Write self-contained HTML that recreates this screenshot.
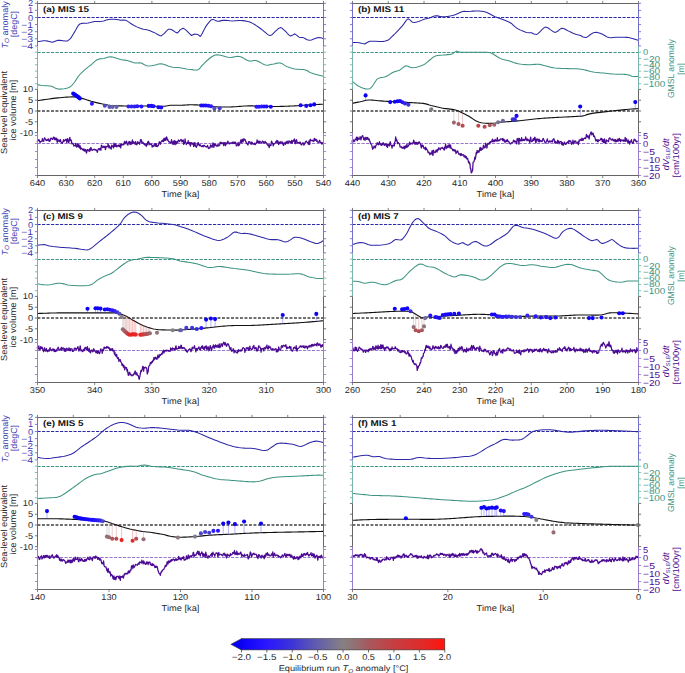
<!DOCTYPE html><html><head><meta charset="utf-8"><style>html,body{margin:0;padding:0;background:#fff;}svg{display:block;}text{font-family:"Liberation Sans",sans-serif;text-rendering:geometricPrecision;}</style></head><body>
<svg width="685" height="673" viewBox="0 0 685 673">
<rect width="685" height="673" fill="#ffffff"/>
<g>
<line x1="37.5" y1="17.5" x2="323.5" y2="17.5" stroke="#2c28a6" stroke-width="1" stroke-dasharray="3.2,1.3"/>
<line x1="37.5" y1="52.5" x2="323.5" y2="52.5" stroke="#3d9382" stroke-width="1" stroke-dasharray="3.2,1.3"/>
<line x1="37.5" y1="111" x2="323.5" y2="111" stroke="#6e6e6e" stroke-width="1.8" stroke-dasharray="2.9,1.6"/>
<line x1="37.5" y1="143.5" x2="323.5" y2="143.5" stroke="#9677cc" stroke-width="1" stroke-dasharray="3.2,1.3"/>
<polyline fill="none" stroke="#2c28a6" stroke-width="1.05" stroke-linejoin="round" points="37,41.8 38.54,41.54 40.74,41.16 43.18,40.82 45.4,40.7 47.99,41.13 50.46,41.86 52.7,42.2 55.17,41.29 57.9,40.3 60.1,40.39 62.73,40.74 65.29,41.07 67.3,41.1 70.4,38.6 71.58,36.89 72.93,34.69 74.32,32.37 75.6,30.3 76.92,27.86 78.13,25.63 79.8,24 81.63,23.39 83.82,23.2 86.07,23.16 88.1,23 90.39,22.48 92.46,21.91 94.4,21.5 97.13,21.44 99.6,21.5 101.7,21.29 103.8,20.9 106.21,20.11 109,19.4 111.39,19.26 114.02,19.28 116.3,19.4 118.53,19.85 120.5,20.3 122.78,19.99 125.7,20.3 127.33,21.13 129.21,22.33 131.21,23.7 133.22,25.02 135.1,26.1 137.37,27.12 139.63,27.97 141.73,28.66 143.5,29.2 145.68,29.59 147.6,29.9 149.5,30.56 151.64,31.43 153.9,32.4 155.75,33.35 157.75,34.46 159.65,35.42 161.2,35.9 164.3,33.4 166.33,31.07 168.5,29.2 170.57,29.32 172.7,30.3 175.09,31.91 177.3,33 178.74,31.72 180,29.9 183.1,28.2 185.13,29.38 187.3,31.3 189.47,33.69 191.5,35.5 194.6,34 197.7,34.4 200.3,36.5 201.26,35.15 202.42,33.04 203.67,30.56 204.93,28.12 206.1,26.1 207.51,24.1 208.93,22.33 210.23,20.86 211.3,19.8 213.4,19.4 215.24,20.39 217.6,21.3 219.44,21.12 221.5,20.62 223.8,20.3 225.75,20.36 227.87,20.56 230.06,20.78 232.2,20.9 234.33,20.84 236.48,20.69 238.57,20.54 240.5,20.5 242.75,20.62 244.77,20.88 246.8,21.3 248.83,21.83 250.85,22.53 253.1,23.6 254.63,24.5 256.27,25.57 257.98,26.75 259.7,27.98 261.4,29.2 263.12,30.58 264.91,32.15 266.67,33.67 268.32,34.88 269.8,35.5 271.77,34.99 273.39,33.36 275,31.7 276.77,30.1 278.54,28.47 280.2,27.6 282.24,28.33 284.4,30.3 285.86,31.72 287.5,33.51 289.14,35.15 290.6,36.1 292.83,35.1 294.8,33.8 296.9,35.33 299,37.2 300.98,37.44 303.2,37.6 305.04,38.53 307.1,39.71 309.4,40.3 311.42,39.92 313.66,39.07 315.87,38.16 317.8,37.6 320.93,37.83 323,38.4"/>
<polyline fill="none" stroke="#3d9382" stroke-width="1.05" stroke-linejoin="round" points="37,84.6 38.56,84.87 40.82,85.26 43.3,85.6 45.28,85.72 47.45,85.78 49.62,85.9 51.6,86.2 53.7,87.16 55.57,88.37 57.9,89.1 59.8,89.14 62.01,88.98 64.32,88.67 66.49,88.23 68.3,87.7 70.38,86.69 71.88,85.36 73.5,83.5 74.67,81.97 75.89,80.14 77.16,78.16 78.46,76.23 79.8,74.5 81.63,72.58 83.58,70.78 85.47,69.17 87.1,67.8 89.27,66.16 91.3,64.7 92.71,63.45 94.27,61.97 95.9,60.55 97.5,59.5 99.56,58.88 101.62,58.73 103.8,58.5 106.08,57.82 108.47,57.07 111.1,56.8 113.38,57.21 115.86,57.98 118.32,58.84 120.5,59.5 122.76,59.9 124.67,60.12 126.8,60.5 128.78,61.08 130.95,61.81 133.12,62.52 135.1,63 137.39,63.08 139.46,62.89 141.4,63 143.94,64.43 146.6,65.8 148.88,65.92 151.39,65.67 153.9,65.3 156.26,64.67 158.61,63.93 161.2,63.7 163.4,64.19 165.77,65.09 168.2,66.06 170.6,66.8 172.97,67.19 175.36,67.4 177.72,67.56 180,67.8 182.15,68.16 184.21,68.57 186.26,68.98 188.4,69.3 190.8,69.6 193.37,69.89 195.78,70.03 197.7,69.9 199.49,68.78 200.9,66.8 202.21,65.42 203.74,63.78 205.4,62.07 207.1,60.5 208.87,59 210.74,57.51 212.62,56.21 214.4,55.3 216.61,54.86 218.72,55 220.7,55.3 223.37,56.01 225.9,56.8 228.3,57.26 231.1,57.4 232.95,57.13 235.04,56.65 237.25,56.29 239.5,56.4 241.35,57.04 243.29,58.08 245.24,59.26 247.14,60.32 248.9,61 251.41,61.02 253.69,60.48 256.2,60.5 258,61.18 259.96,62.23 261.96,63.4 263.88,64.44 265.6,65.1 267.86,65.25 269.77,64.8 271.9,64.3 273.88,63.9 276.05,63.39 278.22,63.01 280.2,63 282.37,63.82 284.33,65.16 286.5,66.4 288.38,67.12 290.39,67.8 292.52,68.4 294.8,68.9 296.83,69.16 299.05,69.3 301.3,69.41 303.44,69.58 305.3,69.9 307.49,70.81 309.2,71.96 311.5,73.1 313.64,73.78 316.27,74.5 318.97,75.19 321.35,75.78 323,76.2"/>
<polyline fill="none" stroke="#111111" stroke-width="1.1" stroke-linejoin="round" points="37,100.7 38.41,100.49 40.41,100.2 42.73,99.86 45.15,99.51 47.4,99.2 49.41,98.92 51.35,98.65 53.33,98.39 55.47,98.14 57.9,97.9 59.92,97.72 62.17,97.51 64.55,97.31 66.98,97.12 69.35,96.98 71.55,96.9 73.5,96.9 76.31,97.11 78.65,97.52 80.77,98.04 82.9,98.6 85.07,99.22 87.17,99.92 89.23,100.64 91.3,101.3 93.33,101.87 95.32,102.4 97.37,102.9 99.6,103.4 101.56,103.81 103.65,104.24 105.8,104.64 107.97,105.01 110.1,105.3 112.02,105.51 113.76,105.66 115.59,105.77 117.75,105.84 120.5,105.9 122.16,105.92 124.01,105.93 126,105.93 128.1,105.92 130.29,105.91 132.54,105.9 134.8,105.89 137.05,105.88 139.26,105.89 141.4,105.9 143.55,105.93 145.78,105.98 148.07,106.03 150.36,106.1 152.64,106.16 154.85,106.22 156.96,106.27 158.93,106.3 160.72,106.31 162.3,106.3 165.24,106.12 167.17,105.83 168.74,105.51 170.6,105.3 172.8,105.24 175.04,105.27 177.41,105.31 180,105.3 181.88,105.23 183.86,105.13 185.93,105.01 188.06,104.9 190.26,104.82 192.5,104.8 194.51,104.83 196.64,104.89 198.83,104.98 201.02,105.09 203.17,105.21 205.21,105.35 207.1,105.5 209.4,105.76 211.4,106.08 213.3,106.41 215.3,106.7 217.6,106.9 219.45,106.98 221.41,107.03 223.46,107.05 225.58,107.04 227.76,107.01 229.97,106.96 232.2,106.9 234.13,106.81 236.03,106.68 237.94,106.53 239.89,106.36 241.93,106.2 244.09,106.06 246.4,105.96 248.9,105.9 250.71,105.9 252.65,105.92 254.69,105.97 256.8,106.03 258.98,106.1 261.19,106.18 263.42,106.25 265.64,106.33 267.83,106.4 269.97,106.45 272.03,106.49 274,106.5 276.28,106.49 278.53,106.46 280.75,106.42 282.93,106.37 285.06,106.31 287.13,106.23 289.15,106.15 291.11,106.07 292.99,105.99 294.8,105.9 297.22,105.76 299.45,105.61 301.54,105.44 303.54,105.26 305.48,105.09 307.42,104.94 309.4,104.8 311.88,104.66 314.51,104.54 317.11,104.43 319.51,104.34 321.53,104.26 323,104.2"/>
<polyline fill="none" stroke="#4a0a92" stroke-width="1.25" stroke-linejoin="round" points="37,140.68 37.45,141.52 37.9,140.78 38.35,140.46 38.8,139.58 39.25,140.23 39.7,142.02 40.15,141.58 40.6,142.21 41.05,141.35 41.5,141.29 41.95,140.99 42.4,138.57 42.85,141.09 43.3,141.25 43.75,141.26 44.2,138.49 44.65,137.71 45.1,138.55 45.55,139.24 46,140.29 46.45,140.04 46.9,140.61 47.35,139.22 47.8,139.98 48.25,140.21 48.7,138.87 49.15,141.43 49.6,140.54 50.05,141.04 50.5,138.82 50.95,138.04 51.4,138.26 51.85,138.54 52.3,139.46 52.75,139.13 53.2,138.1 53.65,137.13 54.1,137.36 54.55,139.52 55,137.81 55.45,139.08 55.9,139.97 56.35,138.13 56.8,139.93 57.25,142.29 57.7,139.07 58.15,140.46 58.6,141.01 59.05,140.25 59.5,141.69 59.95,141.34 60.4,139.49 60.85,141.88 61.3,142.27 61.75,142.7 62.2,143.42 62.65,142.24 63.1,141.63 63.55,139.69 64,141.59 64.45,140.52 64.9,140.44 65.35,139.4 65.8,139.5 66.25,140.06 66.7,142.46 67.15,138.9 67.6,138.72 68.05,140.78 68.5,142.79 68.95,142.2 69.4,138.95 69.85,137.35 70.3,140.53 70.75,140.25 71.2,140.01 71.65,142.85 72.1,144 72.55,143.38 73,143.62 73.45,144.2 73.9,146.07 74.35,145.6 74.8,145.58 75.25,145.75 75.7,143.32 76.15,146.45 76.6,146.99 77.05,146.76 77.5,143.74 77.95,144.83 78.4,147.12 78.85,144.54 79.3,146.1 79.75,148.16 80.2,145.93 80.65,149.2 81.1,148.89 81.55,148.14 82,148.75 82.45,149.51 82.9,149.25 83.35,150.67 83.8,148.96 84.25,149.05 84.7,151.1 85.15,150.54 85.6,149.47 86.05,151.69 86.5,153.1 86.95,151.27 87.4,149.47 87.85,150.32 88.3,150.29 88.75,149.88 89.2,151.69 89.65,148.89 90.1,150.83 90.55,147.94 91,147.6 91.45,149.19 91.9,150.32 92.35,150.32 92.8,149.74 93.25,149.39 93.7,149.37 94.15,149.95 94.6,149.21 95.05,149.65 95.5,150.18 95.95,149.65 96.4,150.53 96.85,150.55 97.3,152.42 97.75,150.67 98.2,149.09 98.65,148.6 99.1,148.76 99.55,149.81 100,148.33 100.45,148.7 100.9,150.44 101.35,145.2 101.8,145.53 102.25,147.15 102.7,147.59 103.15,147.33 103.6,146.26 104.05,147.33 104.5,147.2 104.95,146.19 105.4,149.66 105.85,147.97 106.3,146.44 106.75,146.66 107.2,146.59 107.65,146.8 108.1,143.56 108.55,145.58 109,147.99 109.45,145.9 109.9,146.79 110.35,148.23 110.8,148.36 111.25,149.1 111.7,145.21 112.15,145.83 112.6,145.92 113.05,147.05 113.5,147.84 113.95,143.23 114.4,146.7 114.85,144.31 115.3,146.29 115.75,143.98 116.2,145.4 116.65,146.94 117.1,145.56 117.55,145.55 118,146.22 118.45,145.48 118.9,144.92 119.35,146.72 119.8,146.47 120.25,144.65 120.7,147.91 121.15,143.8 121.6,145.28 122.05,144.11 122.5,144.24 122.95,144.93 123.4,144.43 123.85,144.76 124.3,142.06 124.75,141.34 125.2,143.75 125.65,142.31 126.1,141.81 126.55,141.06 127,144.23 127.45,144.3 127.9,145.16 128.35,142.29 128.8,142.68 129.25,141.29 129.7,143.25 130.15,144.7 130.6,141.9 131.05,144.21 131.5,144.09 131.95,142.6 132.4,139.98 132.85,143.55 133.3,142.57 133.75,141.69 134.2,142.72 134.65,142.99 135.1,144.42 135.55,141.63 136,143.63 136.45,144.57 136.9,144.76 137.35,142.76 137.8,141.56 138.25,143.46 138.7,142.81 139.15,142.66 139.6,144.24 140.05,142.53 140.5,139.56 140.95,141.21 141.4,139.78 141.85,142.88 142.3,143.12 142.75,142.1 143.2,142.68 143.65,143.97 144.1,143.43 144.55,144.94 145,143.67 145.45,144.82 145.9,145.75 146.35,146.22 146.8,143.57 147.25,144.93 147.7,141.91 148.15,142.23 148.6,141.3 149.05,144.94 149.5,143.06 149.95,144.17 150.4,144.26 150.85,144.54 151.3,143.95 151.75,144.88 152.2,147.11 152.65,145.53 153.1,145.78 153.55,146.48 154,145.21 154.45,143.61 154.9,144.13 155.35,146.35 155.8,143.55 156.25,144.2 156.7,146.42 157.15,146.64 157.6,145.45 158.05,145.94 158.5,145.05 158.95,142.94 159.4,141.73 159.85,142.37 160.3,144.27 160.75,142.68 161.2,141.65 161.65,141.35 162.1,140.12 162.55,141.37 163,140.15 163.45,141.56 163.9,138.3 164.35,140.64 164.8,139.8 165.25,137.76 165.7,140.38 166.15,139.57 166.6,136.93 167.05,138.17 167.5,140.08 167.95,139.77 168.4,141.38 168.85,141.89 169.3,142.06 169.75,141.82 170.2,143.17 170.65,142.81 171.1,142.6 171.55,139.52 172,142.62 172.45,144.06 172.9,142.41 173.35,141.64 173.8,144.37 174.25,140.33 174.7,142 175.15,144.77 175.6,141.17 176.05,142.2 176.5,143.86 176.95,141.66 177.4,141.87 177.85,142.25 178.3,139.99 178.75,140.35 179.2,140.82 179.65,141.5 180.1,140.56 180.55,140.28 181,139.29 181.45,139.97 181.9,141.8 182.35,141.38 182.8,140.18 183.25,140 183.7,144.45 184.15,143.75 184.6,143.06 185.05,138.95 185.5,142.04 185.95,142.74 186.4,144.53 186.85,143.51 187.3,142.74 187.75,143.39 188.2,140.57 188.65,143.69 189.1,143.69 189.55,142.51 190,144.85 190.45,146.14 190.9,142.5 191.35,142.57 191.8,143.85 192.25,144.1 192.7,143.5 193.15,142.7 193.6,146.43 194.05,146.07 194.5,143.26 194.95,142.43 195.4,146.1 195.85,146.19 196.3,147.31 196.75,146.39 197.2,144.13 197.65,145.04 198.1,142.31 198.55,143.45 199,144.66 199.45,145.76 199.9,144.53 200.35,145.05 200.8,145.97 201.25,146.17 201.7,146.62 202.15,146.28 202.6,145.6 203.05,146.9 203.5,146.37 203.95,145.22 204.4,145.26 204.85,146.13 205.3,146.28 205.75,146.73 206.2,146.72 206.65,147.01 207.1,146.77 207.55,145.38 208,147.21 208.45,148.54 208.9,148.17 209.35,147.37 209.8,148.04 210.25,146.52 210.7,144.78 211.15,146.63 211.6,145.7 212.05,147.41 212.5,145.4 212.95,142.81 213.4,144 213.85,147.42 214.3,145.67 214.75,143.85 215.2,143.99 215.65,145.48 216.1,145.67 216.55,145.17 217,146.52 217.45,145.74 217.9,144.48 218.35,144.78 218.8,146.03 219.25,145.34 219.7,145.07 220.15,142.22 220.6,142.53 221.05,143.55 221.5,142.37 221.95,143.69 222.4,143.47 222.85,143.8 223.3,142.49 223.75,145.6 224.2,144.75 224.65,142.72 225.1,142.59 225.55,145.69 226,142.79 226.45,143.59 226.9,143.92 227.35,142.79 227.8,141.04 228.25,142.29 228.7,142.82 229.15,143.92 229.6,143.76 230.05,142.77 230.5,143.56 230.95,143.36 231.4,142.9 231.85,142.59 232.3,142.22 232.75,143.6 233.2,142.02 233.65,142.4 234.1,143.54 234.55,142.24 235,143.45 235.45,142.03 235.9,143.59 236.35,145.79 236.8,146 237.25,145.01 237.7,144.3 238.15,142.39 238.6,145.73 239.05,144.68 239.5,144.89 239.95,142.23 240.4,142.19 240.85,139.89 241.3,142.33 241.75,142.88 242.2,139.23 242.65,140.44 243.1,141.81 243.55,139.27 244,138.67 244.45,139.59 244.9,140.47 245.35,139.84 245.8,141.59 246.25,142.41 246.7,143.21 247.15,143.6 247.6,144.82 248.05,144.81 248.5,141.83 248.95,142.2 249.4,141.71 249.85,141.68 250.3,143.03 250.75,143.59 251.2,144.45 251.65,142.18 252.1,142.16 252.55,143.79 253,144.08 253.45,143.92 253.9,144.09 254.35,143.18 254.8,144.69 255.25,144.54 255.7,143.87 256.15,142.88 256.6,143.17 257.05,139.97 257.5,141.25 257.95,142.76 258.4,141.12 258.85,142.76 259.3,143.01 259.75,141.08 260.2,141.92 260.65,141.96 261.1,142.85 261.55,143.18 262,142.36 262.45,141.05 262.9,141.52 263.35,141.65 263.8,142.93 264.25,143.05 264.7,142.1 265.15,141.37 265.6,142.71 266.05,142.89 266.5,142.76 266.95,144.27 267.4,144.48 267.85,145.37 268.3,145.84 268.75,144.63 269.2,147.58 269.65,144.84 270.1,145.77 270.55,144.61 271,145.39 271.45,141.06 271.9,141.84 272.35,143.12 272.8,143.71 273.25,145.86 273.7,143.72 274.15,144.21 274.6,143.52 275.05,143.41 275.5,142.67 275.95,141.49 276.4,142.13 276.85,140.38 277.3,142.83 277.75,140.76 278.2,141.89 278.65,144.57 279.1,142.38 279.55,142.2 280,143.65 280.45,142.65 280.9,141.42 281.35,142.51 281.8,143.26 282.25,143.67 282.7,141.98 283.15,144.78 283.6,145.44 284.05,143.6 284.5,143.47 284.95,142.41 285.4,144.34 285.85,142.06 286.3,143.11 286.75,141.82 287.2,141.12 287.65,142.6 288.1,143.63 288.55,142.1 289,140.77 289.45,142.19 289.9,141.36 290.35,141.49 290.8,142.93 291.25,142.69 291.7,140.45 292.15,143.29 292.6,141.04 293.05,141.63 293.5,140.18 293.95,140.74 294.4,138.92 294.85,143.05 295.3,143.73 295.75,140.84 296.2,139.92 296.65,139.72 297.1,143.33 297.55,142.36 298,142.78 298.45,142.74 298.9,143.14 299.35,142.2 299.8,143.52 300.25,142.2 300.7,143.74 301.15,144.73 301.6,144.94 302.05,143.99 302.5,142.77 302.95,143.66 303.4,142.94 303.85,145.19 304.3,144.62 304.75,143.23 305.2,142.31 305.65,141.65 306.1,141.06 306.55,141.5 307,142.29 307.45,142.62 307.9,142.64 308.35,144.42 308.8,141.22 309.25,141.18 309.7,144.51 310.15,139.38 310.6,139.65 311.05,140.44 311.5,140.48 311.95,140.91 312.4,140.24 312.85,140.87 313.3,140.67 313.75,141.56 314.2,138.49 314.65,139.02 315.1,140.29 315.55,139.36 316,139.15 316.45,141.22 316.9,140.18 317.35,141.56 317.8,142.09 318.25,141.91 318.7,142.3 319.15,141.82 319.6,140.26 320.05,141.78 320.5,142.96 320.95,142.21 321.4,142.75 321.85,144.13 322.3,142.63 322.75,144.34"/>
<circle cx="73.2" cy="93.6" r="2.05" fill="#0c00f5"/>
<circle cx="74.3" cy="94.3" r="2.05" fill="#0c00f5"/>
<circle cx="75.4" cy="95" r="2.05" fill="#0c00f5"/>
<circle cx="76.5" cy="95.8" r="2.05" fill="#0c00f5"/>
<circle cx="77.6" cy="96.6" r="2.05" fill="#0c00f5"/>
<circle cx="78.7" cy="97.4" r="2.05" fill="#0c00f5"/>
<circle cx="79.8" cy="98.4" r="2.05" fill="#0c00f5"/>
<circle cx="91.9" cy="103.8" r="2.05" fill="#2e1cf7"/>
<circle cx="104.8" cy="105.8" r="2.05" fill="#4d46c5"/>
<circle cx="109.5" cy="106.9" r="2.05" fill="#5c57b3"/>
<circle cx="112.5" cy="106.9" r="2.05" fill="#6460aa"/>
<circle cx="116.5" cy="106.9" r="2.05" fill="#6460aa"/>
<circle cx="128.5" cy="106.5" r="2.05" fill="#3222ef"/>
<circle cx="131.5" cy="106.5" r="2.05" fill="#3222ef"/>
<circle cx="134.5" cy="106.5" r="2.05" fill="#3222ef"/>
<circle cx="137.2" cy="106.2" r="2.05" fill="#2a16ff"/>
<circle cx="141.4" cy="106.5" r="2.05" fill="#2412fd"/>
<circle cx="148.7" cy="105.9" r="2.05" fill="#1809f9"/>
<circle cx="151.5" cy="105.9" r="2.05" fill="#1809f9"/>
<circle cx="153.5" cy="106.2" r="2.05" fill="#1e0dfb"/>
<circle cx="158.5" cy="107.3" r="2.05" fill="#1809f9"/>
<circle cx="161.2" cy="107.5" r="2.05" fill="#1809f9"/>
<circle cx="201.2" cy="105.5" r="2.05" fill="#1809f9"/>
<circle cx="203.5" cy="105.5" r="2.05" fill="#1809f9"/>
<circle cx="206" cy="105.5" r="2.05" fill="#1e0dfb"/>
<circle cx="208.5" cy="105.8" r="2.05" fill="#2412fd"/>
<circle cx="211" cy="106.2" r="2.05" fill="#2e1cf7"/>
<circle cx="214.4" cy="108.4" r="2.05" fill="#554ebc"/>
<circle cx="219.7" cy="108.2" r="2.05" fill="#463dce"/>
<circle cx="256.5" cy="106.7" r="2.05" fill="#2a16ff"/>
<circle cx="259" cy="106.7" r="2.05" fill="#2a16ff"/>
<circle cx="261.5" cy="106.5" r="2.05" fill="#2a16ff"/>
<circle cx="264" cy="106.5" r="2.05" fill="#2412fd"/>
<circle cx="266.5" cy="106.5" r="2.05" fill="#1e0dfb"/>
<circle cx="270.8" cy="106.7" r="2.05" fill="#1809f9"/>
<circle cx="300.7" cy="105.3" r="2.05" fill="#1204f7"/>
<circle cx="306.3" cy="105.9" r="2.05" fill="#1809f9"/>
<circle cx="310.5" cy="105.3" r="2.05" fill="#1204f7"/>
<circle cx="314.2" cy="104.4" r="2.05" fill="#0c00f5"/>
<line x1="37.5" y1="3.5" x2="37.5" y2="46.3" stroke="#7470c8" stroke-width="1"/>
<line x1="37.5" y1="46.3" x2="37.5" y2="89.5" stroke="#77b5a8" stroke-width="1"/>
<line x1="37.5" y1="89.5" x2="37.5" y2="132.8" stroke="#656565" stroke-width="1"/>
<line x1="37.5" y1="132.8" x2="37.5" y2="175.5" stroke="#9a7ccf" stroke-width="1"/>
<line x1="323.5" y1="3.5" x2="323.5" y2="46.3" stroke="#7470c8" stroke-width="1"/>
<line x1="323.5" y1="46.3" x2="323.5" y2="89.5" stroke="#77b5a8" stroke-width="1"/>
<line x1="323.5" y1="89.5" x2="323.5" y2="132.8" stroke="#656565" stroke-width="1"/>
<line x1="323.5" y1="132.8" x2="323.5" y2="175.5" stroke="#9a7ccf" stroke-width="1"/>
<line x1="37" y1="3.5" x2="324" y2="3.5" stroke="#656565" stroke-width="1"/>
<line x1="37" y1="175.5" x2="324" y2="175.5" stroke="#656565" stroke-width="1"/>
<line x1="34.9" y1="3.3" x2="37.5" y2="3.3" stroke="#7470c8" stroke-width="0.9"/><line x1="323.5" y1="3.3" x2="326.1" y2="3.3" stroke="#7470c8" stroke-width="0.9"/><line x1="34.9" y1="10.4" x2="37.5" y2="10.4" stroke="#7470c8" stroke-width="0.9"/><line x1="323.5" y1="10.4" x2="326.1" y2="10.4" stroke="#7470c8" stroke-width="0.9"/><line x1="34.9" y1="17.5" x2="37.5" y2="17.5" stroke="#7470c8" stroke-width="0.9"/><line x1="323.5" y1="17.5" x2="326.1" y2="17.5" stroke="#7470c8" stroke-width="0.9"/><line x1="34.9" y1="24.6" x2="37.5" y2="24.6" stroke="#7470c8" stroke-width="0.9"/><line x1="323.5" y1="24.6" x2="326.1" y2="24.6" stroke="#7470c8" stroke-width="0.9"/><line x1="34.9" y1="31.7" x2="37.5" y2="31.7" stroke="#7470c8" stroke-width="0.9"/><line x1="323.5" y1="31.7" x2="326.1" y2="31.7" stroke="#7470c8" stroke-width="0.9"/><line x1="34.9" y1="38.8" x2="37.5" y2="38.8" stroke="#7470c8" stroke-width="0.9"/><line x1="323.5" y1="38.8" x2="326.1" y2="38.8" stroke="#7470c8" stroke-width="0.9"/><line x1="34.9" y1="45.9" x2="37.5" y2="45.9" stroke="#7470c8" stroke-width="0.9"/><line x1="323.5" y1="45.9" x2="326.1" y2="45.9" stroke="#7470c8" stroke-width="0.9"/><line x1="34.9" y1="52.2" x2="37.5" y2="52.2" stroke="#77b5a8" stroke-width="0.9"/><line x1="323.5" y1="52.2" x2="326.1" y2="52.2" stroke="#77b5a8" stroke-width="0.9"/><line x1="34.9" y1="58.5" x2="37.5" y2="58.5" stroke="#77b5a8" stroke-width="0.9"/><line x1="323.5" y1="58.5" x2="326.1" y2="58.5" stroke="#77b5a8" stroke-width="0.9"/><line x1="34.9" y1="64.8" x2="37.5" y2="64.8" stroke="#77b5a8" stroke-width="0.9"/><line x1="323.5" y1="64.8" x2="326.1" y2="64.8" stroke="#77b5a8" stroke-width="0.9"/><line x1="34.9" y1="71.1" x2="37.5" y2="71.1" stroke="#77b5a8" stroke-width="0.9"/><line x1="323.5" y1="71.1" x2="326.1" y2="71.1" stroke="#77b5a8" stroke-width="0.9"/><line x1="34.9" y1="77.4" x2="37.5" y2="77.4" stroke="#77b5a8" stroke-width="0.9"/><line x1="323.5" y1="77.4" x2="326.1" y2="77.4" stroke="#77b5a8" stroke-width="0.9"/><line x1="34.9" y1="83.7" x2="37.5" y2="83.7" stroke="#77b5a8" stroke-width="0.9"/><line x1="323.5" y1="83.7" x2="326.1" y2="83.7" stroke="#77b5a8" stroke-width="0.9"/><line x1="34.9" y1="89.4" x2="37.5" y2="89.4" stroke="#656565" stroke-width="0.9"/><line x1="323.5" y1="89.4" x2="326.1" y2="89.4" stroke="#656565" stroke-width="0.9"/><line x1="34.9" y1="100.2" x2="37.5" y2="100.2" stroke="#656565" stroke-width="0.9"/><line x1="323.5" y1="100.2" x2="326.1" y2="100.2" stroke="#656565" stroke-width="0.9"/><line x1="34.9" y1="111" x2="37.5" y2="111" stroke="#656565" stroke-width="0.9"/><line x1="323.5" y1="111" x2="326.1" y2="111" stroke="#656565" stroke-width="0.9"/><line x1="34.9" y1="121.8" x2="37.5" y2="121.8" stroke="#656565" stroke-width="0.9"/><line x1="323.5" y1="121.8" x2="326.1" y2="121.8" stroke="#656565" stroke-width="0.9"/><line x1="34.9" y1="132.6" x2="37.5" y2="132.6" stroke="#656565" stroke-width="0.9"/><line x1="323.5" y1="132.6" x2="326.1" y2="132.6" stroke="#656565" stroke-width="0.9"/><line x1="34.9" y1="135.5" x2="37.5" y2="135.5" stroke="#9a7ccf" stroke-width="0.9"/><line x1="323.5" y1="135.5" x2="326.1" y2="135.5" stroke="#9a7ccf" stroke-width="0.9"/><line x1="34.9" y1="143.5" x2="37.5" y2="143.5" stroke="#9a7ccf" stroke-width="0.9"/><line x1="323.5" y1="143.5" x2="326.1" y2="143.5" stroke="#9a7ccf" stroke-width="0.9"/><line x1="34.9" y1="151.5" x2="37.5" y2="151.5" stroke="#9a7ccf" stroke-width="0.9"/><line x1="323.5" y1="151.5" x2="326.1" y2="151.5" stroke="#9a7ccf" stroke-width="0.9"/><line x1="34.9" y1="159.5" x2="37.5" y2="159.5" stroke="#9a7ccf" stroke-width="0.9"/><line x1="323.5" y1="159.5" x2="326.1" y2="159.5" stroke="#9a7ccf" stroke-width="0.9"/><line x1="34.9" y1="167.5" x2="37.5" y2="167.5" stroke="#9a7ccf" stroke-width="0.9"/><line x1="323.5" y1="167.5" x2="326.1" y2="167.5" stroke="#9a7ccf" stroke-width="0.9"/><line x1="34.9" y1="175.5" x2="37.5" y2="175.5" stroke="#9a7ccf" stroke-width="0.9"/><line x1="323.5" y1="175.5" x2="326.1" y2="175.5" stroke="#9a7ccf" stroke-width="0.9"/><line x1="37.5" y1="175.5" x2="37.5" y2="178.1" stroke="#656565" stroke-width="0.8"/><line x1="66.1" y1="175.5" x2="66.1" y2="178.1" stroke="#656565" stroke-width="0.8"/><line x1="94.7" y1="175.5" x2="94.7" y2="178.1" stroke="#656565" stroke-width="0.8"/><line x1="123.3" y1="175.5" x2="123.3" y2="178.1" stroke="#656565" stroke-width="0.8"/><line x1="151.9" y1="175.5" x2="151.9" y2="178.1" stroke="#656565" stroke-width="0.8"/><line x1="180.5" y1="175.5" x2="180.5" y2="178.1" stroke="#656565" stroke-width="0.8"/><line x1="209.1" y1="175.5" x2="209.1" y2="178.1" stroke="#656565" stroke-width="0.8"/><line x1="237.7" y1="175.5" x2="237.7" y2="178.1" stroke="#656565" stroke-width="0.8"/><line x1="266.3" y1="175.5" x2="266.3" y2="178.1" stroke="#656565" stroke-width="0.8"/><line x1="294.9" y1="175.5" x2="294.9" y2="178.1" stroke="#656565" stroke-width="0.8"/><line x1="323.5" y1="175.5" x2="323.5" y2="178.1" stroke="#656565" stroke-width="0.8"/><line x1="37.5" y1="0.9" x2="37.5" y2="3.5" stroke="#656565" stroke-width="0.8"/><line x1="94.7" y1="0.9" x2="94.7" y2="3.5" stroke="#656565" stroke-width="0.8"/><line x1="151.9" y1="0.9" x2="151.9" y2="3.5" stroke="#656565" stroke-width="0.8"/><line x1="209.1" y1="0.9" x2="209.1" y2="3.5" stroke="#656565" stroke-width="0.8"/><line x1="266.3" y1="0.9" x2="266.3" y2="3.5" stroke="#656565" stroke-width="0.8"/><line x1="323.5" y1="0.9" x2="323.5" y2="3.5" stroke="#656565" stroke-width="0.8"/>
<text x="37.5" y="186.1" font-size="8.5" fill="#262626" text-anchor="middle" textLength="15.37" lengthAdjust="spacingAndGlyphs">640</text>
<text x="66.1" y="186.1" font-size="8.5" fill="#262626" text-anchor="middle" textLength="15.37" lengthAdjust="spacingAndGlyphs">630</text>
<text x="94.7" y="186.1" font-size="8.5" fill="#262626" text-anchor="middle" textLength="15.37" lengthAdjust="spacingAndGlyphs">620</text>
<text x="123.3" y="186.1" font-size="8.5" fill="#262626" text-anchor="middle" textLength="15.37" lengthAdjust="spacingAndGlyphs">610</text>
<text x="151.9" y="186.1" font-size="8.5" fill="#262626" text-anchor="middle" textLength="15.37" lengthAdjust="spacingAndGlyphs">600</text>
<text x="180.5" y="186.1" font-size="8.5" fill="#262626" text-anchor="middle" textLength="15.37" lengthAdjust="spacingAndGlyphs">590</text>
<text x="209.1" y="186.1" font-size="8.5" fill="#262626" text-anchor="middle" textLength="15.37" lengthAdjust="spacingAndGlyphs">580</text>
<text x="237.7" y="186.1" font-size="8.5" fill="#262626" text-anchor="middle" textLength="15.37" lengthAdjust="spacingAndGlyphs">570</text>
<text x="266.3" y="186.1" font-size="8.5" fill="#262626" text-anchor="middle" textLength="15.37" lengthAdjust="spacingAndGlyphs">560</text>
<text x="294.9" y="186.1" font-size="8.5" fill="#262626" text-anchor="middle" textLength="15.37" lengthAdjust="spacingAndGlyphs">550</text>
<text x="323.5" y="186.1" font-size="8.5" fill="#262626" text-anchor="middle" textLength="15.37" lengthAdjust="spacingAndGlyphs">540</text>
<text x="180.5" y="196.5" font-size="8.7" fill="#262626" text-anchor="middle" textLength="37.76" lengthAdjust="spacingAndGlyphs">Time [ka]</text>
<text x="42.9" y="11.8" font-size="8.4" fill="#111" text-anchor="start" font-weight="bold" textLength="46.11" lengthAdjust="spacingAndGlyphs">(a) MIS 15</text>
<text x="33.1" y="6.3" font-size="8.5" fill="#3a37b0" text-anchor="end" textLength="5.15" lengthAdjust="spacingAndGlyphs">2</text>
<text x="33.1" y="13.4" font-size="8.5" fill="#3a37b0" text-anchor="end" textLength="5.15" lengthAdjust="spacingAndGlyphs">1</text>
<text x="33.1" y="20.5" font-size="8.5" fill="#3a37b0" text-anchor="end" textLength="5.15" lengthAdjust="spacingAndGlyphs">0</text>
<text x="33.1" y="27.6" font-size="8.5" fill="#3a37b0" text-anchor="end" textLength="11.94" lengthAdjust="spacingAndGlyphs">−1</text>
<text x="33.1" y="34.7" font-size="8.5" fill="#3a37b0" text-anchor="end" textLength="11.94" lengthAdjust="spacingAndGlyphs">−2</text>
<text x="33.1" y="41.8" font-size="8.5" fill="#3a37b0" text-anchor="end" textLength="11.94" lengthAdjust="spacingAndGlyphs">−3</text>
<text x="33.1" y="48.9" font-size="8.5" fill="#3a37b0" text-anchor="end" textLength="11.94" lengthAdjust="spacingAndGlyphs">−4</text>
<text x="33.1" y="92.4" font-size="8.5" fill="#262626" text-anchor="end" textLength="10.31" lengthAdjust="spacingAndGlyphs">10</text>
<text x="33.1" y="103.2" font-size="8.5" fill="#262626" text-anchor="end" textLength="5.15" lengthAdjust="spacingAndGlyphs">5</text>
<text x="33.1" y="114" font-size="8.5" fill="#262626" text-anchor="end" textLength="5.15" lengthAdjust="spacingAndGlyphs">0</text>
<text x="33.1" y="124.8" font-size="8.5" fill="#262626" text-anchor="end" textLength="8.08" lengthAdjust="spacingAndGlyphs">-5</text>
<text x="33.1" y="135.6" font-size="8.5" fill="#262626" text-anchor="end" textLength="13.23" lengthAdjust="spacingAndGlyphs">-10</text>
<text transform="translate(7.8,24.9) rotate(-90)" x="0" y="0" font-size="8.8" fill="#3a37b0" text-anchor="middle" textLength="47.4" lengthAdjust="spacingAndGlyphs"><tspan font-style="italic">T</tspan><tspan font-size="6.2" font-style="italic" dy="1.6">O</tspan><tspan dy="-1.6"> anomaly</tspan></text>
<text transform="translate(17.2,24.1) rotate(-90)" x="0" y="0" font-size="8.8" fill="#3a37b0" text-anchor="middle" textLength="26.3" lengthAdjust="spacingAndGlyphs">[degC]</text>
<text transform="translate(7.4,112.4) rotate(-90)" x="0" y="0" font-size="8.8" fill="#262626" text-anchor="middle" textLength="83.1" lengthAdjust="spacingAndGlyphs">Sea-level equivalent</text>
<text transform="translate(16.2,110.2) rotate(-90)" x="0" y="0" font-size="8.8" fill="#262626" text-anchor="middle" textLength="60.8" lengthAdjust="spacingAndGlyphs">ice volume [m]</text>
</g>
<g>
<line x1="352.5" y1="17.5" x2="638.5" y2="17.5" stroke="#2c28a6" stroke-width="1" stroke-dasharray="3.2,1.3"/>
<line x1="352.5" y1="52.5" x2="638.5" y2="52.5" stroke="#3d9382" stroke-width="1" stroke-dasharray="3.2,1.3"/>
<line x1="352.5" y1="111" x2="638.5" y2="111" stroke="#6e6e6e" stroke-width="1.8" stroke-dasharray="2.9,1.6"/>
<line x1="352.5" y1="143.5" x2="638.5" y2="143.5" stroke="#9677cc" stroke-width="1" stroke-dasharray="3.2,1.3"/>
<polyline fill="none" stroke="#2c28a6" stroke-width="1.05" stroke-linejoin="round" points="352,42.4 353.96,42.47 356.72,42.59 359.3,42.8 362.26,43.59 364.9,44 366.67,42.74 369.7,41.3 371.44,41.18 373.64,41.21 376.11,41.3 378.69,41.4 381.21,41.45 383.5,41.37 385.4,41.1 387.77,40.26 389.44,39.1 390.92,37.64 392.7,35.9 394.19,34.5 395.81,32.88 397.49,31.13 399.15,29.35 400.71,27.64 402.1,26.1 403.85,23.85 405.36,21.62 406.71,19.81 408,18.8 410.23,20.14 412.5,22.3 414.51,22.41 416.71,22.04 418.8,21.5 421.4,20.39 424,19.2 426.06,18.66 428.24,18.21 430.3,17.7 432.9,16.54 435.5,15.7 437.44,15.87 439.51,16.37 441.8,16.7 443.78,16.69 445.95,16.58 448.12,16.38 450.1,16.1 452.35,15.59 454.38,14.94 456.4,14.2 458.47,13.26 460.53,12.23 462.6,11.5 464.61,11.32 466.64,11.44 468.9,11.5 470.85,11.35 472.98,11.12 475.16,10.94 477.3,10.9 479.36,10.99 481.39,11.18 483.45,11.52 485.6,12.1 487.43,12.83 489.33,13.77 491.26,14.8 493.17,15.82 495,16.7 497.2,17.58 499.33,18.34 501.4,19.05 503.4,19.8 505.96,20.79 508.39,21.78 510.7,23 512.25,24.18 513.67,25.54 515.15,26.92 516.9,28.2 518.64,29.16 520.63,30.13 522.69,31.04 524.64,31.82 526.3,32.4 529.16,32.76 531.5,32.8 533.96,34.08 536.8,34.4 538.32,33.35 540.05,31.65 541.86,29.74 543.59,28.08 545.1,27.1 547.89,27.72 550.3,29.6 552.83,31.42 555.5,32.4 557.56,31.29 559.74,29.39 561.8,28.2 564.34,28.77 567,30.3 568.7,31.12 570.58,32.08 572.5,33.02 574.3,33.8 576.51,34.49 578.62,34.97 580.6,35.5 583.07,36.98 585.8,37.6 587.7,36.66 589.87,35.04 592.1,33.41 594.2,32.4 596.71,32.29 599.11,32.91 601.5,33.8 603.33,34.68 605.15,35.81 606.97,36.89 608.8,37.6 611.04,37.75 613.28,37.43 616.1,37.2 617.92,37.19 620,37.19 622.22,37.21 624.47,37.27 626.64,37.39 628.6,37.6 631.39,38.18 634.08,38.98 636.38,39.76 638,40.3"/>
<polyline fill="none" stroke="#3d9382" stroke-width="1.05" stroke-linejoin="round" points="352,81 353.24,82.09 355,83.67 357.09,85.31 359.3,86.6 361.22,87.43 363.36,88.26 365.58,88.88 367.74,89.1 369.7,88.7 371.15,87.67 372.49,86.03 373.76,84.06 374.99,82.04 376.22,80.23 377.5,78.9 379.46,77.9 381.41,77.54 383.39,77.33 385.4,76.8 387.52,75.73 389.71,74.4 391.84,73.07 393.8,72 396.04,71.17 398.04,70.65 400,69.9 401.96,68.46 403.89,66.79 405.9,65.8 407.9,66.19 409.99,67.26 412.5,67.8 414.42,67.59 416.63,67.15 418.92,66.54 421.11,65.84 423,65.1 425.38,63.71 427.29,62.1 429.2,60.5 431.18,58.83 433.17,57.17 435.5,55.9 437.68,55.4 440.14,55.17 442.63,55.07 444.9,54.9 447.6,54.63 450.07,54.37 452.2,53.9 454.49,52.37 456.4,51.1 457.72,51.48 460.6,52.2 462.12,52.25 463.99,52.27 466.13,52.26 468.43,52.24 470.8,52.22 473.13,52.2 475.33,52.19 477.3,52.2 479.71,52.22 482.05,52.22 484.27,52.23 486.33,52.28 488.19,52.4 489.8,52.6 492.79,53.75 495,55.3 496.94,56.49 499.01,57.78 501.3,58.9 503.23,59.52 505.32,60.01 507.47,60.47 509.6,61 511.65,61.67 513.67,62.42 515.76,63.13 518,63.7 519.95,64.03 522.02,64.29 524.14,64.48 526.29,64.62 528.4,64.7 530.55,64.68 532.76,64.55 534.94,64.39 536.98,64.28 538.8,64.3 541.13,64.64 543,65.19 545.1,65.8 547.01,66.3 549.04,66.85 551.21,67.38 553.5,67.8 555.38,68.03 557.31,68.19 559.34,68.3 561.52,68.4 563.9,68.5 565.84,68.57 568.01,68.62 570.3,68.66 572.6,68.7 574.81,68.75 576.81,68.81 578.5,68.9 581.14,69.15 582.86,69.46 584.8,69.9 586.68,70.37 588.69,70.94 590.82,71.52 593.1,72 595.06,72.29 597.15,72.52 599.3,72.72 601.47,72.9 603.6,73.1 605.65,73.32 607.67,73.54 609.69,73.75 611.79,73.94 614,74.1 616.05,74.19 618.28,74.23 620.58,74.26 622.8,74.29 624.81,74.37 626.5,74.5 629.49,75.35 631.7,76.2 633.95,76.44 636.33,76.54 638,76.6"/>
<polyline fill="none" stroke="#111111" stroke-width="1.1" stroke-linejoin="round" points="352,103.4 353.51,103.09 355.68,102.66 358.11,102.16 360.4,101.7 362.33,101.21 364.16,100.67 366.18,100.23 368.7,100 370.4,100.01 372.23,100.11 374.19,100.27 376.27,100.47 378.49,100.7 380.83,100.91 383.3,101.1 385.14,101.22 387.11,101.34 389.17,101.46 391.31,101.58 393.49,101.7 395.69,101.82 397.89,101.94 400.05,102.06 402.17,102.18 404.2,102.3 406.44,102.42 408.72,102.53 411.01,102.64 413.28,102.74 415.48,102.85 417.59,102.96 419.57,103.09 421.38,103.23 423,103.4 425.76,103.85 427.67,104.36 429.32,104.92 431.3,105.5 433.26,105.99 435.35,106.52 437.5,107.06 439.67,107.56 441.8,108 443.95,108.35 446.16,108.62 448.34,108.87 450.38,109.12 452.2,109.4 454.45,109.81 456.25,110.26 458.5,111.1 460.35,111.92 462.46,112.93 464.69,114.05 466.88,115.2 468.9,116.3 471.14,117.68 473.23,119.12 475.25,120.45 477.3,121.5 479.36,122.21 481.39,122.67 483.45,122.98 485.6,123.2 487.99,123.34 490.56,123.37 492.99,123.31 495,123.2 496.64,122.77 499.2,122.2 500.66,122.08 502.4,121.96 504.36,121.85 506.51,121.73 508.78,121.6 511.14,121.46 513.53,121.3 515.9,121.1 517.82,120.91 519.81,120.7 521.86,120.47 523.96,120.22 526.09,119.97 528.25,119.71 530.41,119.46 532.56,119.22 534.7,119 536.8,118.8 538.87,118.62 540.92,118.46 542.95,118.31 544.97,118.17 547.01,118.04 549.05,117.91 551.13,117.78 553.24,117.66 555.39,117.53 557.6,117.4 559.55,117.29 561.64,117.18 563.83,117.07 566.09,116.96 568.37,116.85 570.63,116.74 572.83,116.63 574.93,116.52 576.9,116.42 578.7,116.31 580.28,116.2 581.6,116.1 584.93,115.51 586,114.9 587.81,114.4 589.79,113.87 592,113.4 593.77,113.12 595.63,112.89 597.68,112.67 600,112.4 602.05,112.15 604.25,111.88 606.61,111.6 609.15,111.31 611.9,111 613.81,110.8 615.91,110.57 618.13,110.34 620.41,110.11 622.66,109.88 624.83,109.66 626.83,109.47 628.6,109.3 631.68,109.04 634.34,108.84 636.48,108.7 638,108.6"/>
<polyline fill="none" stroke="#4a0a92" stroke-width="1.25" stroke-linejoin="round" points="352,142.63 352.45,140.09 352.9,140.26 353.35,139.85 353.8,141.79 354.25,140.67 354.7,141.04 355.15,139.07 355.6,139.35 356.05,139.35 356.5,137.07 356.95,140.44 357.4,140.53 357.85,137.17 358.3,139.37 358.75,138.73 359.2,139.2 359.65,139.13 360.1,136.68 360.55,137.59 361,139.85 361.45,137.74 361.9,136.56 362.35,135.75 362.8,135.63 363.25,137.45 363.7,139.51 364.15,138.36 364.6,137.83 365.05,140.46 365.5,137.88 365.95,137.24 366.4,138.79 366.85,139.4 367.3,137.8 367.75,137.4 368.2,139.33 368.65,139.96 369.1,138.89 369.55,140.66 370,141.31 370.45,143.36 370.9,143.78 371.35,144.56 371.8,145.06 372.25,147.58 372.7,149.26 373.15,147.47 373.6,148.15 374.05,146.07 374.5,146.34 374.95,147 375.4,147.88 375.85,145.47 376.3,145.01 376.75,144.98 377.2,142.68 377.65,144.07 378.1,143.55 378.55,144.73 379,143.14 379.45,141.69 379.9,143.85 380.35,144.66 380.8,143.85 381.25,145.45 381.7,144.4 382.15,143.72 382.6,144.9 383.05,142.64 383.5,143.19 383.95,144.15 384.4,145.47 384.85,144.54 385.3,144.9 385.75,143.78 386.2,144.7 386.65,146.63 387.1,144.17 387.55,147.38 388,144.41 388.45,144.5 388.9,144.72 389.35,145.83 389.8,143.29 390.25,141.57 390.7,144.53 391.15,145.5 391.6,145.53 392.05,148.05 392.5,145.64 392.95,145.1 393.4,145.81 393.85,145.21 394.3,145.94 394.75,141.93 395.2,141.44 395.65,136.91 396.1,140.54 396.55,139.4 397,140.57 397.45,143.55 397.9,142.39 398.35,142.58 398.8,143.12 399.25,143.62 399.7,144.8 400.15,147.16 400.6,146.92 401.05,146.98 401.5,146.77 401.95,148.16 402.4,148.06 402.85,147.32 403.3,148.23 403.75,147.51 404.2,146.16 404.65,148.77 405.1,147.96 405.55,145.76 406,147.54 406.45,146.84 406.9,144.06 407.35,147.12 407.8,146.07 408.25,146.28 408.7,145.25 409.15,144.34 409.6,142.14 410.05,144.52 410.5,143.72 410.95,143.1 411.4,143.68 411.85,143.41 412.3,144.02 412.75,142.8 413.2,142.84 413.65,140.15 414.1,141.56 414.55,143.21 415,144.39 415.45,142.48 415.9,142.24 416.35,144.24 416.8,142.29 417.25,143.05 417.7,144.36 418.15,142.57 418.6,143.53 419.05,141.62 419.5,142.74 419.95,143.05 420.4,143.76 420.85,145.59 421.3,148.01 421.75,145.18 422.2,144.97 422.65,146.64 423.1,145.49 423.55,147.47 424,148.39 424.45,147.9 424.9,149.13 425.35,147.17 425.8,149.9 426.25,148.05 426.7,148.98 427.15,149.72 427.6,150.44 428.05,152.53 428.5,152.42 428.95,152.13 429.4,153.33 429.85,154.77 430.3,153.08 430.75,153.02 431.2,154.02 431.65,152.98 432.1,150.69 432.55,154.76 433,155.35 433.45,150.17 433.9,151.23 434.35,151.98 434.8,152.78 435.25,152.52 435.7,151.2 436.15,149.82 436.6,150.83 437.05,152.17 437.5,149.77 437.95,149.08 438.4,149.98 438.85,147.64 439.3,148.98 439.75,148.92 440.2,149.85 440.65,148.47 441.1,147.72 441.55,147.98 442,148.3 442.45,147.44 442.9,147.9 443.35,148.76 443.8,149.35 444.25,150.1 444.7,147.13 445.15,146.79 445.6,144.07 446.05,148.81 446.5,146.66 446.95,146.94 447.4,147.65 447.85,145.42 448.3,147.08 448.75,146.83 449.2,144.47 449.65,146.47 450.1,148.04 450.55,145 451,147.86 451.45,148.1 451.9,148.78 452.35,149.18 452.8,150.64 453.25,149.37 453.7,150.71 454.15,149.71 454.6,151.17 455.05,149.88 455.5,150.72 455.95,153.51 456.4,152.88 456.85,152.1 457.3,150.84 457.75,151.13 458.2,152.61 458.65,154.08 459.1,153.97 459.55,154.24 460,153.76 460.45,155.56 460.9,153.99 461.35,153.57 461.8,155.43 462.25,155.04 462.7,154.71 463.15,154.55 463.6,155.17 464.05,156.7 464.5,157.01 464.95,155.4 465.4,157.31 465.85,157.75 466.3,156.65 466.75,158.86 467.2,158.36 467.65,158.44 468.1,160.49 468.55,162.64 469,161.53 469.45,163.53 469.9,163.25 470.35,168.56 470.8,168.69 471.25,172.88 471.7,172.46 472.15,171.07 472.6,170.43 473.05,162.39 473.5,161.98 473.95,161.78 474.4,159.72 474.85,157.22 475.3,159.24 475.75,156.36 476.2,152.65 476.65,154.01 477.1,150.29 477.55,152.57 478,150.84 478.45,151.08 478.9,152.31 479.35,150.96 479.8,148.5 480.25,147.28 480.7,150.34 481.15,150.33 481.6,148.15 482.05,149.47 482.5,149.12 482.95,148.99 483.4,145.1 483.85,146.29 484.3,147.81 484.75,147.7 485.2,147.58 485.65,143.1 486.1,144.98 486.55,145.58 487,148.03 487.45,143.98 487.9,143.47 488.35,143.52 488.8,144.31 489.25,142.57 489.7,143.85 490.15,141.61 490.6,142.25 491.05,141.28 491.5,141.76 491.95,140.68 492.4,139.14 492.85,141.98 493.3,141.57 493.75,140.25 494.2,140.74 494.65,141.71 495.1,139.39 495.55,139.94 496,140.88 496.45,141.1 496.9,140.08 497.35,137.61 497.8,141.18 498.25,140.93 498.7,140.47 499.15,140 499.6,140.55 500.05,139.83 500.5,138.9 500.95,139.03 501.4,139.24 501.85,139.27 502.3,138.59 502.75,140.67 503.2,138.75 503.65,140.82 504.1,139.37 504.55,140.82 505,142.58 505.45,141.66 505.9,140.37 506.35,141.13 506.8,141.56 507.25,139.42 507.7,140.41 508.15,141.73 508.6,141.38 509.05,142.08 509.5,143.19 509.95,143.61 510.4,144.01 510.85,143.82 511.3,142.78 511.75,142.94 512.2,142.49 512.65,142.22 513.1,142.21 513.55,140.16 514,141.28 514.45,141.84 514.9,140.69 515.35,141.48 515.8,142.24 516.25,141.47 516.7,143.97 517.15,138.63 517.6,140.19 518.05,138.45 518.5,141.41 518.95,144.14 519.4,138.26 519.85,139.98 520.3,140.83 520.75,140.01 521.2,140.85 521.65,137.54 522.1,140.56 522.55,140.69 523,140.26 523.45,139.37 523.9,140.65 524.35,139.54 524.8,140.13 525.25,139.33 525.7,136.94 526.15,139.08 526.6,139.89 527.05,140.76 527.5,138.91 527.95,139.48 528.4,140.41 528.85,140.06 529.3,141.34 529.75,142.6 530.2,139.29 530.65,137.2 531.1,140.14 531.55,141.72 532,141.36 532.45,141.13 532.9,139.28 533.35,138.7 533.8,140.56 534.25,138.78 534.7,137.2 535.15,137.83 535.6,142.35 536.05,142.77 536.5,139.61 536.95,138.81 537.4,139.95 537.85,139.12 538.3,141.59 538.75,140.59 539.2,139.19 539.65,141.94 540.1,140.37 540.55,141.1 541,141.09 541.45,140.83 541.9,141.67 542.35,140.72 542.8,139.15 543.25,138.41 543.7,139.51 544.15,140.54 544.6,141.82 545.05,142.35 545.5,142.97 545.95,142.47 546.4,141.1 546.85,140.77 547.3,138.82 547.75,140.67 548.2,141.85 548.65,142.1 549.1,141.25 549.55,140.87 550,142.06 550.45,141.11 550.9,141.67 551.35,141.52 551.8,140.92 552.25,142.03 552.7,139.86 553.15,139.49 553.6,138.8 554.05,138.82 554.5,141.9 554.95,143.05 555.4,141.29 555.85,141.66 556.3,142.64 556.75,142.55 557.2,143.15 557.65,140.34 558.1,140.54 558.55,142.08 559,143.82 559.45,142.72 559.9,141.37 560.35,141.78 560.8,141.63 561.25,141.47 561.7,144.51 562.15,142.54 562.6,142.77 563.05,145.45 563.5,144.83 563.95,143.55 564.4,141.98 564.85,142.8 565.3,144.46 565.75,143.56 566.2,144.07 566.65,142.67 567.1,142.79 567.55,141.85 568,142.34 568.45,143.49 568.9,140.3 569.35,141.15 569.8,141.67 570.25,140.74 570.7,140.95 571.15,142.43 571.6,144.38 572.05,143.22 572.5,142.62 572.95,140.18 573.4,143.99 573.85,142.69 574.3,142.3 574.75,140.91 575.2,141.95 575.65,140.98 576.1,142.26 576.55,143.14 577,142.88 577.45,143.19 577.9,141.92 578.35,144.52 578.8,142.28 579.25,139.89 579.7,141 580.15,140.23 580.6,139.4 581.05,139.68 581.5,140.23 581.95,138.19 582.4,138.66 582.85,140.49 583.3,139.92 583.75,138.6 584.2,138.48 584.65,138.01 585.1,137.84 585.55,138.64 586,137.67 586.45,134.41 586.9,136.43 587.35,135.72 587.8,137.33 588.25,136.02 588.7,136.5 589.15,139.02 589.6,135.48 590.05,134.37 590.5,133.59 590.95,132.03 591.4,132.15 591.85,134.85 592.3,134.38 592.75,133.07 593.2,133.5 593.65,136.5 594.1,135.78 594.55,136.39 595,137.68 595.45,139.56 595.9,141.03 596.35,140.54 596.8,139.58 597.25,139.66 597.7,141.76 598.15,141.9 598.6,139.86 599.05,140.4 599.5,140.41 599.95,140.21 600.4,139.56 600.85,138.46 601.3,139.26 601.75,138.29 602.2,141.6 602.65,141.66 603.1,139.59 603.55,142.41 604,142.41 604.45,138.85 604.9,142.59 605.35,142.19 605.8,143.6 606.25,139.78 606.7,140.98 607.15,141.09 607.6,140.79 608.05,140.62 608.5,141.63 608.95,138.64 609.4,138.16 609.85,137.8 610.3,138.7 610.75,138.81 611.2,140 611.65,140.12 612.1,139.85 612.55,138.93 613,139.02 613.45,140.81 613.9,141.05 614.35,140.3 614.8,139.61 615.25,141.81 615.7,139.7 616.15,140.75 616.6,141.66 617.05,140.14 617.5,141.15 617.95,139 618.4,141.15 618.85,140.69 619.3,138.37 619.75,140.63 620.2,139.27 620.65,141.68 621.1,139.86 621.55,140.07 622,140.71 622.45,140.13 622.9,140.76 623.35,139.92 623.8,141.28 624.25,140.81 624.7,140.98 625.15,137.35 625.6,141.36 626.05,140.98 626.5,138.64 626.95,140.44 627.4,141.38 627.85,142.39 628.3,139.99 628.75,142.69 629.2,141.25 629.65,144.09 630.1,141.64 630.55,142.08 631,140.89 631.45,139.67 631.9,142.15 632.35,142.54 632.8,143.45 633.25,142.84 633.7,140.91 634.15,139.08 634.6,139.9 635.05,140.09 635.5,139.98 635.95,141.71 636.4,141.84 636.85,141.14 637.3,141.53 637.75,141.25"/>
<line x1="365.6" y1="95.4" x2="365.6" y2="100.63" stroke="#0c00f5" stroke-width="0.7" stroke-opacity="0.42"/>
<line x1="453.9" y1="122.6" x2="453.9" y2="109.86" stroke="#966c70" stroke-width="0.7" stroke-opacity="0.42"/>
<line x1="458.5" y1="124" x2="458.5" y2="111.1" stroke="#a65a5f" stroke-width="0.7" stroke-opacity="0.42"/>
<line x1="462.6" y1="125.7" x2="462.6" y2="113.15" stroke="#b9494e" stroke-width="0.7" stroke-opacity="0.42"/>
<line x1="580.2" y1="106.5" x2="580.2" y2="116.18" stroke="#0c00f5" stroke-width="0.7" stroke-opacity="0.42"/>
<line x1="635.3" y1="102.1" x2="635.3" y2="108.8" stroke="#0c00f5" stroke-width="0.7" stroke-opacity="0.42"/>
<circle cx="365.6" cy="95.4" r="2.05" fill="#0c00f5"/>
<circle cx="390.2" cy="102.1" r="2.05" fill="#1204f7"/>
<circle cx="394.8" cy="101.7" r="2.05" fill="#1204f7"/>
<circle cx="397.5" cy="101.2" r="2.05" fill="#1204f7"/>
<circle cx="400" cy="101" r="2.05" fill="#1809f9"/>
<circle cx="402.5" cy="102.2" r="2.05" fill="#2412fd"/>
<circle cx="405" cy="103.5" r="2.05" fill="#3222ef"/>
<circle cx="408.4" cy="104.8" r="2.05" fill="#3e34d7"/>
<circle cx="431.3" cy="109.2" r="2.05" fill="#7f7a8a"/>
<circle cx="453.9" cy="122.6" r="2.05" fill="#966c70"/>
<circle cx="458.5" cy="124" r="2.05" fill="#a65a5f"/>
<circle cx="462.6" cy="125.7" r="2.05" fill="#b9494e"/>
<circle cx="478.3" cy="125.7" r="2.05" fill="#c04448"/>
<circle cx="484.6" cy="126.8" r="2.05" fill="#b9494e"/>
<circle cx="489.8" cy="125.3" r="2.05" fill="#a65a5f"/>
<circle cx="494.3" cy="124.7" r="2.05" fill="#9e6367"/>
<circle cx="498.1" cy="122.2" r="2.05" fill="#787392"/>
<circle cx="502.9" cy="120.9" r="2.05" fill="#6b66a2"/>
<circle cx="512.7" cy="119.4" r="2.05" fill="#3e34d7"/>
<circle cx="514.8" cy="119.4" r="2.05" fill="#3628e7"/>
<circle cx="516.5" cy="115.9" r="2.05" fill="#1809f9"/>
<circle cx="580.2" cy="106.5" r="2.05" fill="#0c00f5"/>
<circle cx="635.3" cy="102.1" r="2.05" fill="#0c00f5"/>
<line x1="352.5" y1="3.5" x2="352.5" y2="46.3" stroke="#7470c8" stroke-width="1"/>
<line x1="352.5" y1="46.3" x2="352.5" y2="89.5" stroke="#77b5a8" stroke-width="1"/>
<line x1="352.5" y1="89.5" x2="352.5" y2="132.8" stroke="#656565" stroke-width="1"/>
<line x1="352.5" y1="132.8" x2="352.5" y2="175.5" stroke="#9a7ccf" stroke-width="1"/>
<line x1="638.5" y1="3.5" x2="638.5" y2="46.3" stroke="#7470c8" stroke-width="1"/>
<line x1="638.5" y1="46.3" x2="638.5" y2="89.5" stroke="#77b5a8" stroke-width="1"/>
<line x1="638.5" y1="89.5" x2="638.5" y2="132.8" stroke="#656565" stroke-width="1"/>
<line x1="638.5" y1="132.8" x2="638.5" y2="175.5" stroke="#9a7ccf" stroke-width="1"/>
<line x1="352" y1="3.5" x2="639" y2="3.5" stroke="#656565" stroke-width="1"/>
<line x1="352" y1="175.5" x2="639" y2="175.5" stroke="#656565" stroke-width="1"/>
<line x1="349.9" y1="3.3" x2="352.5" y2="3.3" stroke="#7470c8" stroke-width="0.9"/><line x1="638.5" y1="3.3" x2="641.1" y2="3.3" stroke="#7470c8" stroke-width="0.9"/><line x1="349.9" y1="10.4" x2="352.5" y2="10.4" stroke="#7470c8" stroke-width="0.9"/><line x1="638.5" y1="10.4" x2="641.1" y2="10.4" stroke="#7470c8" stroke-width="0.9"/><line x1="349.9" y1="17.5" x2="352.5" y2="17.5" stroke="#7470c8" stroke-width="0.9"/><line x1="638.5" y1="17.5" x2="641.1" y2="17.5" stroke="#7470c8" stroke-width="0.9"/><line x1="349.9" y1="24.6" x2="352.5" y2="24.6" stroke="#7470c8" stroke-width="0.9"/><line x1="638.5" y1="24.6" x2="641.1" y2="24.6" stroke="#7470c8" stroke-width="0.9"/><line x1="349.9" y1="31.7" x2="352.5" y2="31.7" stroke="#7470c8" stroke-width="0.9"/><line x1="638.5" y1="31.7" x2="641.1" y2="31.7" stroke="#7470c8" stroke-width="0.9"/><line x1="349.9" y1="38.8" x2="352.5" y2="38.8" stroke="#7470c8" stroke-width="0.9"/><line x1="638.5" y1="38.8" x2="641.1" y2="38.8" stroke="#7470c8" stroke-width="0.9"/><line x1="349.9" y1="45.9" x2="352.5" y2="45.9" stroke="#7470c8" stroke-width="0.9"/><line x1="638.5" y1="45.9" x2="641.1" y2="45.9" stroke="#7470c8" stroke-width="0.9"/><line x1="349.9" y1="52.2" x2="352.5" y2="52.2" stroke="#77b5a8" stroke-width="0.9"/><line x1="638.5" y1="52.2" x2="641.1" y2="52.2" stroke="#77b5a8" stroke-width="0.9"/><line x1="349.9" y1="58.5" x2="352.5" y2="58.5" stroke="#77b5a8" stroke-width="0.9"/><line x1="638.5" y1="58.5" x2="641.1" y2="58.5" stroke="#77b5a8" stroke-width="0.9"/><line x1="349.9" y1="64.8" x2="352.5" y2="64.8" stroke="#77b5a8" stroke-width="0.9"/><line x1="638.5" y1="64.8" x2="641.1" y2="64.8" stroke="#77b5a8" stroke-width="0.9"/><line x1="349.9" y1="71.1" x2="352.5" y2="71.1" stroke="#77b5a8" stroke-width="0.9"/><line x1="638.5" y1="71.1" x2="641.1" y2="71.1" stroke="#77b5a8" stroke-width="0.9"/><line x1="349.9" y1="77.4" x2="352.5" y2="77.4" stroke="#77b5a8" stroke-width="0.9"/><line x1="638.5" y1="77.4" x2="641.1" y2="77.4" stroke="#77b5a8" stroke-width="0.9"/><line x1="349.9" y1="83.7" x2="352.5" y2="83.7" stroke="#77b5a8" stroke-width="0.9"/><line x1="638.5" y1="83.7" x2="641.1" y2="83.7" stroke="#77b5a8" stroke-width="0.9"/><line x1="349.9" y1="89.4" x2="352.5" y2="89.4" stroke="#656565" stroke-width="0.9"/><line x1="638.5" y1="89.4" x2="641.1" y2="89.4" stroke="#656565" stroke-width="0.9"/><line x1="349.9" y1="100.2" x2="352.5" y2="100.2" stroke="#656565" stroke-width="0.9"/><line x1="638.5" y1="100.2" x2="641.1" y2="100.2" stroke="#656565" stroke-width="0.9"/><line x1="349.9" y1="111" x2="352.5" y2="111" stroke="#656565" stroke-width="0.9"/><line x1="638.5" y1="111" x2="641.1" y2="111" stroke="#656565" stroke-width="0.9"/><line x1="349.9" y1="121.8" x2="352.5" y2="121.8" stroke="#656565" stroke-width="0.9"/><line x1="638.5" y1="121.8" x2="641.1" y2="121.8" stroke="#656565" stroke-width="0.9"/><line x1="349.9" y1="132.6" x2="352.5" y2="132.6" stroke="#656565" stroke-width="0.9"/><line x1="638.5" y1="132.6" x2="641.1" y2="132.6" stroke="#656565" stroke-width="0.9"/><line x1="349.9" y1="135.5" x2="352.5" y2="135.5" stroke="#9a7ccf" stroke-width="0.9"/><line x1="638.5" y1="135.5" x2="641.1" y2="135.5" stroke="#9a7ccf" stroke-width="0.9"/><line x1="349.9" y1="143.5" x2="352.5" y2="143.5" stroke="#9a7ccf" stroke-width="0.9"/><line x1="638.5" y1="143.5" x2="641.1" y2="143.5" stroke="#9a7ccf" stroke-width="0.9"/><line x1="349.9" y1="151.5" x2="352.5" y2="151.5" stroke="#9a7ccf" stroke-width="0.9"/><line x1="638.5" y1="151.5" x2="641.1" y2="151.5" stroke="#9a7ccf" stroke-width="0.9"/><line x1="349.9" y1="159.5" x2="352.5" y2="159.5" stroke="#9a7ccf" stroke-width="0.9"/><line x1="638.5" y1="159.5" x2="641.1" y2="159.5" stroke="#9a7ccf" stroke-width="0.9"/><line x1="349.9" y1="167.5" x2="352.5" y2="167.5" stroke="#9a7ccf" stroke-width="0.9"/><line x1="638.5" y1="167.5" x2="641.1" y2="167.5" stroke="#9a7ccf" stroke-width="0.9"/><line x1="349.9" y1="175.5" x2="352.5" y2="175.5" stroke="#9a7ccf" stroke-width="0.9"/><line x1="638.5" y1="175.5" x2="641.1" y2="175.5" stroke="#9a7ccf" stroke-width="0.9"/><line x1="352.5" y1="175.5" x2="352.5" y2="178.1" stroke="#656565" stroke-width="0.8"/><line x1="388.25" y1="175.5" x2="388.25" y2="178.1" stroke="#656565" stroke-width="0.8"/><line x1="424" y1="175.5" x2="424" y2="178.1" stroke="#656565" stroke-width="0.8"/><line x1="459.75" y1="175.5" x2="459.75" y2="178.1" stroke="#656565" stroke-width="0.8"/><line x1="495.5" y1="175.5" x2="495.5" y2="178.1" stroke="#656565" stroke-width="0.8"/><line x1="531.25" y1="175.5" x2="531.25" y2="178.1" stroke="#656565" stroke-width="0.8"/><line x1="567" y1="175.5" x2="567" y2="178.1" stroke="#656565" stroke-width="0.8"/><line x1="602.75" y1="175.5" x2="602.75" y2="178.1" stroke="#656565" stroke-width="0.8"/><line x1="638.5" y1="175.5" x2="638.5" y2="178.1" stroke="#656565" stroke-width="0.8"/><line x1="352.5" y1="0.9" x2="352.5" y2="3.5" stroke="#656565" stroke-width="0.8"/><line x1="388.25" y1="0.9" x2="388.25" y2="3.5" stroke="#656565" stroke-width="0.8"/><line x1="424" y1="0.9" x2="424" y2="3.5" stroke="#656565" stroke-width="0.8"/><line x1="459.75" y1="0.9" x2="459.75" y2="3.5" stroke="#656565" stroke-width="0.8"/><line x1="495.5" y1="0.9" x2="495.5" y2="3.5" stroke="#656565" stroke-width="0.8"/><line x1="531.25" y1="0.9" x2="531.25" y2="3.5" stroke="#656565" stroke-width="0.8"/><line x1="567" y1="0.9" x2="567" y2="3.5" stroke="#656565" stroke-width="0.8"/><line x1="602.75" y1="0.9" x2="602.75" y2="3.5" stroke="#656565" stroke-width="0.8"/><line x1="638.5" y1="0.9" x2="638.5" y2="3.5" stroke="#656565" stroke-width="0.8"/>
<text x="352.5" y="186.1" font-size="8.5" fill="#262626" text-anchor="middle" textLength="15.37" lengthAdjust="spacingAndGlyphs">440</text>
<text x="388.25" y="186.1" font-size="8.5" fill="#262626" text-anchor="middle" textLength="15.37" lengthAdjust="spacingAndGlyphs">430</text>
<text x="424" y="186.1" font-size="8.5" fill="#262626" text-anchor="middle" textLength="15.37" lengthAdjust="spacingAndGlyphs">420</text>
<text x="459.75" y="186.1" font-size="8.5" fill="#262626" text-anchor="middle" textLength="15.37" lengthAdjust="spacingAndGlyphs">410</text>
<text x="495.5" y="186.1" font-size="8.5" fill="#262626" text-anchor="middle" textLength="15.37" lengthAdjust="spacingAndGlyphs">400</text>
<text x="531.25" y="186.1" font-size="8.5" fill="#262626" text-anchor="middle" textLength="15.37" lengthAdjust="spacingAndGlyphs">390</text>
<text x="567" y="186.1" font-size="8.5" fill="#262626" text-anchor="middle" textLength="15.37" lengthAdjust="spacingAndGlyphs">380</text>
<text x="602.75" y="186.1" font-size="8.5" fill="#262626" text-anchor="middle" textLength="15.37" lengthAdjust="spacingAndGlyphs">370</text>
<text x="638.5" y="186.1" font-size="8.5" fill="#262626" text-anchor="middle" textLength="15.37" lengthAdjust="spacingAndGlyphs">360</text>
<text x="495.5" y="196.5" font-size="8.7" fill="#262626" text-anchor="middle" textLength="37.76" lengthAdjust="spacingAndGlyphs">Time [ka]</text>
<text x="357.9" y="11.8" font-size="8.4" fill="#111" text-anchor="start" font-weight="bold" textLength="46.44" lengthAdjust="spacingAndGlyphs">(b) MIS 11</text>
<text x="643.1" y="55.2" font-size="8.6" fill="#3d9382" text-anchor="start" textLength="5.15" lengthAdjust="spacingAndGlyphs">0</text>
<text x="643.1" y="61.5" font-size="8.6" fill="#3d9382" text-anchor="start" textLength="17.09" lengthAdjust="spacingAndGlyphs">−20</text>
<text x="643.1" y="67.8" font-size="8.6" fill="#3d9382" text-anchor="start" textLength="17.09" lengthAdjust="spacingAndGlyphs">−40</text>
<text x="643.1" y="74.1" font-size="8.6" fill="#3d9382" text-anchor="start" textLength="17.09" lengthAdjust="spacingAndGlyphs">−60</text>
<text x="643.1" y="80.4" font-size="8.6" fill="#3d9382" text-anchor="start" textLength="17.09" lengthAdjust="spacingAndGlyphs">−80</text>
<text x="643.1" y="86.7" font-size="8.6" fill="#3d9382" text-anchor="start" textLength="22.25" lengthAdjust="spacingAndGlyphs">−100</text>
<text x="643.1" y="139.1" font-size="8.6" fill="#4a0a92" text-anchor="start" textLength="5.15" lengthAdjust="spacingAndGlyphs">5</text>
<text x="643.1" y="147.1" font-size="8.6" fill="#4a0a92" text-anchor="start" textLength="5.15" lengthAdjust="spacingAndGlyphs">0</text>
<text x="643.1" y="155.1" font-size="8.6" fill="#4a0a92" text-anchor="start" textLength="11.94" lengthAdjust="spacingAndGlyphs">−5</text>
<text x="643.1" y="163.1" font-size="8.6" fill="#4a0a92" text-anchor="start" textLength="17.09" lengthAdjust="spacingAndGlyphs">−10</text>
<text x="643.1" y="171.1" font-size="8.6" fill="#4a0a92" text-anchor="start" textLength="17.09" lengthAdjust="spacingAndGlyphs">−15</text>
<text x="643.1" y="179.1" font-size="8.6" fill="#4a0a92" text-anchor="start" textLength="17.09" lengthAdjust="spacingAndGlyphs">−20</text>
<text transform="translate(674.1,68.6) rotate(-90)" x="0" y="0" font-size="8.8" fill="#3d9382" text-anchor="middle" textLength="59" lengthAdjust="spacingAndGlyphs">GMSL anomaly</text>
<text transform="translate(684.1,68.9) rotate(-90)" x="0" y="0" font-size="8.8" fill="#3d9382" text-anchor="middle" textLength="11.5" lengthAdjust="spacingAndGlyphs">[m]</text>
<text transform="translate(668.5,154.4) rotate(-90)" x="0" y="0" font-size="8.8" fill="#4a0a92" text-anchor="middle" textLength="31.7" lengthAdjust="spacingAndGlyphs"><tspan font-style="italic">dV</tspan><tspan font-size="5.6" dy="1.6">SLE</tspan><tspan dy="-1.6" font-style="italic">/dt</tspan></text>
<text transform="translate(678.5,155.3) rotate(-90)" x="0" y="0" font-size="8.8" fill="#4a0a92" text-anchor="middle" textLength="44.3" lengthAdjust="spacingAndGlyphs">[cm/100yr]</text>
</g>
<g>
<line x1="37.5" y1="224.5" x2="323.5" y2="224.5" stroke="#2c28a6" stroke-width="1" stroke-dasharray="3.2,1.3"/>
<line x1="37.5" y1="259.5" x2="323.5" y2="259.5" stroke="#3d9382" stroke-width="1" stroke-dasharray="3.2,1.3"/>
<line x1="37.5" y1="318" x2="323.5" y2="318" stroke="#6e6e6e" stroke-width="1.8" stroke-dasharray="2.9,1.6"/>
<line x1="37.5" y1="350.5" x2="323.5" y2="350.5" stroke="#9677cc" stroke-width="1" stroke-dasharray="3.2,1.3"/>
<polyline fill="none" stroke="#2c28a6" stroke-width="1.05" stroke-linejoin="round" points="37,245.2 38.97,244.97 41.75,244.67 44.3,244.6 46.83,245.19 49.5,246 51.18,246.29 52.98,246.56 55.14,246.82 57.9,247.1 59.65,247.25 61.69,247.4 63.92,247.55 66.26,247.7 68.59,247.85 70.82,248 72.86,248.15 74.6,248.3 77.31,248.61 79.4,248.93 81.16,249.2 82.9,249.4 85,249.78 86.87,250.03 89.2,249.4 90.69,248.53 92.36,247.34 94.14,245.92 95.97,244.39 97.81,242.84 99.6,241.4 101.36,240.04 103.13,238.66 104.91,237.28 106.68,235.89 108.41,234.49 110.1,233.1 111.78,231.69 113.47,230.27 115.13,228.84 116.72,227.42 118.19,226.04 119.5,224.7 121.07,222.73 122.3,220.81 123.43,219.01 124.7,217.4 126.73,215.52 128.86,213.94 130.9,212.8 133.61,212.01 136.2,212.2 137.9,212.9 139.6,214.01 141.4,215.4 142.83,216.72 144.3,218.29 145.87,219.82 147.6,221 149.5,221.72 151.54,222.14 153.71,222.42 156,222.7 157.98,222.94 160.11,223.15 162.29,223.33 164.42,223.51 166.4,223.7 168.72,223.93 170.93,224.16 172.97,224.4 174.8,224.7 177.28,225.39 180,226.4 181.68,226.96 183.58,227.58 185.68,228.28 187.96,229.08 190.4,230 192.28,230.77 194.32,231.64 196.46,232.58 198.66,233.55 200.86,234.5 203.03,235.4 205.1,236.2 207.13,236.97 209.16,237.77 211.18,238.54 213.16,239.24 215.08,239.82 216.9,240.22 218.6,240.4 220.79,240.21 222.8,239.62 224.66,238.76 226.38,237.81 228,236.9 230.33,235.17 232.32,233.3 234.3,232.1 236.29,232.09 238.27,232.74 240.5,233.3 242.4,233.4 244.44,233.39 246.61,233.44 248.9,233.7 250.85,234.12 252.91,234.68 255.04,235.33 257.18,235.99 259.3,236.6 261.43,237.2 263.6,237.84 265.75,238.46 267.84,239 269.8,239.4 272.05,239.63 274.15,239.64 276.15,239.64 278.1,239.8 280.72,240.51 283.23,241.4 285.4,241.9 287.63,241.48 289.6,240.4 291.14,239.32 292.79,238.06 294.8,237.3 296.68,237.29 298.81,237.59 301.03,238.1 303.2,238.7 305.33,239.46 307.48,240.4 309.57,241.34 311.5,242.1 313.79,242.87 315.86,243.41 317.8,243.5 320.79,242.24 323,240.8"/>
<polyline fill="none" stroke="#3d9382" stroke-width="1.05" stroke-linejoin="round" points="37,283.8 38.38,283.99 40.31,284.3 42.58,284.61 45.01,284.84 47.4,284.9 49.4,284.73 51.52,284.4 53.7,283.99 55.88,283.59 58,283.3 60,283.2 62.09,283.41 63.92,283.87 65.74,284.43 67.82,284.95 70.4,285.3 72.18,285.42 74.21,285.54 76.43,285.65 78.76,285.73 81.1,285.77 83.4,285.76 85.57,285.69 87.53,285.54 89.2,285.3 92.06,284.33 94.13,282.93 95.81,281.41 97.5,280.1 99.67,278.79 101.62,277.65 103.8,276.5 105.75,275.64 107.87,274.82 110.06,273.91 112.2,272.8 113.86,271.7 115.52,270.43 117.18,269.09 118.84,267.76 120.5,266.5 122.18,265.27 123.86,264.02 125.54,262.83 127.22,261.76 128.9,260.9 130.98,260.2 133.05,259.81 135.12,259.53 137.2,259.2 139.3,258.74 141.4,258.24 143.5,257.81 145.6,257.5 147.58,257.37 149.49,257.36 151.53,257.42 153.9,257.5 155.79,257.56 157.91,257.64 160.14,257.73 162.38,257.84 164.51,257.96 166.4,258.1 168.86,258.33 171.06,258.58 173.02,258.87 174.8,259.2 176.88,259.94 180,260.9 181.57,261.2 183.46,261.52 185.6,261.86 187.89,262.22 190.24,262.6 192.55,262.99 194.73,263.39 196.7,263.8 199.05,264.42 201.25,265.15 203.34,265.89 205.34,266.59 207.28,267.15 209.2,267.5 211.36,267.55 213.35,267.29 215.3,266.9 217.37,266.58 219.7,266.5 221.59,266.64 223.63,266.89 225.78,267.22 227.97,267.59 230.16,267.96 232.29,268.31 234.3,268.6 236.46,268.85 238.47,269.04 240.42,269.22 242.4,269.41 244.5,269.66 246.8,270 248.72,270.35 250.78,270.77 252.94,271.24 255.15,271.74 257.36,272.23 259.52,272.69 261.58,273.09 263.5,273.4 265.83,273.69 267.97,273.89 270.01,274.01 271.98,274.09 273.96,274.14 276,274.2 278.11,274.25 280.24,274.27 282.37,274.27 284.49,274.26 286.57,274.23 288.6,274.2 290.99,274.09 293.34,273.9 295.64,273.73 297.87,273.66 300,273.8 302.51,274.37 304.89,275.23 307.17,276.16 309.4,276.9 311.65,277.42 313.86,277.84 315.95,278.17 317.8,278.4 320.93,278.49 323,278.4"/>
<polyline fill="none" stroke="#111111" stroke-width="1.1" stroke-linejoin="round" points="37,313.5 38.24,313.46 39.84,313.41 41.73,313.35 43.86,313.27 46.14,313.2 48.54,313.13 50.97,313.05 53.39,312.99 55.72,312.94 57.9,312.9 59.99,312.88 62.08,312.86 64.17,312.86 66.26,312.86 68.36,312.86 70.45,312.87 72.54,312.88 74.63,312.89 76.71,312.9 78.8,312.9 80.91,312.9 83.07,312.9 85.24,312.9 87.42,312.9 89.59,312.9 91.73,312.9 93.82,312.9 95.84,312.9 97.77,312.9 99.6,312.9 102.08,312.89 104.47,312.87 106.73,312.85 108.85,312.83 110.81,312.83 112.6,312.85 114.2,312.9 116.91,313.1 118.71,313.4 120.5,313.9 122.6,314.64 124.71,315.57 126.8,316.6 128.79,317.7 130.77,318.89 133,320.2 134.95,321.31 137.07,322.53 139.26,323.73 141.4,324.8 143.48,325.71 145.55,326.53 147.62,327.26 149.7,327.9 151.7,328.45 153.64,328.92 155.71,329.3 158.1,329.6 159.98,329.75 162.08,329.84 164.29,329.91 166.51,329.94 168.65,329.97 170.6,330 172.9,330.06 174.77,330.12 176.91,330.11 180,330 181.6,329.92 183.34,329.82 185.23,329.7 187.23,329.57 189.34,329.42 191.54,329.26 193.81,329.09 196.14,328.9 198.51,328.71 200.9,328.5 202.79,328.33 204.75,328.13 206.77,327.91 208.85,327.68 210.96,327.44 213.11,327.2 215.27,326.96 217.44,326.73 219.61,326.5 221.76,326.29 223.88,326.1 225.96,325.94 228,325.8 230.16,325.69 232.28,325.61 234.37,325.56 236.44,325.54 238.5,325.53 240.55,325.52 242.6,325.53 244.66,325.53 246.73,325.52 248.82,325.5 250.94,325.46 253.1,325.4 255.12,325.32 257.18,325.23 259.26,325.13 261.36,325.02 263.47,324.91 265.59,324.79 267.71,324.66 269.83,324.53 271.94,324.4 274.04,324.28 276.12,324.15 278.18,324.02 280.2,323.9 282.39,323.77 284.58,323.64 286.79,323.5 288.99,323.37 291.17,323.24 293.34,323.1 295.47,322.96 297.56,322.83 299.59,322.7 301.57,322.56 303.47,322.43 305.3,322.3 307.99,322.1 310.66,321.88 313.26,321.66 315.72,321.45 317.98,321.25 319.99,321.07 321.69,320.92 323,320.8"/>
<polyline fill="none" stroke="#4a0a92" stroke-width="1.25" stroke-linejoin="round" points="37,347.57 37.45,348.45 37.9,349.03 38.35,347.22 38.8,345.85 39.25,349.27 39.7,348.59 40.15,349.77 40.6,346.73 41.05,347.71 41.5,348.51 41.95,346.98 42.4,347.86 42.85,349.73 43.3,350.74 43.75,351.75 44.2,349.03 44.65,347.78 45.1,349.97 45.55,351.15 46,350.62 46.45,348.72 46.9,350.95 47.35,351.63 47.8,351.4 48.25,349.97 48.7,350.53 49.15,351.21 49.6,349.63 50.05,347.56 50.5,349.69 50.95,350.34 51.4,349.86 51.85,350.76 52.3,349.07 52.75,349.22 53.2,348.9 53.65,349.86 54.1,351.31 54.55,349.29 55,351.6 55.45,351.46 55.9,350.43 56.35,349.85 56.8,351.12 57.25,348.93 57.7,348.4 58.15,347.11 58.6,348.8 59.05,350.38 59.5,349.82 59.95,349.62 60.4,348.86 60.85,349.2 61.3,347.36 61.75,350.06 62.2,348.98 62.65,347.91 63.1,348.15 63.55,348.18 64,350.36 64.45,351.23 64.9,348.49 65.35,350.73 65.8,351.31 66.25,349.69 66.7,348.22 67.15,348.85 67.6,349.21 68.05,350.59 68.5,350.07 68.95,347.79 69.4,350.02 69.85,348.33 70.3,350.92 70.75,348.89 71.2,348.99 71.65,348.78 72.1,349.08 72.55,351.42 73,351.41 73.45,351.06 73.9,350.59 74.35,348.1 74.8,348.73 75.25,348.81 75.7,348.26 76.15,349.95 76.6,348.77 77.05,348.48 77.5,347.96 77.95,346.52 78.4,349.44 78.85,351.06 79.3,350.03 79.75,348.34 80.2,345.75 80.65,348.7 81.1,350.75 81.55,350.11 82,350.74 82.45,351.58 82.9,351.35 83.35,349.34 83.8,350.7 84.25,350.69 84.7,347.8 85.15,348.49 85.6,347.39 86.05,348.76 86.5,349.96 86.95,348.21 87.4,346.53 87.85,350.31 88.3,350.1 88.75,351.41 89.2,348.25 89.65,350.53 90.1,352.43 90.55,352.89 91,350.31 91.45,350.33 91.9,349.87 92.35,351.27 92.8,351.73 93.25,350.73 93.7,348.74 94.15,350.93 94.6,350.04 95.05,351.25 95.5,351.17 95.95,352.92 96.4,352.81 96.85,350.87 97.3,351.45 97.75,353.44 98.2,351.12 98.65,351.83 99.1,353.02 99.55,353.47 100,352.41 100.45,349.65 100.9,348.83 101.35,350.32 101.8,350.68 102.25,353.27 102.7,349.46 103.15,350.82 103.6,350.5 104.05,347.18 104.5,347.22 104.95,348.26 105.4,347.51 105.85,347.55 106.3,348.14 106.75,346.5 107.2,347.78 107.65,346.89 108.1,346.92 108.55,348.41 109,347.53 109.45,348.52 109.9,350.54 110.35,349.21 110.8,348.8 111.25,349.93 111.7,348.97 112.15,350.68 112.6,348.63 113.05,350.93 113.5,350.52 113.95,350.49 114.4,354.12 114.85,352.18 115.3,355.38 115.75,355.24 116.2,356.62 116.65,354.44 117.1,357.13 117.55,358.63 118,357.54 118.45,357.76 118.9,361.55 119.35,360.16 119.8,359.57 120.25,359.67 120.7,361.54 121.15,362.37 121.6,362.9 122.05,365.46 122.5,364.05 122.95,365.2 123.4,367.23 123.85,365.17 124.3,367.71 124.75,369.85 125.2,367.02 125.65,367.22 126.1,367.93 126.55,367.68 127,371.08 127.45,369.63 127.9,372.8 128.35,375.37 128.8,372.76 129.25,373.8 129.7,372.1 130.15,375.13 130.6,374.07 131.05,374.48 131.5,375.07 131.95,375.91 132.4,375.09 132.85,375.42 133.3,374.51 133.75,374.74 134.2,372.86 134.65,373.61 135.1,370.98 135.55,371.8 136,374.68 136.45,373.7 136.9,372.87 137.35,375.48 137.8,375.5 138.25,375.57 138.7,377.65 139.15,379.3 139.6,377.68 140.05,375.41 140.5,372.53 140.95,370.36 141.4,371.58 141.85,370.59 142.3,368.6 142.75,366.41 143.2,366.53 143.65,371.12 144.1,367.49 144.55,367.68 145,367.83 145.45,367.16 145.9,367.74 146.35,367.71 146.8,369.15 147.25,373.98 147.7,372.42 148.15,371.86 148.6,367.04 149.05,366.1 149.5,365.02 149.95,365.14 150.4,362.41 150.85,363.63 151.3,363.42 151.75,361.72 152.2,362.56 152.65,360.8 153.1,360.24 153.55,360.82 154,357.32 154.45,359.34 154.9,358.4 155.35,357.25 155.8,357.92 156.25,359.23 156.7,357.77 157.15,359.15 157.6,356.13 158.05,354.84 158.5,357.76 158.95,356.71 159.4,356.8 159.85,354.27 160.3,355.33 160.75,354.58 161.2,354.54 161.65,353.42 162.1,354.27 162.55,352.04 163,351.08 163.45,350.14 163.9,353.15 164.35,351.47 164.8,350.62 165.25,350.48 165.7,351.01 166.15,350.05 166.6,350.99 167.05,350.75 167.5,350.72 167.95,350.16 168.4,351.2 168.85,350.7 169.3,351.14 169.75,351.27 170.2,351.27 170.65,347.97 171.1,349.06 171.55,348.87 172,350.64 172.45,347.99 172.9,348.27 173.35,348.72 173.8,348.63 174.25,350.13 174.7,348.56 175.15,349.83 175.6,347.02 176.05,345.79 176.5,349.17 176.95,348.94 177.4,348.85 177.85,348.27 178.3,348.48 178.75,346.31 179.2,348.38 179.65,346.95 180.1,348.44 180.55,347.83 181,345.19 181.45,345.48 181.9,348.65 182.35,347.95 182.8,347.54 183.25,348.33 183.7,347.77 184.15,347.58 184.6,348.42 185.05,348.77 185.5,350.66 185.95,349.39 186.4,351.45 186.85,351.95 187.3,352.06 187.75,351.35 188.2,350.1 188.65,349.89 189.1,349.57 189.55,348.84 190,349.58 190.45,349.11 190.9,351.7 191.35,350.88 191.8,349.36 192.25,347.06 192.7,348.73 193.15,348.6 193.6,347.65 194.05,347.26 194.5,345.68 194.95,348.73 195.4,348.61 195.85,351.8 196.3,349.24 196.75,348.37 197.2,350.06 197.65,348.75 198.1,348.38 198.55,347.53 199,346.94 199.45,349.33 199.9,349.22 200.35,350 200.8,347.53 201.25,347.41 201.7,346.27 202.15,348.32 202.6,345.91 203.05,347.77 203.5,348.93 203.95,349.63 204.4,346.89 204.85,348.77 205.3,347 205.75,346.53 206.2,345.73 206.65,348.65 207.1,350.02 207.55,347.58 208,346.79 208.45,347.14 208.9,350.8 209.35,349.87 209.8,347.72 210.25,345.64 210.7,346.55 211.15,349.12 211.6,350.54 212.05,348.14 212.5,346.93 212.95,346.77 213.4,344.93 213.85,347.88 214.3,346.04 214.75,348.19 215.2,345.18 215.65,344.89 216.1,346.68 216.55,345.74 217,347.35 217.45,346.7 217.9,344.98 218.35,346.72 218.8,347.34 219.25,343.97 219.7,347.72 220.15,346.92 220.6,346.96 221.05,343.62 221.5,344.13 221.95,344.63 222.4,346.46 222.85,343.67 223.3,343.61 223.75,342.08 224.2,343.85 224.65,344.94 225.1,342.6 225.55,343.3 226,344.77 226.45,346.4 226.9,345.57 227.35,344.55 227.8,343.63 228.25,344.08 228.7,344.92 229.15,346.52 229.6,347.06 230.05,349.73 230.5,349.05 230.95,347.57 231.4,350.85 231.85,351.31 232.3,350.75 232.75,349.97 233.2,348.72 233.65,349.85 234.1,352.93 234.55,351.55 235,350.33 235.45,351.77 235.9,352.04 236.35,352.41 236.8,352.41 237.25,353.2 237.7,350.44 238.15,351.87 238.6,349.62 239.05,351.01 239.5,350.56 239.95,350.38 240.4,351.09 240.85,349.89 241.3,350.85 241.75,350.64 242.2,349.51 242.65,348.22 243.1,347.7 243.55,347.85 244,348.29 244.45,348.61 244.9,352.44 245.35,350.47 245.8,350.13 246.25,348 246.7,347.65 247.15,348.05 247.6,348.78 248.05,347.42 248.5,350.38 248.95,348.4 249.4,349.95 249.85,346.06 250.3,347.99 250.75,348.83 251.2,348.92 251.65,349.45 252.1,349.17 252.55,348.95 253,346.32 253.45,347.13 253.9,345.29 254.35,348.54 254.8,348.94 255.25,348.41 255.7,347.48 256.15,347.55 256.6,350.59 257.05,351.2 257.5,349.11 257.95,350.27 258.4,346.95 258.85,345.68 259.3,347.18 259.75,347.05 260.2,347.41 260.65,348.43 261.1,352.22 261.55,348.55 262,348.52 262.45,348.79 262.9,348.46 263.35,349.58 263.8,350.94 264.25,347.53 264.7,348.47 265.15,348.19 265.6,348.93 266.05,346.78 266.5,345.99 266.95,345.12 267.4,348.48 267.85,348.93 268.3,348.92 268.75,345.9 269.2,347.66 269.65,347.65 270.1,346.85 270.55,347.3 271,349.46 271.45,349.83 271.9,349.24 272.35,349.79 272.8,348.56 273.25,349.12 273.7,349.25 274.15,349.95 274.6,349.38 275.05,349.17 275.5,349.15 275.95,348.54 276.4,351.81 276.85,350.33 277.3,349.72 277.75,351.75 278.2,351.01 278.65,346.98 279.1,348.65 279.55,349.1 280,350.39 280.45,349.85 280.9,348.9 281.35,346.08 281.8,345.62 282.25,346.79 282.7,347.24 283.15,345.3 283.6,345.47 284.05,345.36 284.5,345.83 284.95,346.43 285.4,345.88 285.85,344.64 286.3,347.51 286.75,348.75 287.2,347.01 287.65,348.07 288.1,347.69 288.55,347.95 289,347.87 289.45,346.38 289.9,347.76 290.35,348.73 290.8,346.67 291.25,349.81 291.7,350.83 292.15,350.84 292.6,351.13 293.05,349.72 293.5,348.1 293.95,347.45 294.4,347.1 294.85,348.23 295.3,348.19 295.75,348.96 296.2,345.7 296.65,350.21 297.1,351.2 297.55,348.48 298,348.59 298.45,348.27 298.9,347.85 299.35,347.05 299.8,346.87 300.25,345.85 300.7,346.76 301.15,346.66 301.6,347.09 302.05,345.73 302.5,346.51 302.95,346.71 303.4,347.46 303.85,345.56 304.3,346.94 304.75,347.99 305.2,347.77 305.65,346.51 306.1,346.04 306.55,346.24 307,347.5 307.45,348.84 307.9,347.04 308.35,345.98 308.8,346.99 309.25,347.03 309.7,345.57 310.15,345.32 310.6,345.96 311.05,346.99 311.5,344.83 311.95,344.42 312.4,346.13 312.85,344.31 313.3,345.43 313.75,345.93 314.2,345.38 314.65,344.02 315.1,344.79 315.55,344.55 316,345.24 316.45,343.85 316.9,345.83 317.35,342.77 317.8,343.79 318.25,344.19 318.7,345.39 319.15,343.87 319.6,345.09 320.05,344.14 320.5,345.67 320.95,347.44 321.4,345.34 321.85,346.01 322.3,344.6 322.75,346.76"/>
<line x1="87.5" y1="308.7" x2="87.5" y2="312.9" stroke="#0c00f5" stroke-width="0.7" stroke-opacity="0.42"/>
<line x1="95.5" y1="308.2" x2="95.5" y2="312.9" stroke="#0c00f5" stroke-width="0.7" stroke-opacity="0.42"/>
<line x1="97.8" y1="308.3" x2="97.8" y2="312.9" stroke="#0c00f5" stroke-width="0.7" stroke-opacity="0.42"/>
<line x1="100.5" y1="308.6" x2="100.5" y2="312.9" stroke="#1204f7" stroke-width="0.7" stroke-opacity="0.42"/>
<line x1="122.8" y1="329.3" x2="122.8" y2="314.89" stroke="#927074" stroke-width="0.7" stroke-opacity="0.42"/>
<line x1="124" y1="330.6" x2="124" y2="315.4" stroke="#9a676c" stroke-width="0.7" stroke-opacity="0.42"/>
<line x1="125.3" y1="331.8" x2="125.3" y2="315.96" stroke="#a65a5f" stroke-width="0.7" stroke-opacity="0.42"/>
<line x1="126.6" y1="332.9" x2="126.6" y2="316.51" stroke="#b34f53" stroke-width="0.7" stroke-opacity="0.42"/>
<line x1="128" y1="334" x2="128" y2="317.3" stroke="#cb3a3e" stroke-width="0.7" stroke-opacity="0.42"/>
<line x1="129.4" y1="334.8" x2="129.4" y2="318.11" stroke="#de2c2c" stroke-width="0.7" stroke-opacity="0.42"/>
<line x1="131" y1="334.6" x2="131" y2="319.04" stroke="#e52725" stroke-width="0.7" stroke-opacity="0.42"/>
<line x1="132.6" y1="334.4" x2="132.6" y2="319.97" stroke="#eb221e" stroke-width="0.7" stroke-opacity="0.42"/>
<line x1="134.2" y1="334.4" x2="134.2" y2="320.86" stroke="#eb221e" stroke-width="0.7" stroke-opacity="0.42"/>
<line x1="135.8" y1="334.6" x2="135.8" y2="321.73" stroke="#e52725" stroke-width="0.7" stroke-opacity="0.42"/>
<line x1="140.3" y1="334.8" x2="140.3" y2="324.2" stroke="#eb221e" stroke-width="0.7" stroke-opacity="0.42"/>
<line x1="141.9" y1="334.6" x2="141.9" y2="324.99" stroke="#de2c2c" stroke-width="0.7" stroke-opacity="0.42"/>
<line x1="143.5" y1="334.4" x2="143.5" y2="325.58" stroke="#d03739" stroke-width="0.7" stroke-opacity="0.42"/>
<line x1="145.1" y1="334.2" x2="145.1" y2="326.18" stroke="#c04448" stroke-width="0.7" stroke-opacity="0.42"/>
<line x1="146.7" y1="333.9" x2="146.7" y2="326.78" stroke="#b34f53" stroke-width="0.7" stroke-opacity="0.42"/>
<line x1="148.3" y1="333.6" x2="148.3" y2="327.38" stroke="#a65a5f" stroke-width="0.7" stroke-opacity="0.42"/>
<line x1="149.9" y1="333.3" x2="149.9" y2="327.94" stroke="#9a676c" stroke-width="0.7" stroke-opacity="0.42"/>
<line x1="206.1" y1="319.6" x2="206.1" y2="327.98" stroke="#0c00f5" stroke-width="0.7" stroke-opacity="0.42"/>
<line x1="210.9" y1="318.5" x2="210.9" y2="327.5" stroke="#0c00f5" stroke-width="0.7" stroke-opacity="0.42"/>
<line x1="215.1" y1="319.1" x2="215.1" y2="327.09" stroke="#0c00f5" stroke-width="0.7" stroke-opacity="0.42"/>
<line x1="282.7" y1="315" x2="282.7" y2="323.74" stroke="#0c00f5" stroke-width="0.7" stroke-opacity="0.42"/>
<line x1="316.3" y1="313.9" x2="316.3" y2="321.37" stroke="#0c00f5" stroke-width="0.7" stroke-opacity="0.42"/>
<circle cx="87.5" cy="308.7" r="2.05" fill="#0c00f5"/>
<circle cx="95.5" cy="308.2" r="2.05" fill="#0c00f5"/>
<circle cx="97.8" cy="308.3" r="2.05" fill="#0c00f5"/>
<circle cx="100.5" cy="308.6" r="2.05" fill="#1204f7"/>
<circle cx="104.8" cy="309.5" r="2.05" fill="#1204f7"/>
<circle cx="107.3" cy="309.2" r="2.05" fill="#1809f9"/>
<circle cx="109.8" cy="309.7" r="2.05" fill="#1e0dfb"/>
<circle cx="112.3" cy="310.2" r="2.05" fill="#2a16ff"/>
<circle cx="114.8" cy="311" r="2.05" fill="#3222ef"/>
<circle cx="117.2" cy="312.2" r="2.05" fill="#3e34d7"/>
<circle cx="119.4" cy="313.8" r="2.05" fill="#554ebc"/>
<circle cx="121.6" cy="317" r="2.05" fill="#868082"/>
<circle cx="122.8" cy="329.3" r="2.05" fill="#927074"/>
<circle cx="124" cy="330.6" r="2.05" fill="#9a676c"/>
<circle cx="125.3" cy="331.8" r="2.05" fill="#a65a5f"/>
<circle cx="126.6" cy="332.9" r="2.05" fill="#b34f53"/>
<circle cx="128" cy="334" r="2.05" fill="#cb3a3e"/>
<circle cx="129.4" cy="334.8" r="2.05" fill="#de2c2c"/>
<circle cx="131" cy="334.6" r="2.05" fill="#e52725"/>
<circle cx="132.6" cy="334.4" r="2.05" fill="#eb221e"/>
<circle cx="134.2" cy="334.4" r="2.05" fill="#eb221e"/>
<circle cx="135.8" cy="334.6" r="2.05" fill="#e52725"/>
<circle cx="140.3" cy="334.8" r="2.05" fill="#eb221e"/>
<circle cx="141.9" cy="334.6" r="2.05" fill="#de2c2c"/>
<circle cx="143.5" cy="334.4" r="2.05" fill="#d03739"/>
<circle cx="145.1" cy="334.2" r="2.05" fill="#c04448"/>
<circle cx="146.7" cy="333.9" r="2.05" fill="#b34f53"/>
<circle cx="148.3" cy="333.6" r="2.05" fill="#a65a5f"/>
<circle cx="149.9" cy="333.3" r="2.05" fill="#9a676c"/>
<circle cx="157" cy="332.7" r="2.05" fill="#8d767a"/>
<circle cx="172.7" cy="330.2" r="2.05" fill="#868082"/>
<circle cx="180" cy="330.2" r="2.05" fill="#6b66a2"/>
<circle cx="181" cy="330.2" r="2.05" fill="#6460aa"/>
<circle cx="186.3" cy="327.9" r="2.05" fill="#463dce"/>
<circle cx="192.1" cy="327.9" r="2.05" fill="#3e34d7"/>
<circle cx="196.7" cy="329" r="2.05" fill="#3628e7"/>
<circle cx="201.3" cy="328.1" r="2.05" fill="#2a16ff"/>
<circle cx="206.1" cy="319.6" r="2.05" fill="#0c00f5"/>
<circle cx="210.9" cy="318.5" r="2.05" fill="#0c00f5"/>
<circle cx="215.1" cy="319.1" r="2.05" fill="#0c00f5"/>
<circle cx="282.7" cy="315" r="2.05" fill="#0c00f5"/>
<circle cx="316.3" cy="313.9" r="2.05" fill="#0c00f5"/>
<line x1="37.5" y1="210.5" x2="37.5" y2="253.3" stroke="#7470c8" stroke-width="1"/>
<line x1="37.5" y1="253.3" x2="37.5" y2="296.5" stroke="#77b5a8" stroke-width="1"/>
<line x1="37.5" y1="296.5" x2="37.5" y2="339.8" stroke="#656565" stroke-width="1"/>
<line x1="37.5" y1="339.8" x2="37.5" y2="382.5" stroke="#9a7ccf" stroke-width="1"/>
<line x1="323.5" y1="210.5" x2="323.5" y2="253.3" stroke="#7470c8" stroke-width="1"/>
<line x1="323.5" y1="253.3" x2="323.5" y2="296.5" stroke="#77b5a8" stroke-width="1"/>
<line x1="323.5" y1="296.5" x2="323.5" y2="339.8" stroke="#656565" stroke-width="1"/>
<line x1="323.5" y1="339.8" x2="323.5" y2="382.5" stroke="#9a7ccf" stroke-width="1"/>
<line x1="37" y1="210.5" x2="324" y2="210.5" stroke="#656565" stroke-width="1"/>
<line x1="37" y1="382.5" x2="324" y2="382.5" stroke="#656565" stroke-width="1"/>
<line x1="34.9" y1="210.3" x2="37.5" y2="210.3" stroke="#7470c8" stroke-width="0.9"/><line x1="323.5" y1="210.3" x2="326.1" y2="210.3" stroke="#7470c8" stroke-width="0.9"/><line x1="34.9" y1="217.4" x2="37.5" y2="217.4" stroke="#7470c8" stroke-width="0.9"/><line x1="323.5" y1="217.4" x2="326.1" y2="217.4" stroke="#7470c8" stroke-width="0.9"/><line x1="34.9" y1="224.5" x2="37.5" y2="224.5" stroke="#7470c8" stroke-width="0.9"/><line x1="323.5" y1="224.5" x2="326.1" y2="224.5" stroke="#7470c8" stroke-width="0.9"/><line x1="34.9" y1="231.6" x2="37.5" y2="231.6" stroke="#7470c8" stroke-width="0.9"/><line x1="323.5" y1="231.6" x2="326.1" y2="231.6" stroke="#7470c8" stroke-width="0.9"/><line x1="34.9" y1="238.7" x2="37.5" y2="238.7" stroke="#7470c8" stroke-width="0.9"/><line x1="323.5" y1="238.7" x2="326.1" y2="238.7" stroke="#7470c8" stroke-width="0.9"/><line x1="34.9" y1="245.8" x2="37.5" y2="245.8" stroke="#7470c8" stroke-width="0.9"/><line x1="323.5" y1="245.8" x2="326.1" y2="245.8" stroke="#7470c8" stroke-width="0.9"/><line x1="34.9" y1="252.9" x2="37.5" y2="252.9" stroke="#7470c8" stroke-width="0.9"/><line x1="323.5" y1="252.9" x2="326.1" y2="252.9" stroke="#7470c8" stroke-width="0.9"/><line x1="34.9" y1="259.2" x2="37.5" y2="259.2" stroke="#77b5a8" stroke-width="0.9"/><line x1="323.5" y1="259.2" x2="326.1" y2="259.2" stroke="#77b5a8" stroke-width="0.9"/><line x1="34.9" y1="265.5" x2="37.5" y2="265.5" stroke="#77b5a8" stroke-width="0.9"/><line x1="323.5" y1="265.5" x2="326.1" y2="265.5" stroke="#77b5a8" stroke-width="0.9"/><line x1="34.9" y1="271.8" x2="37.5" y2="271.8" stroke="#77b5a8" stroke-width="0.9"/><line x1="323.5" y1="271.8" x2="326.1" y2="271.8" stroke="#77b5a8" stroke-width="0.9"/><line x1="34.9" y1="278.1" x2="37.5" y2="278.1" stroke="#77b5a8" stroke-width="0.9"/><line x1="323.5" y1="278.1" x2="326.1" y2="278.1" stroke="#77b5a8" stroke-width="0.9"/><line x1="34.9" y1="284.4" x2="37.5" y2="284.4" stroke="#77b5a8" stroke-width="0.9"/><line x1="323.5" y1="284.4" x2="326.1" y2="284.4" stroke="#77b5a8" stroke-width="0.9"/><line x1="34.9" y1="290.7" x2="37.5" y2="290.7" stroke="#77b5a8" stroke-width="0.9"/><line x1="323.5" y1="290.7" x2="326.1" y2="290.7" stroke="#77b5a8" stroke-width="0.9"/><line x1="34.9" y1="296.4" x2="37.5" y2="296.4" stroke="#656565" stroke-width="0.9"/><line x1="323.5" y1="296.4" x2="326.1" y2="296.4" stroke="#656565" stroke-width="0.9"/><line x1="34.9" y1="307.2" x2="37.5" y2="307.2" stroke="#656565" stroke-width="0.9"/><line x1="323.5" y1="307.2" x2="326.1" y2="307.2" stroke="#656565" stroke-width="0.9"/><line x1="34.9" y1="318" x2="37.5" y2="318" stroke="#656565" stroke-width="0.9"/><line x1="323.5" y1="318" x2="326.1" y2="318" stroke="#656565" stroke-width="0.9"/><line x1="34.9" y1="328.8" x2="37.5" y2="328.8" stroke="#656565" stroke-width="0.9"/><line x1="323.5" y1="328.8" x2="326.1" y2="328.8" stroke="#656565" stroke-width="0.9"/><line x1="34.9" y1="339.6" x2="37.5" y2="339.6" stroke="#656565" stroke-width="0.9"/><line x1="323.5" y1="339.6" x2="326.1" y2="339.6" stroke="#656565" stroke-width="0.9"/><line x1="34.9" y1="342.5" x2="37.5" y2="342.5" stroke="#9a7ccf" stroke-width="0.9"/><line x1="323.5" y1="342.5" x2="326.1" y2="342.5" stroke="#9a7ccf" stroke-width="0.9"/><line x1="34.9" y1="350.5" x2="37.5" y2="350.5" stroke="#9a7ccf" stroke-width="0.9"/><line x1="323.5" y1="350.5" x2="326.1" y2="350.5" stroke="#9a7ccf" stroke-width="0.9"/><line x1="34.9" y1="358.5" x2="37.5" y2="358.5" stroke="#9a7ccf" stroke-width="0.9"/><line x1="323.5" y1="358.5" x2="326.1" y2="358.5" stroke="#9a7ccf" stroke-width="0.9"/><line x1="34.9" y1="366.5" x2="37.5" y2="366.5" stroke="#9a7ccf" stroke-width="0.9"/><line x1="323.5" y1="366.5" x2="326.1" y2="366.5" stroke="#9a7ccf" stroke-width="0.9"/><line x1="34.9" y1="374.5" x2="37.5" y2="374.5" stroke="#9a7ccf" stroke-width="0.9"/><line x1="323.5" y1="374.5" x2="326.1" y2="374.5" stroke="#9a7ccf" stroke-width="0.9"/><line x1="34.9" y1="382.5" x2="37.5" y2="382.5" stroke="#9a7ccf" stroke-width="0.9"/><line x1="323.5" y1="382.5" x2="326.1" y2="382.5" stroke="#9a7ccf" stroke-width="0.9"/><line x1="37.5" y1="382.5" x2="37.5" y2="385.1" stroke="#656565" stroke-width="0.8"/><line x1="94.7" y1="382.5" x2="94.7" y2="385.1" stroke="#656565" stroke-width="0.8"/><line x1="151.9" y1="382.5" x2="151.9" y2="385.1" stroke="#656565" stroke-width="0.8"/><line x1="209.1" y1="382.5" x2="209.1" y2="385.1" stroke="#656565" stroke-width="0.8"/><line x1="266.3" y1="382.5" x2="266.3" y2="385.1" stroke="#656565" stroke-width="0.8"/><line x1="323.5" y1="382.5" x2="323.5" y2="385.1" stroke="#656565" stroke-width="0.8"/><line x1="37.5" y1="207.9" x2="37.5" y2="210.5" stroke="#656565" stroke-width="0.8"/><line x1="94.7" y1="207.9" x2="94.7" y2="210.5" stroke="#656565" stroke-width="0.8"/><line x1="151.9" y1="207.9" x2="151.9" y2="210.5" stroke="#656565" stroke-width="0.8"/><line x1="209.1" y1="207.9" x2="209.1" y2="210.5" stroke="#656565" stroke-width="0.8"/><line x1="266.3" y1="207.9" x2="266.3" y2="210.5" stroke="#656565" stroke-width="0.8"/><line x1="323.5" y1="207.9" x2="323.5" y2="210.5" stroke="#656565" stroke-width="0.8"/>
<text x="37.5" y="393.1" font-size="8.5" fill="#262626" text-anchor="middle" textLength="15.37" lengthAdjust="spacingAndGlyphs">350</text>
<text x="94.7" y="393.1" font-size="8.5" fill="#262626" text-anchor="middle" textLength="15.37" lengthAdjust="spacingAndGlyphs">340</text>
<text x="151.9" y="393.1" font-size="8.5" fill="#262626" text-anchor="middle" textLength="15.37" lengthAdjust="spacingAndGlyphs">330</text>
<text x="209.1" y="393.1" font-size="8.5" fill="#262626" text-anchor="middle" textLength="15.37" lengthAdjust="spacingAndGlyphs">320</text>
<text x="266.3" y="393.1" font-size="8.5" fill="#262626" text-anchor="middle" textLength="15.37" lengthAdjust="spacingAndGlyphs">310</text>
<text x="323.5" y="393.1" font-size="8.5" fill="#262626" text-anchor="middle" textLength="15.37" lengthAdjust="spacingAndGlyphs">300</text>
<text x="180.5" y="403.5" font-size="8.7" fill="#262626" text-anchor="middle" textLength="37.76" lengthAdjust="spacingAndGlyphs">Time [ka]</text>
<text x="42.9" y="218.8" font-size="8.4" fill="#111" text-anchor="start" font-weight="bold" textLength="39.89" lengthAdjust="spacingAndGlyphs">(c) MIS 9</text>
<text x="33.1" y="213.3" font-size="8.5" fill="#3a37b0" text-anchor="end" textLength="5.15" lengthAdjust="spacingAndGlyphs">2</text>
<text x="33.1" y="220.4" font-size="8.5" fill="#3a37b0" text-anchor="end" textLength="5.15" lengthAdjust="spacingAndGlyphs">1</text>
<text x="33.1" y="227.5" font-size="8.5" fill="#3a37b0" text-anchor="end" textLength="5.15" lengthAdjust="spacingAndGlyphs">0</text>
<text x="33.1" y="234.6" font-size="8.5" fill="#3a37b0" text-anchor="end" textLength="11.94" lengthAdjust="spacingAndGlyphs">−1</text>
<text x="33.1" y="241.7" font-size="8.5" fill="#3a37b0" text-anchor="end" textLength="11.94" lengthAdjust="spacingAndGlyphs">−2</text>
<text x="33.1" y="248.8" font-size="8.5" fill="#3a37b0" text-anchor="end" textLength="11.94" lengthAdjust="spacingAndGlyphs">−3</text>
<text x="33.1" y="255.9" font-size="8.5" fill="#3a37b0" text-anchor="end" textLength="11.94" lengthAdjust="spacingAndGlyphs">−4</text>
<text x="33.1" y="299.4" font-size="8.5" fill="#262626" text-anchor="end" textLength="10.31" lengthAdjust="spacingAndGlyphs">10</text>
<text x="33.1" y="310.2" font-size="8.5" fill="#262626" text-anchor="end" textLength="5.15" lengthAdjust="spacingAndGlyphs">5</text>
<text x="33.1" y="321" font-size="8.5" fill="#262626" text-anchor="end" textLength="5.15" lengthAdjust="spacingAndGlyphs">0</text>
<text x="33.1" y="331.8" font-size="8.5" fill="#262626" text-anchor="end" textLength="8.08" lengthAdjust="spacingAndGlyphs">-5</text>
<text x="33.1" y="342.6" font-size="8.5" fill="#262626" text-anchor="end" textLength="13.23" lengthAdjust="spacingAndGlyphs">-10</text>
<text transform="translate(7.8,231.9) rotate(-90)" x="0" y="0" font-size="8.8" fill="#3a37b0" text-anchor="middle" textLength="47.4" lengthAdjust="spacingAndGlyphs"><tspan font-style="italic">T</tspan><tspan font-size="6.2" font-style="italic" dy="1.6">O</tspan><tspan dy="-1.6"> anomaly</tspan></text>
<text transform="translate(17.2,231.1) rotate(-90)" x="0" y="0" font-size="8.8" fill="#3a37b0" text-anchor="middle" textLength="26.3" lengthAdjust="spacingAndGlyphs">[degC]</text>
<text transform="translate(7.4,319.4) rotate(-90)" x="0" y="0" font-size="8.8" fill="#262626" text-anchor="middle" textLength="83.1" lengthAdjust="spacingAndGlyphs">Sea-level equivalent</text>
<text transform="translate(16.2,317.2) rotate(-90)" x="0" y="0" font-size="8.8" fill="#262626" text-anchor="middle" textLength="60.8" lengthAdjust="spacingAndGlyphs">ice volume [m]</text>
</g>
<g>
<line x1="352.5" y1="224.5" x2="638.5" y2="224.5" stroke="#2c28a6" stroke-width="1" stroke-dasharray="3.2,1.3"/>
<line x1="352.5" y1="259.5" x2="638.5" y2="259.5" stroke="#3d9382" stroke-width="1" stroke-dasharray="3.2,1.3"/>
<line x1="352.5" y1="318" x2="638.5" y2="318" stroke="#6e6e6e" stroke-width="1.8" stroke-dasharray="2.9,1.6"/>
<line x1="352.5" y1="350.5" x2="638.5" y2="350.5" stroke="#9677cc" stroke-width="1" stroke-dasharray="3.2,1.3"/>
<polyline fill="none" stroke="#2c28a6" stroke-width="1.05" stroke-linejoin="round" points="352,244.6 353.58,244.15 355.88,243.49 358.33,242.86 360.4,242.5 363.2,242.76 365.6,243.5 367.88,244.43 370.8,245.2 372.58,245.3 374.68,245.32 376.93,245.26 379.16,245.15 381.2,245 383.49,244.78 385.66,244.49 387.7,244.09 389.6,243.5 391.86,242.15 393.88,240.51 395.8,239.4 398.51,239.81 401.1,240 402.8,238.72 404.5,236.71 406.3,234.1 407.29,232.43 408.33,230.44 409.39,228.29 410.46,226.17 411.51,224.25 412.5,222.7 414.34,220.46 416.07,219.01 417.8,218.5 419.5,219.22 421.2,220.87 423,222.7 424.48,224.11 426.03,225.71 427.62,227.24 429.2,228.5 431.21,229.51 433.24,230.16 435.5,231 437.48,231.88 439.64,232.87 441.83,233.97 443.9,235.2 445.8,236.69 447.62,238.39 449.4,240.04 451.2,241.4 453.75,242.75 456.3,243.73 458.5,244.2 460.68,243.36 462.6,242.5 465.05,243.98 467.9,245.2 469.54,244.51 471.29,243.18 473.18,241.91 475.2,241.4 477,241.88 478.96,242.94 480.97,244.22 482.89,245.36 484.6,246 486.98,245.93 489,245.14 490.8,244.2 492.89,242.72 495,241 496.95,239.82 499.13,238.59 501.3,237.3 503.33,236.07 505.36,234.78 507.5,233.1 508.89,231.63 510.34,229.81 511.83,227.96 513.32,226.38 514.8,225.4 517.11,225.32 519.43,226.3 522.1,227.3 523.96,227.66 525.97,227.99 528.1,228.34 530.32,228.76 532.6,229.3 534.58,229.87 536.66,230.51 538.79,231.23 540.93,231.97 543.05,232.74 545.1,233.5 547.13,234.4 549.2,235.48 551.24,236.58 553.19,237.53 555,238.16 556.6,238.3 558.52,237.35 560.01,235.46 561.38,233.31 562.9,231.6 564.68,230.4 566.56,229.36 568.43,228.62 570.2,228.3 572.27,228.64 574.21,229.64 576.4,231 577.96,232.01 579.65,233.23 581.41,234.53 583.16,235.8 584.8,236.9 586.76,238.14 588.67,239.31 590.48,240.24 592.1,240.8 594.64,240.09 596.9,239.4 598.48,240.6 600.09,242.42 601.9,243.5 604.2,243.12 606.71,242.01 608.8,241 611.9,239.4 613.44,240.36 615.21,241.94 617.1,243.5 619.08,244.89 621.19,246.25 623.4,247.3 625.76,247.88 628.23,248.14 630.7,248.3 633.4,248.37 636.11,248.34 638,248.3"/>
<polyline fill="none" stroke="#3d9382" stroke-width="1.05" stroke-linejoin="round" points="352,281.1 353.64,281.16 355.97,281.26 358.3,281.5 360.29,282.07 362.27,282.79 364.5,283.2 366.35,283.06 368.31,282.65 370.46,282.27 372.9,282.2 374.77,282.49 376.84,283.02 379.02,283.65 381.24,284.23 383.39,284.63 385.4,284.7 387.68,284.25 389.91,283.37 392.04,282.31 394.02,281.27 395.8,280.5 398.13,280.05 400,279.9 402.1,279 403.63,277.75 405.27,276.09 406.97,274.23 408.73,272.37 410.5,270.7 412.33,269.11 414.25,267.46 416.17,265.94 418.05,264.73 419.8,264 422.37,264.19 424.74,265.4 427.2,266.5 429.16,266.84 431.16,267.04 433.26,267.35 435.5,268 437.48,268.93 439.6,270.14 441.78,271.47 443.91,272.74 445.9,273.8 448.19,274.89 450.36,275.84 452.39,276.55 454.3,276.9 456.37,276.44 458.2,275.41 460.6,274.8 462.59,274.87 464.89,275.12 467.34,275.5 469.77,275.98 472,276.5 474.06,277.19 476.05,278.08 477.96,278.98 479.75,279.71 481.4,280.1 483.69,279.98 485.64,279.22 487.7,278 489.48,276.7 491.35,275.07 493.22,273.32 495,271.7 496.62,270.18 498.15,268.68 499.68,267.28 501.3,266.1 503.43,264.81 505.67,263.84 508.6,263.4 510.53,263.5 512.75,263.85 515.15,264.32 517.59,264.83 519.95,265.26 522.1,265.5 524.39,265.5 526.52,265.31 528.55,265.04 530.55,264.83 532.6,264.8 534.68,265 536.76,265.34 538.84,265.76 540.92,266.17 543,266.5 545.13,266.79 547.3,267.09 549.45,267.35 551.54,267.5 553.5,267.5 555.73,267.19 557.78,266.63 559.77,266.01 561.8,265.5 563.85,265.05 565.87,264.6 567.96,264.32 570.2,264.4 572.15,264.84 574.22,265.58 576.34,266.45 578.49,267.31 580.6,268 582.73,268.51 584.91,268.95 587.06,269.33 589.12,269.67 591,270 593.74,270.36 596.13,270.65 598.3,271.3 600.18,272.59 601.84,274.24 603.6,275.9 605.44,277.54 607.38,279.18 609.8,280.5 611.68,281.07 613.84,281.52 616.12,281.86 618.34,282.09 620.3,282.2 622.86,282 625.06,281.49 627.6,281.1 629.65,281.03 632.04,281.02 634.44,281.05 636.54,281.08 638,281.1"/>
<polyline fill="none" stroke="#111111" stroke-width="1.1" stroke-linejoin="round" points="352,313.5 353.24,313.44 354.84,313.37 356.73,313.28 358.86,313.18 361.14,313.07 363.54,312.96 365.97,312.84 368.39,312.72 370.72,312.61 372.9,312.5 375.03,312.39 377.21,312.27 379.43,312.15 381.66,312.02 383.87,311.89 386.04,311.77 388.15,311.66 390.16,311.56 392.05,311.47 393.8,311.4 396.45,311.32 398.85,311.26 401.01,311.24 402.96,311.24 404.72,311.26 406.3,311.3 409.54,311.47 411.8,312 414.2,313.28 416.5,314.8 419,316.31 421.2,317.5 423.5,317.8 427,317 429.07,317.03 431.54,317.18 434,317.2 436.02,316.98 438.04,316.64 441,316.3 442.71,316.17 444.63,316.05 446.72,315.92 448.97,315.8 451.35,315.67 453.84,315.54 456.4,315.4 458.28,315.29 460.28,315.16 462.37,315.03 464.52,314.89 466.71,314.75 468.91,314.62 471.09,314.5 473.24,314.41 475.31,314.34 477.3,314.3 479.64,314.3 481.88,314.33 484.03,314.4 486.15,314.49 488.27,314.61 490.43,314.73 492.66,314.87 495,315 496.96,315.12 498.98,315.26 501.03,315.43 503.13,315.6 505.25,315.77 507.39,315.94 509.53,316.09 511.67,316.22 513.8,316.33 515.9,316.4 517.99,316.43 520.08,316.43 522.17,316.4 524.26,316.35 526.36,316.29 528.45,316.22 530.54,316.15 532.63,316.08 534.71,316.03 536.8,316 538.88,315.99 540.96,315.99 543.04,316 545.12,316.02 547.2,316.04 549.28,316.05 551.36,316.06 553.44,316.06 555.52,316.04 557.6,316 559.69,315.94 561.77,315.85 563.86,315.74 565.95,315.62 568.04,315.5 570.14,315.38 572.23,315.26 574.32,315.15 576.41,315.06 578.5,315 580.64,314.97 582.85,314.97 585.1,314.99 587.36,315.03 589.61,315.07 591.8,315.1 593.9,315.12 595.89,315.12 597.74,315.08 599.4,315 602.15,314.68 604.31,314.21 606.14,313.69 607.88,313.22 609.8,312.9 611.78,312.75 613.65,312.7 615.58,312.73 617.74,312.8 620.3,312.9 622.29,312.98 624.63,313.1 627.19,313.25 629.81,313.4 632.34,313.55 634.65,313.7 636.59,313.82 638,313.9"/>
<polyline fill="none" stroke="#4a0a92" stroke-width="1.25" stroke-linejoin="round" points="352,350.91 352.45,349.77 352.9,347.98 353.35,349.41 353.8,350.67 354.25,350.86 354.7,350.53 355.15,347.1 355.6,347.64 356.05,350.36 356.5,347.69 356.95,349.93 357.4,351.39 357.85,350.31 358.3,350.45 358.75,348.63 359.2,347.02 359.65,347.98 360.1,348.06 360.55,348.32 361,349.53 361.45,348.95 361.9,349.4 362.35,349.97 362.8,349.74 363.25,352.16 363.7,351.19 364.15,350.67 364.6,350.34 365.05,349.9 365.5,352.42 365.95,351.73 366.4,350.19 366.85,350.37 367.3,350.73 367.75,350.27 368.2,351.9 368.65,349.34 369.1,350.6 369.55,350.31 370,348.42 370.45,349.31 370.9,349.19 371.35,349.74 371.8,348.52 372.25,348.99 372.7,346.49 373.15,346.52 373.6,348.84 374.05,349.71 374.5,348.57 374.95,347.52 375.4,349.32 375.85,345.77 376.3,346.46 376.75,348.44 377.2,348.87 377.65,346.84 378.1,345.23 378.55,348.96 379,348.24 379.45,346.71 379.9,347.48 380.35,348.69 380.8,344.6 381.25,348.16 381.7,348.56 382.15,345.09 382.6,347.76 383.05,345.2 383.5,348.23 383.95,348.15 384.4,350.52 384.85,347.6 385.3,347.7 385.75,349.1 386.2,347.41 386.65,346.97 387.1,347.35 387.55,347.88 388,346.82 388.45,348.58 388.9,349.16 389.35,348.78 389.8,350.79 390.25,348.83 390.7,350.45 391.15,348.6 391.6,349.84 392.05,346.85 392.5,348.84 392.95,348.94 393.4,348.63 393.85,348.47 394.3,348.82 394.75,348.51 395.2,346.65 395.65,348.24 396.1,348.76 396.55,348.99 397,348.44 397.45,349.51 397.9,351 398.35,350.14 398.8,349.68 399.25,351.94 399.7,352.09 400.15,352.12 400.6,352.49 401.05,350.78 401.5,350.67 401.95,352.26 402.4,350.63 402.85,350.83 403.3,351.56 403.75,351.8 404.2,351.11 404.65,352.58 405.1,351.55 405.55,352.68 406,353.66 406.45,353.64 406.9,353.98 407.35,351.94 407.8,351.49 408.25,352.5 408.7,354.36 409.15,356.36 409.6,353.91 410.05,355.85 410.5,355.47 410.95,356.12 411.4,357.44 411.85,359.56 412.3,360.08 412.75,362.01 413.2,360.37 413.65,362.88 414.1,364.05 414.55,363.77 415,364.73 415.45,364.17 415.9,363.89 416.35,365.18 416.8,365.72 417.25,370.38 417.7,366.72 418.15,368.08 418.6,366.2 419.05,365.47 419.5,365.43 419.95,362.85 420.4,363.21 420.85,361.63 421.3,357.88 421.75,358.59 422.2,357.72 422.65,356.39 423.1,356.54 423.55,353.33 424,352.89 424.45,352.28 424.9,349.27 425.35,350.35 425.8,346.51 426.25,345.36 426.7,347.7 427.15,346.4 427.6,347.43 428.05,345.91 428.5,347.81 428.95,346.92 429.4,348.68 429.85,346.91 430.3,349.08 430.75,348.87 431.2,349.36 431.65,349.26 432.1,349.41 432.55,347.58 433,345.51 433.45,348.18 433.9,347.58 434.35,347.98 434.8,349.12 435.25,346.34 435.7,347.11 436.15,347.44 436.6,346.91 437.05,348.45 437.5,348.19 437.95,347.22 438.4,346.72 438.85,348.78 439.3,347.4 439.75,348.55 440.2,348.53 440.65,345.49 441.1,345.62 441.55,346.9 442,347.53 442.45,348.12 442.9,348.18 443.35,348.37 443.8,346.55 444.25,346.18 444.7,347.21 445.15,345.85 445.6,347.25 446.05,344.31 446.5,346.63 446.95,346.37 447.4,344.25 447.85,347.59 448.3,347.77 448.75,347.64 449.2,346.43 449.65,347.08 450.1,349.9 450.55,347.86 451,344.24 451.45,346.79 451.9,347.19 452.35,348.83 452.8,349.18 453.25,348.87 453.7,349.13 454.15,351.8 454.6,349.61 455.05,353.56 455.5,351.67 455.95,350.76 456.4,353.13 456.85,352.88 457.3,350.45 457.75,351.72 458.2,348.44 458.65,348.4 459.1,350.59 459.55,349.05 460,347 460.45,348.39 460.9,349.34 461.35,348.62 461.8,346.37 462.25,347.79 462.7,349.26 463.15,350.22 463.6,351.98 464.05,349.94 464.5,349.3 464.95,349.86 465.4,351.71 465.85,349.64 466.3,352.09 466.75,347.8 467.2,350.9 467.65,349.63 468.1,350.53 468.55,350.85 469,348.4 469.45,348.97 469.9,349.32 470.35,349.65 470.8,347.65 471.25,346.88 471.7,345.32 472.15,350.32 472.6,347.97 473.05,347.15 473.5,345.54 473.95,348.31 474.4,347.3 474.85,349.64 475.3,349.63 475.75,348.72 476.2,349.5 476.65,347.53 477.1,348.15 477.55,348.12 478,347.38 478.45,348.93 478.9,349.25 479.35,351.43 479.8,346.12 480.25,348.28 480.7,348.64 481.15,349.43 481.6,350.83 482.05,351.23 482.5,350.94 482.95,350.32 483.4,351.46 483.85,351.65 484.3,349.03 484.75,350.43 485.2,349.47 485.65,349.55 486.1,351.31 486.55,351.72 487,351.98 487.45,350.88 487.9,351.53 488.35,350.88 488.8,352.42 489.25,353.27 489.7,354.9 490.15,354.76 490.6,352.21 491.05,352.08 491.5,351.51 491.95,353 492.4,355.54 492.85,354.65 493.3,350.87 493.75,351.17 494.2,351.27 494.65,353.63 495.1,353.59 495.55,353.8 496,355.59 496.45,352.66 496.9,351.79 497.35,354.98 497.8,353.64 498.25,351.79 498.7,349.65 499.15,349.63 499.6,348.36 500.05,351.08 500.5,351.61 500.95,352.82 501.4,351.59 501.85,350.46 502.3,349.99 502.75,353.05 503.2,349.11 503.65,350.42 504.1,350.44 504.55,351.05 505,349.8 505.45,350.5 505.9,350.94 506.35,349.72 506.8,348.9 507.25,348.91 507.7,347.81 508.15,348.36 508.6,348.25 509.05,348.74 509.5,350.14 509.95,350.69 510.4,348.88 510.85,349.96 511.3,350.06 511.75,350.89 512.2,350.39 512.65,350.79 513.1,350.19 513.55,349.87 514,352.08 514.45,353.38 514.9,353.13 515.35,353.01 515.8,352.98 516.25,352.01 516.7,350.01 517.15,352.51 517.6,352.48 518.05,351.47 518.5,350.64 518.95,353.17 519.4,349.89 519.85,353.46 520.3,352.88 520.75,354.84 521.2,351.4 521.65,351.35 522.1,350.66 522.55,351.25 523,350.88 523.45,350.05 523.9,352.06 524.35,350.17 524.8,349.98 525.25,351.19 525.7,350.07 526.15,349.85 526.6,350.74 527.05,350.03 527.5,348.72 527.95,349.79 528.4,349.87 528.85,352.26 529.3,349.32 529.75,351.13 530.2,349.36 530.65,349.42 531.1,349.43 531.55,350.15 532,351.03 532.45,352.33 532.9,349.63 533.35,351.38 533.8,351.36 534.25,351.1 534.7,349.03 535.15,350.55 535.6,349.64 536.05,349.95 536.5,349.21 536.95,350.19 537.4,351.05 537.85,351.32 538.3,349.75 538.75,350.9 539.2,351.79 539.65,349.07 540.1,351.43 540.55,348.55 541,350.21 541.45,350.73 541.9,352 542.35,350.85 542.8,349.65 543.25,348.99 543.7,348.29 544.15,350.68 544.6,350.05 545.05,349.33 545.5,350.75 545.95,349.52 546.4,349.66 546.85,349.7 547.3,352.4 547.75,352.93 548.2,351.12 548.65,348.98 549.1,350.84 549.55,351.13 550,351.63 550.45,352.1 550.9,351.2 551.35,352.61 551.8,352.93 552.25,352.31 552.7,351.47 553.15,351.24 553.6,352.74 554.05,350.95 554.5,351.76 554.95,351.31 555.4,350.47 555.85,352.41 556.3,351.75 556.75,351.33 557.2,351.95 557.65,348.81 558.1,349.48 558.55,349.76 559,350.18 559.45,347.56 559.9,349.05 560.35,348.91 560.8,350.33 561.25,350.46 561.7,349.79 562.15,351.67 562.6,349.49 563.05,348.45 563.5,348.34 563.95,347.6 564.4,348.6 564.85,346.57 565.3,348.35 565.75,349.47 566.2,350.5 566.65,349.13 567.1,350.99 567.55,348.95 568,349.12 568.45,347.01 568.9,347.89 569.35,348.09 569.8,350.98 570.25,350.54 570.7,348.46 571.15,349.95 571.6,350.28 572.05,349.51 572.5,349.65 572.95,349.31 573.4,348.95 573.85,347.38 574.3,349.06 574.75,351.18 575.2,351.91 575.65,350.02 576.1,349 576.55,349.41 577,350.89 577.45,350.61 577.9,349.42 578.35,350.3 578.8,349.84 579.25,350.62 579.7,349.71 580.15,348.2 580.6,349.7 581.05,350.95 581.5,349 581.95,349.75 582.4,351.15 582.85,349.99 583.3,349.38 583.75,352.51 584.2,351.85 584.65,351.94 585.1,349.58 585.55,352.14 586,348.79 586.45,349.36 586.9,351.05 587.35,352.21 587.8,349.76 588.25,349.49 588.7,350.48 589.15,348.18 589.6,350.76 590.05,351.35 590.5,350.31 590.95,351.28 591.4,351.85 591.85,351.46 592.3,351.66 592.75,352.95 593.2,350.89 593.65,351.18 594.1,350.46 594.55,352.21 595,350.93 595.45,351.72 595.9,351.54 596.35,351.45 596.8,353.46 597.25,351.82 597.7,353.26 598.15,352.94 598.6,352.78 599.05,350.08 599.5,349.96 599.95,348.95 600.4,346.27 600.85,345.9 601.3,344.55 601.75,344.24 602.2,346.05 602.65,344.2 603.1,342.71 603.55,342.41 604,344.03 604.45,344.34 604.9,345.36 605.35,346.42 605.8,348.03 606.25,346.36 606.7,345.88 607.15,344.07 607.6,344.95 608.05,345.87 608.5,345.82 608.95,341.59 609.4,343.71 609.85,346.29 610.3,346.86 610.75,345.05 611.2,346.87 611.65,349.25 612.1,350.48 612.55,350.16 613,350.82 613.45,352.91 613.9,350.63 614.35,353.37 614.8,352.32 615.25,352.37 615.7,350.39 616.15,350.75 616.6,352.36 617.05,350.14 617.5,353.81 617.95,350.53 618.4,349.89 618.85,351.23 619.3,352.06 619.75,352.55 620.2,351.31 620.65,351.2 621.1,351.14 621.55,350.72 622,348.21 622.45,351.83 622.9,351.88 623.35,351.79 623.8,350.82 624.25,351.63 624.7,351.52 625.15,351.41 625.6,352.81 626.05,349.76 626.5,351.37 626.95,350.19 627.4,350.79 627.85,353.12 628.3,350.6 628.75,351.12 629.2,350.57 629.65,352.21 630.1,350.22 630.55,348.81 631,351.02 631.45,350.45 631.9,350.28 632.35,351.84 632.8,349.79 633.25,349.82 633.7,350.38 634.15,350.76 634.6,349.66 635.05,351.18 635.5,352.93 635.95,350.11 636.4,352.06 636.85,347.7 637.3,350.76 637.75,349.34"/>
<line x1="413.6" y1="327.1" x2="413.6" y2="313.07" stroke="#927074" stroke-width="0.7" stroke-opacity="0.42"/>
<line x1="415.7" y1="330.2" x2="415.7" y2="314.32" stroke="#ac5459" stroke-width="0.7" stroke-opacity="0.42"/>
<line x1="418.8" y1="331.2" x2="418.8" y2="316.12" stroke="#b9494e" stroke-width="0.7" stroke-opacity="0.42"/>
<line x1="421.9" y1="330.2" x2="421.9" y2="317.59" stroke="#a9575c" stroke-width="0.7" stroke-opacity="0.42"/>
<line x1="424" y1="326.4" x2="424" y2="317.69" stroke="#907377" stroke-width="0.7" stroke-opacity="0.42"/>
<circle cx="394.8" cy="308.7" r="2.05" fill="#0c00f5"/>
<circle cx="402.1" cy="309.3" r="2.05" fill="#0c00f5"/>
<circle cx="404.5" cy="309" r="2.05" fill="#1204f7"/>
<circle cx="407.3" cy="308.4" r="2.05" fill="#1204f7"/>
<circle cx="410.5" cy="311.2" r="2.05" fill="#3628e7"/>
<circle cx="413.6" cy="327.1" r="2.05" fill="#927074"/>
<circle cx="415.7" cy="330.2" r="2.05" fill="#ac5459"/>
<circle cx="418.8" cy="331.2" r="2.05" fill="#b9494e"/>
<circle cx="421.9" cy="330.2" r="2.05" fill="#a9575c"/>
<circle cx="424" cy="326.4" r="2.05" fill="#907377"/>
<circle cx="425.1" cy="318.1" r="2.05" fill="#726d9a"/>
<circle cx="430.3" cy="315.6" r="2.05" fill="#2412fd"/>
<circle cx="435.5" cy="317" r="2.05" fill="#1e0dfb"/>
<circle cx="437.5" cy="317.5" r="2.05" fill="#1e0dfb"/>
<circle cx="439.7" cy="318" r="2.05" fill="#1809f9"/>
<circle cx="442.8" cy="315" r="2.05" fill="#1809f9"/>
<circle cx="445.5" cy="314.6" r="2.05" fill="#1809f9"/>
<circle cx="448" cy="314.3" r="2.05" fill="#1809f9"/>
<circle cx="450.5" cy="314" r="2.05" fill="#1204f7"/>
<circle cx="454.3" cy="313.9" r="2.05" fill="#1204f7"/>
<circle cx="458.9" cy="313.5" r="2.05" fill="#1204f7"/>
<circle cx="491.9" cy="314.5" r="2.05" fill="#1204f7"/>
<circle cx="494.5" cy="314.5" r="2.05" fill="#1204f7"/>
<circle cx="497" cy="316.3" r="2.05" fill="#2412fd"/>
<circle cx="500" cy="316.6" r="2.05" fill="#2a16ff"/>
<circle cx="503" cy="316.8" r="2.05" fill="#2e1cf7"/>
<circle cx="506" cy="316.6" r="2.05" fill="#2e1cf7"/>
<circle cx="509" cy="316.5" r="2.05" fill="#3628e7"/>
<circle cx="512" cy="316.8" r="2.05" fill="#3a2edf"/>
<circle cx="516" cy="317" r="2.05" fill="#3e34d7"/>
<circle cx="520" cy="317" r="2.05" fill="#463dce"/>
<circle cx="527.4" cy="315.6" r="2.05" fill="#3628e7"/>
<circle cx="535.7" cy="316.4" r="2.05" fill="#2a16ff"/>
<circle cx="540.9" cy="317.5" r="2.05" fill="#1e0dfb"/>
<circle cx="546.1" cy="317.1" r="2.05" fill="#2412fd"/>
<circle cx="550.3" cy="318.1" r="2.05" fill="#1809f9"/>
<circle cx="555.5" cy="317.5" r="2.05" fill="#1809f9"/>
<circle cx="589" cy="318.1" r="2.05" fill="#0c00f5"/>
<circle cx="592.7" cy="318.1" r="2.05" fill="#0c00f5"/>
<circle cx="601.5" cy="317.5" r="2.05" fill="#1204f7"/>
<circle cx="619.2" cy="313.3" r="2.05" fill="#0c00f5"/>
<circle cx="622.8" cy="313.3" r="2.05" fill="#0c00f5"/>
<line x1="352.5" y1="210.5" x2="352.5" y2="253.3" stroke="#7470c8" stroke-width="1"/>
<line x1="352.5" y1="253.3" x2="352.5" y2="296.5" stroke="#77b5a8" stroke-width="1"/>
<line x1="352.5" y1="296.5" x2="352.5" y2="339.8" stroke="#656565" stroke-width="1"/>
<line x1="352.5" y1="339.8" x2="352.5" y2="382.5" stroke="#9a7ccf" stroke-width="1"/>
<line x1="638.5" y1="210.5" x2="638.5" y2="253.3" stroke="#7470c8" stroke-width="1"/>
<line x1="638.5" y1="253.3" x2="638.5" y2="296.5" stroke="#77b5a8" stroke-width="1"/>
<line x1="638.5" y1="296.5" x2="638.5" y2="339.8" stroke="#656565" stroke-width="1"/>
<line x1="638.5" y1="339.8" x2="638.5" y2="382.5" stroke="#9a7ccf" stroke-width="1"/>
<line x1="352" y1="210.5" x2="639" y2="210.5" stroke="#656565" stroke-width="1"/>
<line x1="352" y1="382.5" x2="639" y2="382.5" stroke="#656565" stroke-width="1"/>
<line x1="349.9" y1="210.3" x2="352.5" y2="210.3" stroke="#7470c8" stroke-width="0.9"/><line x1="638.5" y1="210.3" x2="641.1" y2="210.3" stroke="#7470c8" stroke-width="0.9"/><line x1="349.9" y1="217.4" x2="352.5" y2="217.4" stroke="#7470c8" stroke-width="0.9"/><line x1="638.5" y1="217.4" x2="641.1" y2="217.4" stroke="#7470c8" stroke-width="0.9"/><line x1="349.9" y1="224.5" x2="352.5" y2="224.5" stroke="#7470c8" stroke-width="0.9"/><line x1="638.5" y1="224.5" x2="641.1" y2="224.5" stroke="#7470c8" stroke-width="0.9"/><line x1="349.9" y1="231.6" x2="352.5" y2="231.6" stroke="#7470c8" stroke-width="0.9"/><line x1="638.5" y1="231.6" x2="641.1" y2="231.6" stroke="#7470c8" stroke-width="0.9"/><line x1="349.9" y1="238.7" x2="352.5" y2="238.7" stroke="#7470c8" stroke-width="0.9"/><line x1="638.5" y1="238.7" x2="641.1" y2="238.7" stroke="#7470c8" stroke-width="0.9"/><line x1="349.9" y1="245.8" x2="352.5" y2="245.8" stroke="#7470c8" stroke-width="0.9"/><line x1="638.5" y1="245.8" x2="641.1" y2="245.8" stroke="#7470c8" stroke-width="0.9"/><line x1="349.9" y1="252.9" x2="352.5" y2="252.9" stroke="#7470c8" stroke-width="0.9"/><line x1="638.5" y1="252.9" x2="641.1" y2="252.9" stroke="#7470c8" stroke-width="0.9"/><line x1="349.9" y1="259.2" x2="352.5" y2="259.2" stroke="#77b5a8" stroke-width="0.9"/><line x1="638.5" y1="259.2" x2="641.1" y2="259.2" stroke="#77b5a8" stroke-width="0.9"/><line x1="349.9" y1="265.5" x2="352.5" y2="265.5" stroke="#77b5a8" stroke-width="0.9"/><line x1="638.5" y1="265.5" x2="641.1" y2="265.5" stroke="#77b5a8" stroke-width="0.9"/><line x1="349.9" y1="271.8" x2="352.5" y2="271.8" stroke="#77b5a8" stroke-width="0.9"/><line x1="638.5" y1="271.8" x2="641.1" y2="271.8" stroke="#77b5a8" stroke-width="0.9"/><line x1="349.9" y1="278.1" x2="352.5" y2="278.1" stroke="#77b5a8" stroke-width="0.9"/><line x1="638.5" y1="278.1" x2="641.1" y2="278.1" stroke="#77b5a8" stroke-width="0.9"/><line x1="349.9" y1="284.4" x2="352.5" y2="284.4" stroke="#77b5a8" stroke-width="0.9"/><line x1="638.5" y1="284.4" x2="641.1" y2="284.4" stroke="#77b5a8" stroke-width="0.9"/><line x1="349.9" y1="290.7" x2="352.5" y2="290.7" stroke="#77b5a8" stroke-width="0.9"/><line x1="638.5" y1="290.7" x2="641.1" y2="290.7" stroke="#77b5a8" stroke-width="0.9"/><line x1="349.9" y1="296.4" x2="352.5" y2="296.4" stroke="#656565" stroke-width="0.9"/><line x1="638.5" y1="296.4" x2="641.1" y2="296.4" stroke="#656565" stroke-width="0.9"/><line x1="349.9" y1="307.2" x2="352.5" y2="307.2" stroke="#656565" stroke-width="0.9"/><line x1="638.5" y1="307.2" x2="641.1" y2="307.2" stroke="#656565" stroke-width="0.9"/><line x1="349.9" y1="318" x2="352.5" y2="318" stroke="#656565" stroke-width="0.9"/><line x1="638.5" y1="318" x2="641.1" y2="318" stroke="#656565" stroke-width="0.9"/><line x1="349.9" y1="328.8" x2="352.5" y2="328.8" stroke="#656565" stroke-width="0.9"/><line x1="638.5" y1="328.8" x2="641.1" y2="328.8" stroke="#656565" stroke-width="0.9"/><line x1="349.9" y1="339.6" x2="352.5" y2="339.6" stroke="#656565" stroke-width="0.9"/><line x1="638.5" y1="339.6" x2="641.1" y2="339.6" stroke="#656565" stroke-width="0.9"/><line x1="349.9" y1="342.5" x2="352.5" y2="342.5" stroke="#9a7ccf" stroke-width="0.9"/><line x1="638.5" y1="342.5" x2="641.1" y2="342.5" stroke="#9a7ccf" stroke-width="0.9"/><line x1="349.9" y1="350.5" x2="352.5" y2="350.5" stroke="#9a7ccf" stroke-width="0.9"/><line x1="638.5" y1="350.5" x2="641.1" y2="350.5" stroke="#9a7ccf" stroke-width="0.9"/><line x1="349.9" y1="358.5" x2="352.5" y2="358.5" stroke="#9a7ccf" stroke-width="0.9"/><line x1="638.5" y1="358.5" x2="641.1" y2="358.5" stroke="#9a7ccf" stroke-width="0.9"/><line x1="349.9" y1="366.5" x2="352.5" y2="366.5" stroke="#9a7ccf" stroke-width="0.9"/><line x1="638.5" y1="366.5" x2="641.1" y2="366.5" stroke="#9a7ccf" stroke-width="0.9"/><line x1="349.9" y1="374.5" x2="352.5" y2="374.5" stroke="#9a7ccf" stroke-width="0.9"/><line x1="638.5" y1="374.5" x2="641.1" y2="374.5" stroke="#9a7ccf" stroke-width="0.9"/><line x1="349.9" y1="382.5" x2="352.5" y2="382.5" stroke="#9a7ccf" stroke-width="0.9"/><line x1="638.5" y1="382.5" x2="641.1" y2="382.5" stroke="#9a7ccf" stroke-width="0.9"/><line x1="352.5" y1="382.5" x2="352.5" y2="385.1" stroke="#656565" stroke-width="0.8"/><line x1="388.25" y1="382.5" x2="388.25" y2="385.1" stroke="#656565" stroke-width="0.8"/><line x1="424" y1="382.5" x2="424" y2="385.1" stroke="#656565" stroke-width="0.8"/><line x1="459.75" y1="382.5" x2="459.75" y2="385.1" stroke="#656565" stroke-width="0.8"/><line x1="495.5" y1="382.5" x2="495.5" y2="385.1" stroke="#656565" stroke-width="0.8"/><line x1="531.25" y1="382.5" x2="531.25" y2="385.1" stroke="#656565" stroke-width="0.8"/><line x1="567" y1="382.5" x2="567" y2="385.1" stroke="#656565" stroke-width="0.8"/><line x1="602.75" y1="382.5" x2="602.75" y2="385.1" stroke="#656565" stroke-width="0.8"/><line x1="638.5" y1="382.5" x2="638.5" y2="385.1" stroke="#656565" stroke-width="0.8"/><line x1="352.5" y1="207.9" x2="352.5" y2="210.5" stroke="#656565" stroke-width="0.8"/><line x1="388.25" y1="207.9" x2="388.25" y2="210.5" stroke="#656565" stroke-width="0.8"/><line x1="424" y1="207.9" x2="424" y2="210.5" stroke="#656565" stroke-width="0.8"/><line x1="459.75" y1="207.9" x2="459.75" y2="210.5" stroke="#656565" stroke-width="0.8"/><line x1="495.5" y1="207.9" x2="495.5" y2="210.5" stroke="#656565" stroke-width="0.8"/><line x1="531.25" y1="207.9" x2="531.25" y2="210.5" stroke="#656565" stroke-width="0.8"/><line x1="567" y1="207.9" x2="567" y2="210.5" stroke="#656565" stroke-width="0.8"/><line x1="602.75" y1="207.9" x2="602.75" y2="210.5" stroke="#656565" stroke-width="0.8"/><line x1="638.5" y1="207.9" x2="638.5" y2="210.5" stroke="#656565" stroke-width="0.8"/>
<text x="352.5" y="393.1" font-size="8.5" fill="#262626" text-anchor="middle" textLength="15.37" lengthAdjust="spacingAndGlyphs">260</text>
<text x="388.25" y="393.1" font-size="8.5" fill="#262626" text-anchor="middle" textLength="15.37" lengthAdjust="spacingAndGlyphs">250</text>
<text x="424" y="393.1" font-size="8.5" fill="#262626" text-anchor="middle" textLength="15.37" lengthAdjust="spacingAndGlyphs">240</text>
<text x="459.75" y="393.1" font-size="8.5" fill="#262626" text-anchor="middle" textLength="15.37" lengthAdjust="spacingAndGlyphs">230</text>
<text x="495.5" y="393.1" font-size="8.5" fill="#262626" text-anchor="middle" textLength="15.37" lengthAdjust="spacingAndGlyphs">220</text>
<text x="531.25" y="393.1" font-size="8.5" fill="#262626" text-anchor="middle" textLength="15.37" lengthAdjust="spacingAndGlyphs">210</text>
<text x="567" y="393.1" font-size="8.5" fill="#262626" text-anchor="middle" textLength="15.37" lengthAdjust="spacingAndGlyphs">200</text>
<text x="602.75" y="393.1" font-size="8.5" fill="#262626" text-anchor="middle" textLength="15.37" lengthAdjust="spacingAndGlyphs">190</text>
<text x="638.5" y="393.1" font-size="8.5" fill="#262626" text-anchor="middle" textLength="15.37" lengthAdjust="spacingAndGlyphs">180</text>
<text x="495.5" y="403.5" font-size="8.7" fill="#262626" text-anchor="middle" textLength="37.76" lengthAdjust="spacingAndGlyphs">Time [ka]</text>
<text x="357.9" y="218.8" font-size="8.4" fill="#111" text-anchor="start" font-weight="bold" textLength="40.88" lengthAdjust="spacingAndGlyphs">(d) MIS 7</text>
<text x="643.1" y="262.2" font-size="8.6" fill="#3d9382" text-anchor="start" textLength="5.15" lengthAdjust="spacingAndGlyphs">0</text>
<text x="643.1" y="268.5" font-size="8.6" fill="#3d9382" text-anchor="start" textLength="17.09" lengthAdjust="spacingAndGlyphs">−20</text>
<text x="643.1" y="274.8" font-size="8.6" fill="#3d9382" text-anchor="start" textLength="17.09" lengthAdjust="spacingAndGlyphs">−40</text>
<text x="643.1" y="281.1" font-size="8.6" fill="#3d9382" text-anchor="start" textLength="17.09" lengthAdjust="spacingAndGlyphs">−60</text>
<text x="643.1" y="287.4" font-size="8.6" fill="#3d9382" text-anchor="start" textLength="17.09" lengthAdjust="spacingAndGlyphs">−80</text>
<text x="643.1" y="293.7" font-size="8.6" fill="#3d9382" text-anchor="start" textLength="22.25" lengthAdjust="spacingAndGlyphs">−100</text>
<text x="643.1" y="346.1" font-size="8.6" fill="#4a0a92" text-anchor="start" textLength="5.15" lengthAdjust="spacingAndGlyphs">5</text>
<text x="643.1" y="354.1" font-size="8.6" fill="#4a0a92" text-anchor="start" textLength="5.15" lengthAdjust="spacingAndGlyphs">0</text>
<text x="643.1" y="362.1" font-size="8.6" fill="#4a0a92" text-anchor="start" textLength="11.94" lengthAdjust="spacingAndGlyphs">−5</text>
<text x="643.1" y="370.1" font-size="8.6" fill="#4a0a92" text-anchor="start" textLength="17.09" lengthAdjust="spacingAndGlyphs">−10</text>
<text x="643.1" y="378.1" font-size="8.6" fill="#4a0a92" text-anchor="start" textLength="17.09" lengthAdjust="spacingAndGlyphs">−15</text>
<text x="643.1" y="386.1" font-size="8.6" fill="#4a0a92" text-anchor="start" textLength="17.09" lengthAdjust="spacingAndGlyphs">−20</text>
<text transform="translate(674.1,275.6) rotate(-90)" x="0" y="0" font-size="8.8" fill="#3d9382" text-anchor="middle" textLength="59" lengthAdjust="spacingAndGlyphs">GMSL anomaly</text>
<text transform="translate(684.1,275.9) rotate(-90)" x="0" y="0" font-size="8.8" fill="#3d9382" text-anchor="middle" textLength="11.5" lengthAdjust="spacingAndGlyphs">[m]</text>
<text transform="translate(668.5,361.4) rotate(-90)" x="0" y="0" font-size="8.8" fill="#4a0a92" text-anchor="middle" textLength="31.7" lengthAdjust="spacingAndGlyphs"><tspan font-style="italic">dV</tspan><tspan font-size="5.6" dy="1.6">SLE</tspan><tspan dy="-1.6" font-style="italic">/dt</tspan></text>
<text transform="translate(678.5,362.3) rotate(-90)" x="0" y="0" font-size="8.8" fill="#4a0a92" text-anchor="middle" textLength="44.3" lengthAdjust="spacingAndGlyphs">[cm/100yr]</text>
</g>
<g>
<line x1="37.5" y1="431.5" x2="323.5" y2="431.5" stroke="#2c28a6" stroke-width="1" stroke-dasharray="3.2,1.3"/>
<line x1="37.5" y1="466.5" x2="323.5" y2="466.5" stroke="#3d9382" stroke-width="1" stroke-dasharray="3.2,1.3"/>
<line x1="37.5" y1="525" x2="323.5" y2="525" stroke="#6e6e6e" stroke-width="1.8" stroke-dasharray="2.9,1.6"/>
<line x1="37.5" y1="557.5" x2="323.5" y2="557.5" stroke="#9677cc" stroke-width="1" stroke-dasharray="3.2,1.3"/>
<polyline fill="none" stroke="#2c28a6" stroke-width="1.05" stroke-linejoin="round" points="37,457.2 38.64,457.49 40.98,457.93 43.68,458.33 46.4,458.5 48.62,458.41 51,458.17 53.43,457.85 55.77,457.51 57.9,457.2 60.22,456.89 62.31,456.59 64.27,456.25 66.2,455.8 68.71,455.07 71.1,454.19 73.5,453 75.3,451.8 77.08,450.37 78.9,448.87 80.8,447.4 82.41,446.28 84.09,445.17 85.79,444.06 87.51,442.94 89.2,441.8 90.9,440.63 92.62,439.45 94.33,438.25 95.97,437.07 97.5,435.9 99.22,434.45 100.78,432.99 102.27,431.59 103.8,430.3 105.9,428.74 108.01,427.34 110.1,426.1 112.17,425.03 114.23,424.12 116.3,423.4 118.39,422.84 120.5,422.48 122.6,422.4 124.66,422.68 126.73,423.25 128.9,424 131.26,425.03 133.73,426.24 136.2,427.2 138.6,427.76 140.99,428.07 143.5,428.2 145.45,428.13 147.45,427.93 149.55,427.7 151.8,427.6 153.79,427.64 155.95,427.73 158.15,427.87 160.31,428.04 162.3,428.2 164.5,428.42 166.52,428.67 168.5,428.93 170.6,429.2 172.9,429.49 175.29,429.81 177.69,430.1 180,430.3 182.17,430.33 184.27,430.24 186.33,430.18 188.4,430.3 190.33,430.58 192.16,430.96 194.18,431.54 196.7,432.4 198.44,433.07 200.35,433.87 202.41,434.77 204.57,435.72 206.79,436.7 209.05,437.67 211.3,438.6 213.32,439.41 215.43,440.25 217.59,441.1 219.78,441.96 221.95,442.78 224.07,443.56 226.1,444.27 228,444.9 230.33,445.61 232.47,446.2 234.51,446.71 236.48,447.13 238.46,447.49 240.5,447.8 242.6,448.02 244.7,448.11 246.8,448.15 248.9,448.17 251,448.24 253.1,448.4 255.26,448.73 257.5,449.2 259.74,449.71 261.9,450.16 263.88,450.46 265.6,450.5 268.12,449.76 269.96,448.4 271.9,447 273.51,445.96 275.1,444.81 276.92,443.81 279.2,443.2 281.15,443.09 283.43,443.17 285.88,443.38 288.35,443.68 290.67,444 292.7,444.3 295.16,444.89 297.23,445.64 299.13,446.25 301.1,446.4 303.21,445.86 305.32,444.84 307.4,443.7 309.4,442.8 311.94,441.97 314.38,441.36 316.7,441.1 319.11,441.42 321.4,442.09 323,442.6"/>
<polyline fill="none" stroke="#3d9382" stroke-width="1.05" stroke-linejoin="round" points="37,498.6 38.41,498.51 40.41,498.38 42.73,498.22 45.15,498.06 47.4,497.9 49.56,497.78 51.8,497.7 54,497.59 56.07,497.41 57.9,497.1 60.2,496.34 62.03,495.33 64.1,494 65.67,492.98 67.4,491.78 69.19,490.5 70.92,489.24 72.5,488.1 74.68,486.51 76.63,485.07 78.8,483.5 80.33,482.38 81.97,481.14 83.68,479.89 85.4,478.71 87.1,477.7 89.24,476.67 91.43,475.8 93.55,475.08 95.5,474.5 97.65,474.08 99.55,473.91 101.7,473.5 103.65,472.86 105.77,472.06 107.96,471.2 110.1,470.4 112.13,469.67 114.12,468.95 116.17,468.28 118.4,467.7 120.39,467.3 122.55,466.94 124.75,466.63 126.91,466.38 128.9,466.2 131.15,466.12 133.25,466.17 135.25,466.24 137.2,466.2 139.63,465.82 141.95,465.31 144.5,465.1 146.63,465.31 148.88,465.74 151.28,466.23 153.9,466.6 155.79,466.73 157.8,466.81 159.89,466.86 162.04,466.92 164.22,467.02 166.4,467.2 168.62,467.46 170.89,467.79 173.2,468.16 175.51,468.54 177.78,468.93 180,469.3 182.17,469.63 184.32,469.94 186.44,470.24 188.52,470.57 190.55,470.95 192.5,471.4 194.66,472.05 196.65,472.79 198.6,473.59 200.67,474.41 203,475.2 204.87,475.77 206.87,476.38 208.97,477 211.13,477.61 213.31,478.17 215.48,478.68 217.6,479.1 219.65,479.42 221.65,479.66 223.64,479.83 225.65,479.97 227.72,480.1 229.89,480.23 232.2,480.4 234.16,480.56 236.3,480.74 238.54,480.93 240.84,481.13 243.13,481.31 245.36,481.48 247.45,481.62 249.35,481.73 251,481.8 253.71,481.86 255.54,481.81 257.17,481.6 259.3,481.2 261.13,480.76 263.11,480.16 265.21,479.48 267.39,478.8 269.63,478.18 271.9,477.7 273.88,477.41 275.93,477.2 278.02,477.03 280.14,476.91 282.27,476.81 284.4,476.71 286.5,476.6 288.59,476.49 290.67,476.4 292.76,476.32 294.84,476.24 296.93,476.17 299.01,476.09 301.1,476 303.25,475.89 305.48,475.76 307.74,475.63 309.95,475.5 312.06,475.38 314,475.27 315.7,475.2 318.94,475.14 321.38,475.17 323,475.2"/>
<polyline fill="none" stroke="#111111" stroke-width="1.1" stroke-linejoin="round" points="37,518.8 38.24,518.8 39.84,518.79 41.73,518.77 43.86,518.76 46.14,518.75 48.54,518.74 50.97,518.74 53.39,518.75 55.72,518.77 57.9,518.8 60.02,518.85 62.2,518.92 64.41,518.99 66.63,519.08 68.83,519.17 70.99,519.27 73.1,519.36 75.11,519.45 77.02,519.53 78.8,519.6 81.51,519.69 83.98,519.77 86.23,519.83 88.3,519.89 90.21,519.94 92,520 95.07,520.1 97.51,520.18 99.6,520.3 102.02,520.54 104,520.9 106.03,521.45 108,522.1 109.96,522.78 112,523.5 114.27,524.23 116.7,525 119.15,525.86 122,526.8 123.83,527.34 125.9,527.93 127.99,528.5 129.9,529 132.04,529.5 133.99,529.91 136,530.3 138.17,530.72 140.4,531.13 142.7,531.5 144.9,531.75 147.17,531.96 150,532.3 151.81,532.56 153.88,532.88 156.09,533.22 158.31,533.59 160.42,533.95 162.3,534.3 164.63,534.83 166.63,535.37 168.54,535.88 170.6,536.3 172.75,536.64 174.91,536.91 177.26,537.11 180,537.2 181.79,537.2 183.73,537.16 185.78,537.1 187.92,537 190.12,536.88 192.36,536.75 194.6,536.6 196.56,536.45 198.53,536.28 200.52,536.08 202.56,535.88 204.64,535.67 206.78,535.46 209,535.27 211.3,535.1 213.22,534.98 215.21,534.87 217.26,534.77 219.36,534.67 221.49,534.58 223.64,534.48 225.8,534.39 227.95,534.3 230.09,534.2 232.2,534.1 234.29,533.99 236.38,533.88 238.47,533.76 240.56,533.64 242.66,533.53 244.75,533.41 246.84,533.3 248.93,533.19 251.01,533.09 253.1,533 255.18,532.92 257.26,532.84 259.34,532.78 261.42,532.71 263.5,532.66 265.58,532.6 267.66,532.55 269.74,532.5 271.82,532.45 273.9,532.4 275.95,532.35 277.96,532.31 279.93,532.27 281.9,532.24 283.89,532.2 285.91,532.16 287.99,532.13 290.15,532.09 292.41,532.05 294.8,532 296.66,531.96 298.69,531.92 300.87,531.87 303.15,531.83 305.49,531.78 307.85,531.73 310.21,531.67 312.5,531.63 314.71,531.58 316.79,531.53 318.69,531.49 320.39,531.46 321.84,531.42 323,531.4"/>
<polyline fill="none" stroke="#4a0a92" stroke-width="1.25" stroke-linejoin="round" points="37,558.66 37.45,558.02 37.9,557.42 38.35,556.41 38.8,557.14 39.25,559.27 39.7,559.53 40.15,557.72 40.6,556.97 41.05,556.49 41.5,555.68 41.95,559.01 42.4,558.38 42.85,557.49 43.3,556.45 43.75,555.47 44.2,557.94 44.65,557.84 45.1,555.64 45.55,557.38 46,555.32 46.45,556.9 46.9,555.37 47.35,555.65 47.8,556.81 48.25,557.02 48.7,557.77 49.15,555.74 49.6,558.13 50.05,558.45 50.5,556.9 50.95,557.08 51.4,555.64 51.85,556.03 52.3,554.72 52.75,556.09 53.2,556.56 53.65,558.05 54.1,557.95 54.55,557.77 55,556.31 55.45,556.11 55.9,555.97 56.35,556.82 56.8,554.62 57.25,557.48 57.7,555.56 58.15,556.51 58.6,557.56 59.05,557.35 59.5,560.08 59.95,558.81 60.4,560.67 60.85,560.83 61.3,559.03 61.75,559.83 62.2,561.27 62.65,559.84 63.1,560.16 63.55,559.63 64,560.41 64.45,560.28 64.9,560.94 65.35,562.37 65.8,563.37 66.25,562.24 66.7,561.92 67.15,562.57 67.6,561.3 68.05,560 68.5,562.23 68.95,560.27 69.4,561.97 69.85,560.06 70.3,562.88 70.75,560.08 71.2,561.59 71.65,562.7 72.1,559.97 72.55,562.16 73,559.88 73.45,558.13 73.9,560.62 74.35,561.16 74.8,560.15 75.25,557.06 75.7,559.19 76.15,559.37 76.6,559.27 77.05,559.29 77.5,557.44 77.95,558.39 78.4,561.41 78.85,561.82 79.3,559.65 79.75,558.68 80.2,559.77 80.65,560.84 81.1,560.7 81.55,558.4 82,559.42 82.45,559.65 82.9,561.26 83.35,561.38 83.8,560.6 84.25,561.23 84.7,559.46 85.15,561.34 85.6,559.45 86.05,559.96 86.5,560.72 86.95,558.71 87.4,558.46 87.85,557.13 88.3,559.11 88.75,559.34 89.2,559.07 89.65,559.82 90.1,556.75 90.55,558.36 91,558.77 91.45,558.33 91.9,559.36 92.35,560.64 92.8,558.2 93.25,556.87 93.7,556.81 94.15,557.51 94.6,558.15 95.05,556.45 95.5,558.13 95.95,556 96.4,557.56 96.85,557.34 97.3,557.21 97.75,559.48 98.2,557.64 98.65,557.72 99.1,558.93 99.55,560.11 100,558.18 100.45,560.05 100.9,559.72 101.35,561.7 101.8,563.53 102.25,562.93 102.7,563.1 103.15,563.99 103.6,560.96 104.05,565.18 104.5,566.49 104.95,566.84 105.4,566.77 105.85,566.85 106.3,568.01 106.75,570.45 107.2,569.96 107.65,572.06 108.1,568.37 108.55,570.46 109,572.34 109.45,572.95 109.9,571.6 110.35,572.94 110.8,576.06 111.25,574.27 111.7,574.66 112.15,575.11 112.6,576.36 113.05,578.59 113.5,579.1 113.95,575.97 114.4,579.33 114.85,577.66 115.3,577.2 115.75,579.75 116.2,578.24 116.65,576.43 117.1,576.65 117.55,576.55 118,576.14 118.45,576.81 118.9,578.38 119.35,578.09 119.8,575.9 120.25,580.3 120.7,576.73 121.15,576.93 121.6,576.66 122.05,577.27 122.5,575.9 122.95,576.29 123.4,578.16 123.85,576 124.3,573.84 124.75,574.79 125.2,573.46 125.65,573.43 126.1,573.89 126.55,573.97 127,573.04 127.45,573.96 127.9,572.73 128.35,570.88 128.8,572.82 129.25,571.42 129.7,572.55 130.15,570.19 130.6,570.68 131.05,570.09 131.5,565.93 131.95,565.94 132.4,565.99 132.85,568.64 133.3,564.95 133.75,566.99 134.2,567.32 134.65,566.29 135.1,565.85 135.55,564.38 136,564.52 136.45,564.78 136.9,565.01 137.35,565.34 137.8,564.26 138.25,563.33 138.7,563.19 139.15,564.26 139.6,561.97 140.05,561.82 140.5,562.73 140.95,562.72 141.4,562.99 141.85,560.12 142.3,562.12 142.75,562.66 143.2,563.96 143.65,560.91 144.1,562.09 144.55,563.25 145,563.49 145.45,564.33 145.9,564.42 146.35,561.98 146.8,563.45 147.25,562.7 147.7,562.01 148.15,564.7 148.6,562.82 149.05,562.14 149.5,562.56 149.95,562.19 150.4,564.38 150.85,564.23 151.3,565.47 151.75,564.65 152.2,563.52 152.65,565.52 153.1,564.25 153.55,564.43 154,565.11 154.45,565.79 154.9,567.63 155.35,566.19 155.8,567.26 156.25,567.34 156.7,566.16 157.15,566.55 157.6,568.58 158.05,570.61 158.5,571.79 158.95,573.04 159.4,573.61 159.85,573.92 160.3,575.44 160.75,573.26 161.2,571.79 161.65,572.13 162.1,570.38 162.55,570.53 163,569.78 163.45,569.31 163.9,569.3 164.35,567.87 164.8,567.46 165.25,565.29 165.7,566.47 166.15,565.02 166.6,565.8 167.05,561.79 167.5,562.89 167.95,564.09 168.4,560.82 168.85,562.17 169.3,562.72 169.75,562.53 170.2,560.22 170.65,561.38 171.1,561.24 171.55,559.51 172,560.81 172.45,559.84 172.9,559.54 173.35,558.93 173.8,559.97 174.25,559.66 174.7,560.82 175.15,560.27 175.6,558.82 176.05,558.92 176.5,560.3 176.95,559.08 177.4,559.66 177.85,559.95 178.3,559.16 178.75,556.35 179.2,558.6 179.65,559.24 180.1,559.27 180.55,558.09 181,560.09 181.45,558.89 181.9,557.91 182.35,557.47 182.8,558.57 183.25,557.01 183.7,556.65 184.15,560.1 184.6,560.04 185.05,559.63 185.5,559.82 185.95,558.86 186.4,555.77 186.85,558.4 187.3,559.03 187.75,558.19 188.2,554.94 188.65,557.84 189.1,558.5 189.55,556.23 190,556.23 190.45,556.82 190.9,555.74 191.35,556.71 191.8,555.53 192.25,555.78 192.7,554.92 193.15,552.63 193.6,552.45 194.05,557.25 194.5,554.77 194.95,555.21 195.4,554.92 195.85,555.48 196.3,554.37 196.75,552.79 197.2,553.23 197.65,551.08 198.1,552.73 198.55,554.56 199,551.39 199.45,553.55 199.9,554.94 200.35,555.99 200.8,553.61 201.25,553.37 201.7,551.84 202.15,552.52 202.6,554.6 203.05,557 203.5,553.72 203.95,555.99 204.4,555.42 204.85,554.19 205.3,557.16 205.75,552.21 206.2,553.97 206.65,554.78 207.1,557.33 207.55,557.58 208,558.23 208.45,555.84 208.9,556.29 209.35,556.89 209.8,556.03 210.25,555.65 210.7,554.92 211.15,554.48 211.6,553.31 212.05,556.78 212.5,554.65 212.95,552.05 213.4,554.16 213.85,554.24 214.3,554.43 214.75,556.39 215.2,554.46 215.65,553.7 216.1,552.84 216.55,553.42 217,552.97 217.45,553.56 217.9,557.17 218.35,554.67 218.8,552.44 219.25,555.19 219.7,554.49 220.15,554.4 220.6,554.34 221.05,554.54 221.5,554.5 221.95,555.47 222.4,555.31 222.85,555.77 223.3,553.72 223.75,553.9 224.2,553.15 224.65,555.09 225.1,555.51 225.55,554.12 226,555.14 226.45,557.96 226.9,557.07 227.35,554.06 227.8,554.64 228.25,555.67 228.7,555.04 229.15,555.36 229.6,556.36 230.05,555.54 230.5,553.55 230.95,555.22 231.4,554.61 231.85,554.67 232.3,553.81 232.75,552.57 233.2,552.38 233.65,553.38 234.1,552.71 234.55,550.5 235,554.61 235.45,552.78 235.9,552.82 236.35,554.31 236.8,551.06 237.25,554.78 237.7,553.09 238.15,554.37 238.6,553.3 239.05,554.14 239.5,554.22 239.95,554.22 240.4,552.11 240.85,552.12 241.3,553.97 241.75,556.32 242.2,554.63 242.65,555.63 243.1,555.54 243.55,556.02 244,556.87 244.45,554.15 244.9,555.75 245.35,555.7 245.8,555.64 246.25,555.07 246.7,555.12 247.15,554.76 247.6,554.49 248.05,558.75 248.5,558.75 248.95,556.62 249.4,556.9 249.85,554.8 250.3,552 250.75,552.4 251.2,554.81 251.65,556.92 252.1,555.57 252.55,553.99 253,554.45 253.45,553.71 253.9,553.12 254.35,554.45 254.8,554.64 255.25,554.25 255.7,554.13 256.15,554.11 256.6,555.59 257.05,557.44 257.5,556.01 257.95,558.7 258.4,554.74 258.85,556.12 259.3,554.79 259.75,555.73 260.2,556.35 260.65,557.13 261.1,558.08 261.55,556.34 262,555.13 262.45,556.17 262.9,557.09 263.35,556.17 263.8,557.7 264.25,558.79 264.7,555.06 265.15,556.09 265.6,556.93 266.05,553.34 266.5,554.82 266.95,554.44 267.4,552.67 267.85,555.48 268.3,554.97 268.75,554.07 269.2,555.03 269.65,555.58 270.1,555.94 270.55,555.87 271,555.71 271.45,553.81 271.9,554.32 272.35,555.19 272.8,551.95 273.25,557.17 273.7,555.49 274.15,554.31 274.6,553.15 275.05,555.45 275.5,555.83 275.95,555.24 276.4,555.37 276.85,554.89 277.3,555.01 277.75,555.9 278.2,555.5 278.65,556.95 279.1,556.28 279.55,556.42 280,556.75 280.45,557.86 280.9,557.29 281.35,556.66 281.8,555.99 282.25,555.01 282.7,555.3 283.15,556.58 283.6,556.32 284.05,555.47 284.5,554.08 284.95,553.45 285.4,555.52 285.85,556.87 286.3,556.38 286.75,554.09 287.2,554.9 287.65,555.6 288.1,554.36 288.55,555.55 289,555.34 289.45,554.65 289.9,554.11 290.35,556.6 290.8,556.79 291.25,555.45 291.7,555.09 292.15,557.44 292.6,557.8 293.05,556.92 293.5,559.13 293.95,557.52 294.4,556.31 294.85,558.75 295.3,557.93 295.75,558.5 296.2,558.39 296.65,557.22 297.1,556.69 297.55,557.59 298,559.64 298.45,557.09 298.9,559.21 299.35,558.23 299.8,556.23 300.25,557.29 300.7,557.79 301.15,556.01 301.6,553.94 302.05,556.33 302.5,555.01 302.95,556.45 303.4,553.82 303.85,555.19 304.3,554.6 304.75,553.51 305.2,554.62 305.65,555.26 306.1,554.39 306.55,553.28 307,554.55 307.45,552.35 307.9,554.43 308.35,554.76 308.8,556.14 309.25,555.39 309.7,554.64 310.15,554.48 310.6,554.27 311.05,552.68 311.5,555.79 311.95,555.54 312.4,554.6 312.85,553.43 313.3,556.45 313.75,556.16 314.2,554.11 314.65,555.97 315.1,558.03 315.55,556.33 316,556.48 316.45,555.58 316.9,555.15 317.35,557.16 317.8,560.16 318.25,557.36 318.7,556.43 319.15,557.36 319.6,556.32 320.05,557.37 320.5,557.81 320.95,555.73 321.4,555.2 321.85,556.34 322.3,557.78 322.75,557.52"/>
<line x1="47" y1="511.1" x2="47" y2="518.8" stroke="#0c00f5" stroke-width="0.7" stroke-opacity="0.42"/>
<line x1="106.9" y1="536.6" x2="106.9" y2="521.77" stroke="#907377" stroke-width="0.7" stroke-opacity="0.42"/>
<line x1="109" y1="537.2" x2="109" y2="522.45" stroke="#966c70" stroke-width="0.7" stroke-opacity="0.42"/>
<line x1="112.2" y1="538.7" x2="112.2" y2="523.56" stroke="#ac5459" stroke-width="0.7" stroke-opacity="0.42"/>
<line x1="116.3" y1="538.7" x2="116.3" y2="524.87" stroke="#b9494e" stroke-width="0.7" stroke-opacity="0.42"/>
<line x1="121.6" y1="540.1" x2="121.6" y2="526.66" stroke="#eb221e" stroke-width="0.7" stroke-opacity="0.42"/>
<line x1="132.6" y1="540.8" x2="132.6" y2="529.58" stroke="#d93030" stroke-width="0.7" stroke-opacity="0.42"/>
<line x1="136.2" y1="538.7" x2="136.2" y2="530.34" stroke="#b34f53" stroke-width="0.7" stroke-opacity="0.42"/>
<line x1="143.5" y1="539.3" x2="143.5" y2="531.59" stroke="#966c70" stroke-width="0.7" stroke-opacity="0.42"/>
<line x1="223.2" y1="523.6" x2="223.2" y2="534.53" stroke="#0c00f5" stroke-width="0.7" stroke-opacity="0.42"/>
<line x1="228.4" y1="522.6" x2="228.4" y2="534.28" stroke="#0c00f5" stroke-width="0.7" stroke-opacity="0.42"/>
<line x1="234.9" y1="524.1" x2="234.9" y2="533.96" stroke="#0c00f5" stroke-width="0.7" stroke-opacity="0.42"/>
<line x1="244.1" y1="521.5" x2="244.1" y2="533.47" stroke="#0c00f5" stroke-width="0.7" stroke-opacity="0.42"/>
<line x1="261" y1="523.6" x2="261" y2="532.77" stroke="#0c00f5" stroke-width="0.7" stroke-opacity="0.42"/>
<circle cx="47" cy="511.1" r="2.05" fill="#0c00f5"/>
<circle cx="74.6" cy="516.7" r="2.05" fill="#0c00f5"/>
<circle cx="76.6" cy="517.4" r="2.05" fill="#0c00f5"/>
<circle cx="78.6" cy="518" r="2.05" fill="#0c00f5"/>
<circle cx="80.6" cy="518.4" r="2.05" fill="#0c00f5"/>
<circle cx="82.6" cy="518.8" r="2.05" fill="#1204f7"/>
<circle cx="84.6" cy="519" r="2.05" fill="#1204f7"/>
<circle cx="86.6" cy="519.2" r="2.05" fill="#1809f9"/>
<circle cx="88.6" cy="519.5" r="2.05" fill="#1809f9"/>
<circle cx="90.6" cy="519.7" r="2.05" fill="#1e0dfb"/>
<circle cx="92.6" cy="519.9" r="2.05" fill="#1e0dfb"/>
<circle cx="94.6" cy="520.1" r="2.05" fill="#2412fd"/>
<circle cx="96.6" cy="520.3" r="2.05" fill="#2a16ff"/>
<circle cx="98.6" cy="520.4" r="2.05" fill="#2e1cf7"/>
<circle cx="100.6" cy="520.6" r="2.05" fill="#3628e7"/>
<circle cx="102.8" cy="521.2" r="2.05" fill="#4d46c5"/>
<circle cx="106.9" cy="536.6" r="2.05" fill="#907377"/>
<circle cx="109" cy="537.2" r="2.05" fill="#966c70"/>
<circle cx="112.2" cy="538.7" r="2.05" fill="#ac5459"/>
<circle cx="116.3" cy="538.7" r="2.05" fill="#b9494e"/>
<circle cx="121.6" cy="540.1" r="2.05" fill="#eb221e"/>
<circle cx="132.6" cy="540.8" r="2.05" fill="#d93030"/>
<circle cx="136.2" cy="538.7" r="2.05" fill="#b34f53"/>
<circle cx="143.5" cy="539.3" r="2.05" fill="#966c70"/>
<circle cx="177.9" cy="537.6" r="2.05" fill="#8b7a7c"/>
<circle cx="195" cy="536.6" r="2.05" fill="#7f7a8a"/>
<circle cx="200.9" cy="533.4" r="2.05" fill="#4d46c5"/>
<circle cx="205.1" cy="532" r="2.05" fill="#463dce"/>
<circle cx="209.2" cy="532.8" r="2.05" fill="#463dce"/>
<circle cx="213.4" cy="530.9" r="2.05" fill="#3222ef"/>
<circle cx="218" cy="530.7" r="2.05" fill="#2412fd"/>
<circle cx="223.2" cy="523.6" r="2.05" fill="#0c00f5"/>
<circle cx="228.4" cy="522.6" r="2.05" fill="#0c00f5"/>
<circle cx="234.9" cy="524.1" r="2.05" fill="#0c00f5"/>
<circle cx="244.1" cy="521.5" r="2.05" fill="#0c00f5"/>
<circle cx="261" cy="523.6" r="2.05" fill="#0c00f5"/>
<line x1="37.5" y1="417.5" x2="37.5" y2="460.3" stroke="#7470c8" stroke-width="1"/>
<line x1="37.5" y1="460.3" x2="37.5" y2="503.5" stroke="#77b5a8" stroke-width="1"/>
<line x1="37.5" y1="503.5" x2="37.5" y2="546.8" stroke="#656565" stroke-width="1"/>
<line x1="37.5" y1="546.8" x2="37.5" y2="589.5" stroke="#9a7ccf" stroke-width="1"/>
<line x1="323.5" y1="417.5" x2="323.5" y2="460.3" stroke="#7470c8" stroke-width="1"/>
<line x1="323.5" y1="460.3" x2="323.5" y2="503.5" stroke="#77b5a8" stroke-width="1"/>
<line x1="323.5" y1="503.5" x2="323.5" y2="546.8" stroke="#656565" stroke-width="1"/>
<line x1="323.5" y1="546.8" x2="323.5" y2="589.5" stroke="#9a7ccf" stroke-width="1"/>
<line x1="37" y1="417.5" x2="324" y2="417.5" stroke="#656565" stroke-width="1"/>
<line x1="37" y1="589.5" x2="324" y2="589.5" stroke="#656565" stroke-width="1"/>
<line x1="34.9" y1="417.3" x2="37.5" y2="417.3" stroke="#7470c8" stroke-width="0.9"/><line x1="323.5" y1="417.3" x2="326.1" y2="417.3" stroke="#7470c8" stroke-width="0.9"/><line x1="34.9" y1="424.4" x2="37.5" y2="424.4" stroke="#7470c8" stroke-width="0.9"/><line x1="323.5" y1="424.4" x2="326.1" y2="424.4" stroke="#7470c8" stroke-width="0.9"/><line x1="34.9" y1="431.5" x2="37.5" y2="431.5" stroke="#7470c8" stroke-width="0.9"/><line x1="323.5" y1="431.5" x2="326.1" y2="431.5" stroke="#7470c8" stroke-width="0.9"/><line x1="34.9" y1="438.6" x2="37.5" y2="438.6" stroke="#7470c8" stroke-width="0.9"/><line x1="323.5" y1="438.6" x2="326.1" y2="438.6" stroke="#7470c8" stroke-width="0.9"/><line x1="34.9" y1="445.7" x2="37.5" y2="445.7" stroke="#7470c8" stroke-width="0.9"/><line x1="323.5" y1="445.7" x2="326.1" y2="445.7" stroke="#7470c8" stroke-width="0.9"/><line x1="34.9" y1="452.8" x2="37.5" y2="452.8" stroke="#7470c8" stroke-width="0.9"/><line x1="323.5" y1="452.8" x2="326.1" y2="452.8" stroke="#7470c8" stroke-width="0.9"/><line x1="34.9" y1="459.9" x2="37.5" y2="459.9" stroke="#7470c8" stroke-width="0.9"/><line x1="323.5" y1="459.9" x2="326.1" y2="459.9" stroke="#7470c8" stroke-width="0.9"/><line x1="34.9" y1="466.2" x2="37.5" y2="466.2" stroke="#77b5a8" stroke-width="0.9"/><line x1="323.5" y1="466.2" x2="326.1" y2="466.2" stroke="#77b5a8" stroke-width="0.9"/><line x1="34.9" y1="472.5" x2="37.5" y2="472.5" stroke="#77b5a8" stroke-width="0.9"/><line x1="323.5" y1="472.5" x2="326.1" y2="472.5" stroke="#77b5a8" stroke-width="0.9"/><line x1="34.9" y1="478.8" x2="37.5" y2="478.8" stroke="#77b5a8" stroke-width="0.9"/><line x1="323.5" y1="478.8" x2="326.1" y2="478.8" stroke="#77b5a8" stroke-width="0.9"/><line x1="34.9" y1="485.1" x2="37.5" y2="485.1" stroke="#77b5a8" stroke-width="0.9"/><line x1="323.5" y1="485.1" x2="326.1" y2="485.1" stroke="#77b5a8" stroke-width="0.9"/><line x1="34.9" y1="491.4" x2="37.5" y2="491.4" stroke="#77b5a8" stroke-width="0.9"/><line x1="323.5" y1="491.4" x2="326.1" y2="491.4" stroke="#77b5a8" stroke-width="0.9"/><line x1="34.9" y1="497.7" x2="37.5" y2="497.7" stroke="#77b5a8" stroke-width="0.9"/><line x1="323.5" y1="497.7" x2="326.1" y2="497.7" stroke="#77b5a8" stroke-width="0.9"/><line x1="34.9" y1="503.4" x2="37.5" y2="503.4" stroke="#656565" stroke-width="0.9"/><line x1="323.5" y1="503.4" x2="326.1" y2="503.4" stroke="#656565" stroke-width="0.9"/><line x1="34.9" y1="514.2" x2="37.5" y2="514.2" stroke="#656565" stroke-width="0.9"/><line x1="323.5" y1="514.2" x2="326.1" y2="514.2" stroke="#656565" stroke-width="0.9"/><line x1="34.9" y1="525" x2="37.5" y2="525" stroke="#656565" stroke-width="0.9"/><line x1="323.5" y1="525" x2="326.1" y2="525" stroke="#656565" stroke-width="0.9"/><line x1="34.9" y1="535.8" x2="37.5" y2="535.8" stroke="#656565" stroke-width="0.9"/><line x1="323.5" y1="535.8" x2="326.1" y2="535.8" stroke="#656565" stroke-width="0.9"/><line x1="34.9" y1="546.6" x2="37.5" y2="546.6" stroke="#656565" stroke-width="0.9"/><line x1="323.5" y1="546.6" x2="326.1" y2="546.6" stroke="#656565" stroke-width="0.9"/><line x1="34.9" y1="549.5" x2="37.5" y2="549.5" stroke="#9a7ccf" stroke-width="0.9"/><line x1="323.5" y1="549.5" x2="326.1" y2="549.5" stroke="#9a7ccf" stroke-width="0.9"/><line x1="34.9" y1="557.5" x2="37.5" y2="557.5" stroke="#9a7ccf" stroke-width="0.9"/><line x1="323.5" y1="557.5" x2="326.1" y2="557.5" stroke="#9a7ccf" stroke-width="0.9"/><line x1="34.9" y1="565.5" x2="37.5" y2="565.5" stroke="#9a7ccf" stroke-width="0.9"/><line x1="323.5" y1="565.5" x2="326.1" y2="565.5" stroke="#9a7ccf" stroke-width="0.9"/><line x1="34.9" y1="573.5" x2="37.5" y2="573.5" stroke="#9a7ccf" stroke-width="0.9"/><line x1="323.5" y1="573.5" x2="326.1" y2="573.5" stroke="#9a7ccf" stroke-width="0.9"/><line x1="34.9" y1="581.5" x2="37.5" y2="581.5" stroke="#9a7ccf" stroke-width="0.9"/><line x1="323.5" y1="581.5" x2="326.1" y2="581.5" stroke="#9a7ccf" stroke-width="0.9"/><line x1="34.9" y1="589.5" x2="37.5" y2="589.5" stroke="#9a7ccf" stroke-width="0.9"/><line x1="323.5" y1="589.5" x2="326.1" y2="589.5" stroke="#9a7ccf" stroke-width="0.9"/><line x1="37.5" y1="589.5" x2="37.5" y2="592.1" stroke="#656565" stroke-width="0.8"/><line x1="109" y1="589.5" x2="109" y2="592.1" stroke="#656565" stroke-width="0.8"/><line x1="180.5" y1="589.5" x2="180.5" y2="592.1" stroke="#656565" stroke-width="0.8"/><line x1="252" y1="589.5" x2="252" y2="592.1" stroke="#656565" stroke-width="0.8"/><line x1="323.5" y1="589.5" x2="323.5" y2="592.1" stroke="#656565" stroke-width="0.8"/><line x1="37.5" y1="414.9" x2="37.5" y2="417.5" stroke="#656565" stroke-width="0.8"/><line x1="73.25" y1="414.9" x2="73.25" y2="417.5" stroke="#656565" stroke-width="0.8"/><line x1="109" y1="414.9" x2="109" y2="417.5" stroke="#656565" stroke-width="0.8"/><line x1="144.75" y1="414.9" x2="144.75" y2="417.5" stroke="#656565" stroke-width="0.8"/><line x1="180.5" y1="414.9" x2="180.5" y2="417.5" stroke="#656565" stroke-width="0.8"/><line x1="216.25" y1="414.9" x2="216.25" y2="417.5" stroke="#656565" stroke-width="0.8"/><line x1="252" y1="414.9" x2="252" y2="417.5" stroke="#656565" stroke-width="0.8"/><line x1="287.75" y1="414.9" x2="287.75" y2="417.5" stroke="#656565" stroke-width="0.8"/><line x1="323.5" y1="414.9" x2="323.5" y2="417.5" stroke="#656565" stroke-width="0.8"/>
<text x="37.5" y="600.1" font-size="8.5" fill="#262626" text-anchor="middle" textLength="15.37" lengthAdjust="spacingAndGlyphs">140</text>
<text x="109" y="600.1" font-size="8.5" fill="#262626" text-anchor="middle" textLength="15.37" lengthAdjust="spacingAndGlyphs">130</text>
<text x="180.5" y="600.1" font-size="8.5" fill="#262626" text-anchor="middle" textLength="15.37" lengthAdjust="spacingAndGlyphs">120</text>
<text x="252" y="600.1" font-size="8.5" fill="#262626" text-anchor="middle" textLength="15.37" lengthAdjust="spacingAndGlyphs">110</text>
<text x="323.5" y="600.1" font-size="8.5" fill="#262626" text-anchor="middle" textLength="15.37" lengthAdjust="spacingAndGlyphs">100</text>
<text x="180.5" y="610.5" font-size="8.7" fill="#262626" text-anchor="middle" textLength="37.76" lengthAdjust="spacingAndGlyphs">Time [ka]</text>
<text x="42.9" y="425.8" font-size="8.4" fill="#111" text-anchor="start" font-weight="bold" textLength="40.57" lengthAdjust="spacingAndGlyphs">(e) MIS 5</text>
<text x="33.1" y="420.3" font-size="8.5" fill="#3a37b0" text-anchor="end" textLength="5.15" lengthAdjust="spacingAndGlyphs">2</text>
<text x="33.1" y="427.4" font-size="8.5" fill="#3a37b0" text-anchor="end" textLength="5.15" lengthAdjust="spacingAndGlyphs">1</text>
<text x="33.1" y="434.5" font-size="8.5" fill="#3a37b0" text-anchor="end" textLength="5.15" lengthAdjust="spacingAndGlyphs">0</text>
<text x="33.1" y="441.6" font-size="8.5" fill="#3a37b0" text-anchor="end" textLength="11.94" lengthAdjust="spacingAndGlyphs">−1</text>
<text x="33.1" y="448.7" font-size="8.5" fill="#3a37b0" text-anchor="end" textLength="11.94" lengthAdjust="spacingAndGlyphs">−2</text>
<text x="33.1" y="455.8" font-size="8.5" fill="#3a37b0" text-anchor="end" textLength="11.94" lengthAdjust="spacingAndGlyphs">−3</text>
<text x="33.1" y="462.9" font-size="8.5" fill="#3a37b0" text-anchor="end" textLength="11.94" lengthAdjust="spacingAndGlyphs">−4</text>
<text x="33.1" y="506.4" font-size="8.5" fill="#262626" text-anchor="end" textLength="10.31" lengthAdjust="spacingAndGlyphs">10</text>
<text x="33.1" y="517.2" font-size="8.5" fill="#262626" text-anchor="end" textLength="5.15" lengthAdjust="spacingAndGlyphs">5</text>
<text x="33.1" y="528" font-size="8.5" fill="#262626" text-anchor="end" textLength="5.15" lengthAdjust="spacingAndGlyphs">0</text>
<text x="33.1" y="538.8" font-size="8.5" fill="#262626" text-anchor="end" textLength="8.08" lengthAdjust="spacingAndGlyphs">-5</text>
<text x="33.1" y="549.6" font-size="8.5" fill="#262626" text-anchor="end" textLength="13.23" lengthAdjust="spacingAndGlyphs">-10</text>
<text transform="translate(7.8,438.9) rotate(-90)" x="0" y="0" font-size="8.8" fill="#3a37b0" text-anchor="middle" textLength="47.4" lengthAdjust="spacingAndGlyphs"><tspan font-style="italic">T</tspan><tspan font-size="6.2" font-style="italic" dy="1.6">O</tspan><tspan dy="-1.6"> anomaly</tspan></text>
<text transform="translate(17.2,438.1) rotate(-90)" x="0" y="0" font-size="8.8" fill="#3a37b0" text-anchor="middle" textLength="26.3" lengthAdjust="spacingAndGlyphs">[degC]</text>
<text transform="translate(7.4,526.4) rotate(-90)" x="0" y="0" font-size="8.8" fill="#262626" text-anchor="middle" textLength="83.1" lengthAdjust="spacingAndGlyphs">Sea-level equivalent</text>
<text transform="translate(16.2,524.2) rotate(-90)" x="0" y="0" font-size="8.8" fill="#262626" text-anchor="middle" textLength="60.8" lengthAdjust="spacingAndGlyphs">ice volume [m]</text>
</g>
<g>
<line x1="352.5" y1="431.5" x2="638.5" y2="431.5" stroke="#2c28a6" stroke-width="1" stroke-dasharray="3.2,1.3"/>
<line x1="352.5" y1="466.5" x2="638.5" y2="466.5" stroke="#3d9382" stroke-width="1" stroke-dasharray="3.2,1.3"/>
<line x1="352.5" y1="525" x2="638.5" y2="525" stroke="#6e6e6e" stroke-width="1.8" stroke-dasharray="2.9,1.6"/>
<line x1="352.5" y1="557.5" x2="638.5" y2="557.5" stroke="#9677cc" stroke-width="1" stroke-dasharray="3.2,1.3"/>
<polyline fill="none" stroke="#2c28a6" stroke-width="1.05" stroke-linejoin="round" points="352,457.4 353.54,457.09 355.74,456.63 358.18,456.16 360.4,455.8 362.99,455.48 365.46,455.28 367.7,455.3 370.37,456.04 372.9,456.8 374.89,456.71 376.99,456.42 379.1,456.4 380.96,456.96 382.84,457.79 385.4,458.5 387.12,458.74 389.1,458.96 391.26,459.14 393.5,459.3 395.74,459.42 397.9,459.5 400.04,459.56 402.25,459.59 404.46,459.58 406.61,459.54 408.65,459.45 410.5,459.3 412.88,458.88 414.91,458.28 416.82,457.72 418.8,457.4 420.8,457.44 422.74,457.72 424.81,458.06 427.2,458.3 429.05,458.38 431.06,458.45 433.19,458.5 435.38,458.53 437.57,458.53 439.7,458.5 441.81,458.44 443.94,458.34 446.08,458.23 448.19,458.09 450.24,457.94 452.2,457.8 454.43,457.62 456.56,457.42 458.61,457.21 460.62,457 462.6,456.8 465.07,456.6 467.49,456.44 469.82,456.2 472,455.8 474.55,454.97 476.86,453.9 479.3,452.6 481.35,451.4 483.5,450.02 485.65,448.63 487.7,447.4 489.58,446.43 491.35,445.6 493.12,444.8 495,443.9 497.02,442.75 499.14,441.44 501.28,440.27 503.4,439.5 505.46,439.33 507.49,439.56 509.55,439.92 511.7,440.1 514.07,440.1 516.59,440.04 519.02,439.86 521.1,439.5 523.1,438.68 524.64,437.57 526.3,436.3 528.32,434.75 530.47,433.05 532.6,431.7 534.56,430.97 536.5,430.59 538.8,430.3 540.93,430.06 543.3,429.85 545.77,429.72 548.2,429.7 550.57,429.83 552.96,430.08 555.32,430.39 557.6,430.7 559.77,431.03 561.87,431.41 563.93,431.76 566,432 567.98,432.12 569.89,432.16 571.92,432.12 574.3,432 576.13,431.85 578.11,431.63 580.21,431.38 582.39,431.11 584.63,430.88 586.9,430.7 588.88,430.59 590.93,430.5 593.02,430.42 595.14,430.37 597.27,430.33 599.4,430.31 601.5,430.3 603.52,430.31 605.46,430.34 607.37,430.38 609.33,430.44 611.4,430.52 613.63,430.6 616.1,430.7 618.09,430.78 620.36,430.88 622.82,430.99 625.39,431.1 627.96,431.22 630.47,431.34 632.81,431.45 634.9,431.55 636.66,431.64 638,431.7"/>
<polyline fill="none" stroke="#3d9382" stroke-width="1.05" stroke-linejoin="round" points="352,493.3 353.41,493.45 355.41,493.67 357.73,493.91 360.15,494.17 362.4,494.4 364.33,494.61 366.09,494.83 367.95,495.03 370.13,495.23 372.9,495.4 374.57,495.47 376.42,495.53 378.41,495.58 380.52,495.63 382.71,495.67 384.95,495.71 387.21,495.77 389.46,495.83 391.67,495.91 393.8,496 395.88,496.11 397.96,496.24 400.04,496.38 402.12,496.53 404.2,496.68 406.28,496.84 408.36,497.01 410.44,497.17 412.52,497.34 414.6,497.5 416.69,497.66 418.77,497.83 420.86,498 422.95,498.18 425.04,498.36 427.14,498.53 429.23,498.71 431.32,498.88 433.41,499.04 435.5,499.2 437.61,499.36 439.75,499.51 441.9,499.66 444.06,499.82 446.21,499.96 448.34,500.1 450.44,500.24 452.49,500.37 454.48,500.49 456.4,500.6 458.72,500.73 460.97,500.86 463.15,500.98 465.27,501.08 467.33,501.17 469.32,501.24 471.24,501.28 473.1,501.3 475.46,501.27 477.69,501.2 479.81,501.08 481.82,500.94 483.74,500.77 485.6,500.6 488.14,500.35 490.43,500.07 492.65,499.71 495,499.2 497.01,498.67 499.08,498.04 501.18,497.34 503.3,496.59 505.4,495.8 507.5,494.95 509.6,494.02 511.7,493.06 513.8,492.11 515.9,491.2 517.98,490.37 520.06,489.58 522.14,488.8 524.22,487.99 526.3,487.1 528.43,486.1 530.6,485.01 532.75,483.89 534.84,482.8 536.8,481.8 539.03,480.67 541.08,479.62 543.07,478.63 545.1,477.7 547.15,476.83 549.17,476.04 551.26,475.27 553.5,474.5 555.45,473.85 557.52,473.17 559.64,472.51 561.79,471.91 563.9,471.4 565.91,471.02 567.86,470.73 569.84,470.5 571.95,470.27 574.3,470 576.15,469.77 578.1,469.54 580.15,469.29 582.28,469.04 584.45,468.79 586.67,468.55 588.9,468.3 590.9,468.08 592.97,467.84 595.1,467.61 597.24,467.37 599.39,467.14 601.52,466.93 603.59,466.75 605.6,466.6 607.78,466.47 609.86,466.38 611.88,466.32 613.9,466.28 615.94,466.25 618.06,466.22 620.3,466.2 622.49,466.18 624.93,466.17 627.5,466.17 630.07,466.18 632.53,466.18 634.75,466.19 636.61,466.2 638,466.2"/>
<polyline fill="none" stroke="#111111" stroke-width="1.1" stroke-linejoin="round" points="352,520.3 353.24,520.25 354.84,520.18 356.73,520.1 358.86,520.01 361.14,519.91 363.54,519.82 365.97,519.72 368.39,519.63 370.72,519.56 372.9,519.5 374.99,519.45 377.08,519.42 379.17,519.39 381.26,519.37 383.36,519.35 385.45,519.34 387.54,519.33 389.63,519.32 391.71,519.31 393.8,519.3 395.88,519.29 397.96,519.29 400.04,519.29 402.12,519.29 404.2,519.29 406.28,519.29 408.36,519.29 410.44,519.3 412.52,519.3 414.6,519.3 416.69,519.3 418.77,519.32 420.86,519.33 422.95,519.35 425.04,519.37 427.14,519.38 429.23,519.38 431.32,519.37 433.41,519.34 435.5,519.3 437.59,519.24 439.68,519.16 441.77,519.06 443.86,518.96 445.95,518.84 448.04,518.72 450.13,518.59 452.22,518.46 454.31,518.33 456.4,518.2 458.5,518.06 460.63,517.91 462.77,517.74 464.91,517.58 467.05,517.41 469.17,517.24 471.27,517.08 473.32,516.94 475.34,516.81 477.3,516.7 479.67,516.6 481.97,516.52 484.22,516.46 486.41,516.42 488.58,516.39 490.72,516.36 492.86,516.33 495,516.3 497.15,516.26 499.29,516.22 501.43,516.18 503.54,516.14 505.64,516.11 507.7,516.09 509.72,516.09 511.7,516.1 513.93,516.14 516.14,516.19 518.32,516.25 520.44,516.34 522.49,516.44 524.45,516.56 526.3,516.7 528.63,516.93 530.7,517.2 532.65,517.5 534.64,517.83 536.8,518.2 538.77,518.54 540.82,518.92 542.92,519.33 545.06,519.73 547.19,520.13 549.3,520.5 551.33,520.85 553.31,521.2 555.29,521.53 557.32,521.85 559.47,522.14 561.8,522.4 563.66,522.57 565.58,522.72 567.57,522.85 569.62,522.98 571.75,523.09 573.93,523.19 576.18,523.3 578.5,523.4 580.42,523.48 582.41,523.56 584.46,523.64 586.56,523.71 588.69,523.77 590.84,523.84 593,523.91 595.15,523.97 597.29,524.04 599.4,524.1 601.5,524.16 603.63,524.23 605.77,524.29 607.91,524.36 610.05,524.42 612.17,524.48 614.27,524.54 616.32,524.59 618.34,524.65 620.3,524.7 622.79,524.76 625.36,524.82 627.95,524.88 630.46,524.94 632.8,524.99 634.89,525.03 636.66,525.07 638,525.1"/>
<polyline fill="none" stroke="#4a0a92" stroke-width="1.25" stroke-linejoin="round" points="352,557.54 352.45,555.36 352.9,556.49 353.35,555.7 353.8,556.12 354.25,556.38 354.7,555.21 355.15,555.56 355.6,554.74 356.05,555.81 356.5,555 356.95,555.08 357.4,555.71 357.85,555.02 358.3,556.46 358.75,555.13 359.2,556.12 359.65,555.8 360.1,554.46 360.55,554.84 361,554.31 361.45,554.58 361.9,554.68 362.35,556.59 362.8,555.19 363.25,556.84 363.7,556.37 364.15,554.8 364.6,553.63 365.05,556.25 365.5,554.6 365.95,556.84 366.4,557.84 366.85,557.66 367.3,557.21 367.75,557.22 368.2,557.85 368.65,557.64 369.1,557.45 369.55,557.64 370,559.19 370.45,558.02 370.9,558.74 371.35,557.6 371.8,557.8 372.25,557.33 372.7,558.38 373.15,559.54 373.6,559.58 374.05,558.94 374.5,559.88 374.95,559.32 375.4,559.93 375.85,560.08 376.3,560.45 376.75,557.86 377.2,558.38 377.65,560.5 378.1,560.31 378.55,562.51 379,560.87 379.45,560.1 379.9,561.71 380.35,561.18 380.8,562.21 381.25,561.13 381.7,560.13 382.15,560.67 382.6,559.35 383.05,559.26 383.5,559.07 383.95,559.26 384.4,560.16 384.85,559.16 385.3,559.58 385.75,558.87 386.2,559.89 386.65,556.74 387.1,558.22 387.55,558.87 388,557.82 388.45,559.41 388.9,559.01 389.35,559.82 389.8,559.66 390.25,559.26 390.7,558.36 391.15,557.21 391.6,557.65 392.05,557.47 392.5,558.01 392.95,557.42 393.4,560.44 393.85,556.85 394.3,558.43 394.75,557.25 395.2,557.09 395.65,558.06 396.1,557.39 396.55,556.03 397,557.12 397.45,556.76 397.9,554.9 398.35,556.43 398.8,555.6 399.25,555.61 399.7,556.67 400.15,556.71 400.6,556.15 401.05,558.23 401.5,557.1 401.95,555.84 402.4,556.26 402.85,556 403.3,553.99 403.75,554.02 404.2,554.17 404.65,557.33 405.1,556.02 405.55,555.57 406,555.16 406.45,556.44 406.9,555.84 407.35,557.19 407.8,556.65 408.25,557.27 408.7,555.77 409.15,555.8 409.6,555.04 410.05,555.05 410.5,553.58 410.95,554.23 411.4,554.02 411.85,554.2 412.3,555.92 412.75,555.52 413.2,556.41 413.65,556.37 414.1,556.5 414.55,556.69 415,555.34 415.45,556.37 415.9,555.68 416.35,555.4 416.8,556.99 417.25,558.35 417.7,555.9 418.15,557.85 418.6,557.59 419.05,556.07 419.5,556.79 419.95,557.15 420.4,557.32 420.85,556.77 421.3,555.75 421.75,556.67 422.2,557.64 422.65,557.8 423.1,557.7 423.55,558.06 424,556.22 424.45,556.61 424.9,557.03 425.35,557.72 425.8,557.11 426.25,557.26 426.7,556.93 427.15,558.63 427.6,555.11 428.05,556.19 428.5,558.73 428.95,557.29 429.4,555.02 429.85,556.23 430.3,555.08 430.75,555.47 431.2,556.37 431.65,557.89 432.1,557.05 432.55,556.97 433,557.2 433.45,556.44 433.9,555.21 434.35,555.53 434.8,555.94 435.25,555.42 435.7,554.86 436.15,554.94 436.6,553.84 437.05,553.94 437.5,554.75 437.95,554.64 438.4,554.91 438.85,556.16 439.3,555.39 439.75,554.83 440.2,553.58 440.65,553.28 441.1,554.47 441.55,553.56 442,554.52 442.45,553.44 442.9,554.31 443.35,554.37 443.8,555.4 444.25,554.42 444.7,554.23 445.15,554.79 445.6,554.78 446.05,556.31 446.5,554.95 446.95,554.39 447.4,554.49 447.85,555.27 448.3,555.28 448.75,555.74 449.2,553.99 449.65,557.12 450.1,557.36 450.55,555.74 451,554.3 451.45,555.22 451.9,555.72 452.35,553.44 452.8,554.9 453.25,553.89 453.7,555.39 454.15,556.6 454.6,556.57 455.05,554.23 455.5,556.27 455.95,556.33 456.4,555.18 456.85,555.66 457.3,556.7 457.75,555.26 458.2,555.17 458.65,554.64 459.1,556.06 459.55,553.38 460,555.96 460.45,554.41 460.9,555.75 461.35,553.73 461.8,553.85 462.25,554.17 462.7,555.51 463.15,553.48 463.6,554.89 464.05,554 464.5,555.39 464.95,554.21 465.4,554.53 465.85,553.9 466.3,555.43 466.75,553.73 467.2,553.51 467.65,555.18 468.1,553.74 468.55,553.83 469,552.44 469.45,552.84 469.9,550.58 470.35,552.07 470.8,551.65 471.25,550.65 471.7,550.37 472.15,552.53 472.6,552.31 473.05,550.37 473.5,553 473.95,551.42 474.4,551.37 474.85,551.97 475.3,550.91 475.75,550.25 476.2,550.93 476.65,552.91 477.1,553.24 477.55,550.86 478,552.55 478.45,551.68 478.9,551.66 479.35,551.03 479.8,550.98 480.25,549.45 480.7,548.93 481.15,548.76 481.6,549.24 482.05,550.9 482.5,550.14 482.95,553.03 483.4,552.22 483.85,552.57 484.3,554.34 484.75,554.85 485.2,554.25 485.65,553.5 486.1,553.45 486.55,552.96 487,555.41 487.45,556.04 487.9,556.99 488.35,556.05 488.8,555.73 489.25,556.11 489.7,556.46 490.15,555.32 490.6,555.47 491.05,557.04 491.5,553.81 491.95,553.15 492.4,553.28 492.85,554.78 493.3,555.43 493.75,554.09 494.2,554.57 494.65,553.92 495.1,554.04 495.55,553.52 496,554 496.45,554.28 496.9,555.54 497.35,557 497.8,553.81 498.25,555.31 498.7,555.34 499.15,556.38 499.6,556.87 500.05,556.88 500.5,557.05 500.95,555.63 501.4,554.76 501.85,557.92 502.3,558.55 502.75,557 503.2,558.92 503.65,559.09 504.1,556.54 504.55,559.23 505,558.44 505.45,560.47 505.9,559.55 506.35,559.53 506.8,559.05 507.25,560.41 507.7,561.94 508.15,560.65 508.6,559.17 509.05,562.4 509.5,562.86 509.95,561.85 510.4,560.41 510.85,559.36 511.3,558.64 511.75,560.4 512.2,561.45 512.65,559.49 513.1,559.9 513.55,559.68 514,559.58 514.45,560.18 514.9,561.71 515.35,559.53 515.8,560.28 516.25,560.5 516.7,559.1 517.15,558.7 517.6,557.32 518.05,559.01 518.5,557.77 518.95,557.17 519.4,557.49 519.85,556.55 520.3,555.96 520.75,556.31 521.2,557.85 521.65,556.5 522.1,556.65 522.55,554.68 523,553.56 523.45,556.55 523.9,555.08 524.35,553.64 524.8,554.83 525.25,555.94 525.7,554.24 526.15,554.75 526.6,556.09 527.05,555.5 527.5,557.09 527.95,557.8 528.4,557.66 528.85,558.05 529.3,559.46 529.75,560.23 530.2,561.84 530.65,563.61 531.1,564.45 531.55,566.67 532,568.68 532.45,566.5 532.9,566.97 533.35,567.72 533.8,567.95 534.25,567.39 534.7,567.23 535.15,568.74 535.6,568.97 536.05,569.12 536.5,568.15 536.95,569.59 537.4,570.76 537.85,570.73 538.3,572.06 538.75,574.36 539.2,571.8 539.65,574.01 540.1,573.51 540.55,573.65 541,574.15 541.45,574.69 541.9,574.06 542.35,572.48 542.8,571.52 543.25,571.78 543.7,572.06 544.15,571.05 544.6,569.87 545.05,572.26 545.5,570.43 545.95,570.53 546.4,570.11 546.85,569.88 547.3,570.32 547.75,570.03 548.2,570.72 548.65,569.15 549.1,568.39 549.55,571.28 550,570.05 550.45,570.44 550.9,570.83 551.35,570.27 551.8,569.57 552.25,567.84 552.7,567.29 553.15,569.43 553.6,569.6 554.05,569.4 554.5,567.18 554.95,566.06 555.4,566.64 555.85,566.55 556.3,567.63 556.75,566.69 557.2,568.73 557.65,567.08 558.1,566.6 558.55,567.66 559,567.31 559.45,565.97 559.9,567.09 560.35,568.26 560.8,565.52 561.25,565.61 561.7,564.75 562.15,563.57 562.6,565.47 563.05,565.84 563.5,566.03 563.95,565.4 564.4,562.83 564.85,563.85 565.3,563.35 565.75,562.59 566.2,562.3 566.65,563.79 567.1,563.01 567.55,564.74 568,563.63 568.45,560.92 568.9,562.6 569.35,563.12 569.8,561.89 570.25,560.21 570.7,562.31 571.15,559.77 571.6,560.03 572.05,558.19 572.5,558.1 572.95,557.44 573.4,559.62 573.85,560.02 574.3,558.43 574.75,557.28 575.2,558.23 575.65,558.92 576.1,557.37 576.55,557.36 577,558.37 577.45,559.41 577.9,559.13 578.35,559.45 578.8,558 579.25,556.53 579.7,558.79 580.15,558.26 580.6,558.9 581.05,558.87 581.5,559.69 581.95,558.78 582.4,560.64 582.85,559.84 583.3,560.15 583.75,560.37 584.2,560.84 584.65,560.42 585.1,558.36 585.55,558.93 586,561.43 586.45,560.81 586.9,560.78 587.35,560.73 587.8,559.73 588.25,559.5 588.7,559.51 589.15,561.23 589.6,560.97 590.05,562.27 590.5,561.44 590.95,562.58 591.4,561.57 591.85,559.83 592.3,562.16 592.75,561.47 593.2,562.14 593.65,561.43 594.1,560.79 594.55,561.14 595,560.06 595.45,559.76 595.9,560.01 596.35,560.46 596.8,559.83 597.25,560.88 597.7,561.57 598.15,563.38 598.6,563.7 599.05,562.06 599.5,562.53 599.95,561.53 600.4,561.78 600.85,561.38 601.3,560.74 601.75,561.1 602.2,559.67 602.65,561.04 603.1,560.63 603.55,559.73 604,560.11 604.45,560.99 604.9,560 605.35,560.76 605.8,560.98 606.25,561.89 606.7,559.58 607.15,559.85 607.6,560.43 608.05,561.48 608.5,560.56 608.95,560.77 609.4,558.72 609.85,559.01 610.3,561.16 610.75,559.85 611.2,561.79 611.65,559.55 612.1,559.38 612.55,558.09 613,559.82 613.45,559.89 613.9,561.52 614.35,560.17 614.8,559.42 615.25,558.12 615.7,559.02 616.15,560.18 616.6,560.25 617.05,560.71 617.5,560.45 617.95,559.51 618.4,559.86 618.85,559.52 619.3,558 619.75,560.45 620.2,559.79 620.65,558.31 621.1,559.33 621.55,559.52 622,560.26 622.45,560.89 622.9,556.87 623.35,559.27 623.8,560.82 624.25,558.9 624.7,557.6 625.15,559.31 625.6,559.82 626.05,559.99 626.5,558.69 626.95,559 627.4,559.73 627.85,560.46 628.3,562.03 628.75,560.67 629.2,559.51 629.65,557.6 630.1,560.38 630.55,559.97 631,559.74 631.45,558.67 631.9,559.86 632.35,557.61 632.8,558.67 633.25,558.78 633.7,558.81 634.15,559.6 634.6,558.31 635.05,558 635.5,558.48 635.95,556.16 636.4,556.6 636.85,556.88 637.3,557.62 637.75,555.99"/>
<line x1="481.4" y1="507.8" x2="481.4" y2="516.61" stroke="#0c00f5" stroke-width="0.7" stroke-opacity="0.42"/>
<line x1="484" y1="507" x2="484" y2="516.55" stroke="#0c00f5" stroke-width="0.7" stroke-opacity="0.42"/>
<line x1="486.5" y1="508.5" x2="486.5" y2="516.49" stroke="#0c00f5" stroke-width="0.7" stroke-opacity="0.42"/>
<line x1="489" y1="508" x2="489" y2="516.44" stroke="#0c00f5" stroke-width="0.7" stroke-opacity="0.42"/>
<line x1="492" y1="507.6" x2="492" y2="516.37" stroke="#1204f7" stroke-width="0.7" stroke-opacity="0.42"/>
<line x1="495" y1="508" x2="495" y2="516.3" stroke="#1204f7" stroke-width="0.7" stroke-opacity="0.42"/>
<line x1="496.7" y1="507.4" x2="496.7" y2="516.28" stroke="#1204f7" stroke-width="0.7" stroke-opacity="0.42"/>
<line x1="500.8" y1="510.5" x2="500.8" y2="516.23" stroke="#1e0dfb" stroke-width="0.7" stroke-opacity="0.42"/>
<line x1="503.8" y1="511.1" x2="503.8" y2="516.19" stroke="#2412fd" stroke-width="0.7" stroke-opacity="0.42"/>
<line x1="553.5" y1="532.4" x2="553.5" y2="521.14" stroke="#966c70" stroke-width="0.7" stroke-opacity="0.42"/>
<circle cx="405.9" cy="518.2" r="2.05" fill="#0c00f5"/>
<circle cx="481.4" cy="507.8" r="2.05" fill="#0c00f5"/>
<circle cx="484" cy="507" r="2.05" fill="#0c00f5"/>
<circle cx="486.5" cy="508.5" r="2.05" fill="#0c00f5"/>
<circle cx="489" cy="508" r="2.05" fill="#0c00f5"/>
<circle cx="492" cy="507.6" r="2.05" fill="#1204f7"/>
<circle cx="495" cy="508" r="2.05" fill="#1204f7"/>
<circle cx="496.7" cy="507.4" r="2.05" fill="#1204f7"/>
<circle cx="500.8" cy="510.5" r="2.05" fill="#1e0dfb"/>
<circle cx="503.8" cy="511.1" r="2.05" fill="#2412fd"/>
<circle cx="524.2" cy="514" r="2.05" fill="#2a16ff"/>
<circle cx="526.5" cy="514" r="2.05" fill="#2e1cf7"/>
<circle cx="528.4" cy="514.5" r="2.05" fill="#3222ef"/>
<circle cx="531.5" cy="516.7" r="2.05" fill="#3e34d7"/>
<circle cx="536.3" cy="519.9" r="2.05" fill="#868082"/>
<circle cx="553.5" cy="532.4" r="2.05" fill="#966c70"/>
<circle cx="566" cy="524.1" r="2.05" fill="#868082"/>
<circle cx="638" cy="525.1" r="2.05" fill="#868082"/>
<line x1="352.5" y1="417.5" x2="352.5" y2="460.3" stroke="#7470c8" stroke-width="1"/>
<line x1="352.5" y1="460.3" x2="352.5" y2="503.5" stroke="#77b5a8" stroke-width="1"/>
<line x1="352.5" y1="503.5" x2="352.5" y2="546.8" stroke="#656565" stroke-width="1"/>
<line x1="352.5" y1="546.8" x2="352.5" y2="589.5" stroke="#9a7ccf" stroke-width="1"/>
<line x1="638.5" y1="417.5" x2="638.5" y2="460.3" stroke="#7470c8" stroke-width="1"/>
<line x1="638.5" y1="460.3" x2="638.5" y2="503.5" stroke="#77b5a8" stroke-width="1"/>
<line x1="638.5" y1="503.5" x2="638.5" y2="546.8" stroke="#656565" stroke-width="1"/>
<line x1="638.5" y1="546.8" x2="638.5" y2="589.5" stroke="#9a7ccf" stroke-width="1"/>
<line x1="352" y1="417.5" x2="639" y2="417.5" stroke="#656565" stroke-width="1"/>
<line x1="352" y1="589.5" x2="639" y2="589.5" stroke="#656565" stroke-width="1"/>
<line x1="349.9" y1="417.3" x2="352.5" y2="417.3" stroke="#7470c8" stroke-width="0.9"/><line x1="638.5" y1="417.3" x2="641.1" y2="417.3" stroke="#7470c8" stroke-width="0.9"/><line x1="349.9" y1="424.4" x2="352.5" y2="424.4" stroke="#7470c8" stroke-width="0.9"/><line x1="638.5" y1="424.4" x2="641.1" y2="424.4" stroke="#7470c8" stroke-width="0.9"/><line x1="349.9" y1="431.5" x2="352.5" y2="431.5" stroke="#7470c8" stroke-width="0.9"/><line x1="638.5" y1="431.5" x2="641.1" y2="431.5" stroke="#7470c8" stroke-width="0.9"/><line x1="349.9" y1="438.6" x2="352.5" y2="438.6" stroke="#7470c8" stroke-width="0.9"/><line x1="638.5" y1="438.6" x2="641.1" y2="438.6" stroke="#7470c8" stroke-width="0.9"/><line x1="349.9" y1="445.7" x2="352.5" y2="445.7" stroke="#7470c8" stroke-width="0.9"/><line x1="638.5" y1="445.7" x2="641.1" y2="445.7" stroke="#7470c8" stroke-width="0.9"/><line x1="349.9" y1="452.8" x2="352.5" y2="452.8" stroke="#7470c8" stroke-width="0.9"/><line x1="638.5" y1="452.8" x2="641.1" y2="452.8" stroke="#7470c8" stroke-width="0.9"/><line x1="349.9" y1="459.9" x2="352.5" y2="459.9" stroke="#7470c8" stroke-width="0.9"/><line x1="638.5" y1="459.9" x2="641.1" y2="459.9" stroke="#7470c8" stroke-width="0.9"/><line x1="349.9" y1="466.2" x2="352.5" y2="466.2" stroke="#77b5a8" stroke-width="0.9"/><line x1="638.5" y1="466.2" x2="641.1" y2="466.2" stroke="#77b5a8" stroke-width="0.9"/><line x1="349.9" y1="472.5" x2="352.5" y2="472.5" stroke="#77b5a8" stroke-width="0.9"/><line x1="638.5" y1="472.5" x2="641.1" y2="472.5" stroke="#77b5a8" stroke-width="0.9"/><line x1="349.9" y1="478.8" x2="352.5" y2="478.8" stroke="#77b5a8" stroke-width="0.9"/><line x1="638.5" y1="478.8" x2="641.1" y2="478.8" stroke="#77b5a8" stroke-width="0.9"/><line x1="349.9" y1="485.1" x2="352.5" y2="485.1" stroke="#77b5a8" stroke-width="0.9"/><line x1="638.5" y1="485.1" x2="641.1" y2="485.1" stroke="#77b5a8" stroke-width="0.9"/><line x1="349.9" y1="491.4" x2="352.5" y2="491.4" stroke="#77b5a8" stroke-width="0.9"/><line x1="638.5" y1="491.4" x2="641.1" y2="491.4" stroke="#77b5a8" stroke-width="0.9"/><line x1="349.9" y1="497.7" x2="352.5" y2="497.7" stroke="#77b5a8" stroke-width="0.9"/><line x1="638.5" y1="497.7" x2="641.1" y2="497.7" stroke="#77b5a8" stroke-width="0.9"/><line x1="349.9" y1="503.4" x2="352.5" y2="503.4" stroke="#656565" stroke-width="0.9"/><line x1="638.5" y1="503.4" x2="641.1" y2="503.4" stroke="#656565" stroke-width="0.9"/><line x1="349.9" y1="514.2" x2="352.5" y2="514.2" stroke="#656565" stroke-width="0.9"/><line x1="638.5" y1="514.2" x2="641.1" y2="514.2" stroke="#656565" stroke-width="0.9"/><line x1="349.9" y1="525" x2="352.5" y2="525" stroke="#656565" stroke-width="0.9"/><line x1="638.5" y1="525" x2="641.1" y2="525" stroke="#656565" stroke-width="0.9"/><line x1="349.9" y1="535.8" x2="352.5" y2="535.8" stroke="#656565" stroke-width="0.9"/><line x1="638.5" y1="535.8" x2="641.1" y2="535.8" stroke="#656565" stroke-width="0.9"/><line x1="349.9" y1="546.6" x2="352.5" y2="546.6" stroke="#656565" stroke-width="0.9"/><line x1="638.5" y1="546.6" x2="641.1" y2="546.6" stroke="#656565" stroke-width="0.9"/><line x1="349.9" y1="549.5" x2="352.5" y2="549.5" stroke="#9a7ccf" stroke-width="0.9"/><line x1="638.5" y1="549.5" x2="641.1" y2="549.5" stroke="#9a7ccf" stroke-width="0.9"/><line x1="349.9" y1="557.5" x2="352.5" y2="557.5" stroke="#9a7ccf" stroke-width="0.9"/><line x1="638.5" y1="557.5" x2="641.1" y2="557.5" stroke="#9a7ccf" stroke-width="0.9"/><line x1="349.9" y1="565.5" x2="352.5" y2="565.5" stroke="#9a7ccf" stroke-width="0.9"/><line x1="638.5" y1="565.5" x2="641.1" y2="565.5" stroke="#9a7ccf" stroke-width="0.9"/><line x1="349.9" y1="573.5" x2="352.5" y2="573.5" stroke="#9a7ccf" stroke-width="0.9"/><line x1="638.5" y1="573.5" x2="641.1" y2="573.5" stroke="#9a7ccf" stroke-width="0.9"/><line x1="349.9" y1="581.5" x2="352.5" y2="581.5" stroke="#9a7ccf" stroke-width="0.9"/><line x1="638.5" y1="581.5" x2="641.1" y2="581.5" stroke="#9a7ccf" stroke-width="0.9"/><line x1="349.9" y1="589.5" x2="352.5" y2="589.5" stroke="#9a7ccf" stroke-width="0.9"/><line x1="638.5" y1="589.5" x2="641.1" y2="589.5" stroke="#9a7ccf" stroke-width="0.9"/><line x1="352.5" y1="589.5" x2="352.5" y2="592.1" stroke="#656565" stroke-width="0.8"/><line x1="447.83" y1="589.5" x2="447.83" y2="592.1" stroke="#656565" stroke-width="0.8"/><line x1="543.17" y1="589.5" x2="543.17" y2="592.1" stroke="#656565" stroke-width="0.8"/><line x1="638.5" y1="589.5" x2="638.5" y2="592.1" stroke="#656565" stroke-width="0.8"/><line x1="352.5" y1="414.9" x2="352.5" y2="417.5" stroke="#656565" stroke-width="0.8"/><line x1="400.17" y1="414.9" x2="400.17" y2="417.5" stroke="#656565" stroke-width="0.8"/><line x1="447.83" y1="414.9" x2="447.83" y2="417.5" stroke="#656565" stroke-width="0.8"/><line x1="495.5" y1="414.9" x2="495.5" y2="417.5" stroke="#656565" stroke-width="0.8"/><line x1="543.17" y1="414.9" x2="543.17" y2="417.5" stroke="#656565" stroke-width="0.8"/><line x1="590.83" y1="414.9" x2="590.83" y2="417.5" stroke="#656565" stroke-width="0.8"/><line x1="638.5" y1="414.9" x2="638.5" y2="417.5" stroke="#656565" stroke-width="0.8"/>
<text x="352.5" y="600.1" font-size="8.5" fill="#262626" text-anchor="middle" textLength="10.24" lengthAdjust="spacingAndGlyphs">30</text>
<text x="447.83" y="600.1" font-size="8.5" fill="#262626" text-anchor="middle" textLength="10.24" lengthAdjust="spacingAndGlyphs">20</text>
<text x="543.17" y="600.1" font-size="8.5" fill="#262626" text-anchor="middle" textLength="10.24" lengthAdjust="spacingAndGlyphs">10</text>
<text x="638.5" y="600.1" font-size="8.5" fill="#262626" text-anchor="middle" textLength="5.12" lengthAdjust="spacingAndGlyphs">0</text>
<text x="495.5" y="610.5" font-size="8.7" fill="#262626" text-anchor="middle" textLength="37.76" lengthAdjust="spacingAndGlyphs">Time [ka]</text>
<text x="357.9" y="425.8" font-size="8.4" fill="#111" text-anchor="start" font-weight="bold" textLength="38.63" lengthAdjust="spacingAndGlyphs">(f) MIS 1</text>
<text x="643.1" y="469.2" font-size="8.6" fill="#3d9382" text-anchor="start" textLength="5.15" lengthAdjust="spacingAndGlyphs">0</text>
<text x="643.1" y="475.5" font-size="8.6" fill="#3d9382" text-anchor="start" textLength="17.09" lengthAdjust="spacingAndGlyphs">−20</text>
<text x="643.1" y="481.8" font-size="8.6" fill="#3d9382" text-anchor="start" textLength="17.09" lengthAdjust="spacingAndGlyphs">−40</text>
<text x="643.1" y="488.1" font-size="8.6" fill="#3d9382" text-anchor="start" textLength="17.09" lengthAdjust="spacingAndGlyphs">−60</text>
<text x="643.1" y="494.4" font-size="8.6" fill="#3d9382" text-anchor="start" textLength="17.09" lengthAdjust="spacingAndGlyphs">−80</text>
<text x="643.1" y="500.7" font-size="8.6" fill="#3d9382" text-anchor="start" textLength="22.25" lengthAdjust="spacingAndGlyphs">−100</text>
<text x="643.1" y="553.1" font-size="8.6" fill="#4a0a92" text-anchor="start" textLength="5.15" lengthAdjust="spacingAndGlyphs">5</text>
<text x="643.1" y="561.1" font-size="8.6" fill="#4a0a92" text-anchor="start" textLength="5.15" lengthAdjust="spacingAndGlyphs">0</text>
<text x="643.1" y="569.1" font-size="8.6" fill="#4a0a92" text-anchor="start" textLength="11.94" lengthAdjust="spacingAndGlyphs">−5</text>
<text x="643.1" y="577.1" font-size="8.6" fill="#4a0a92" text-anchor="start" textLength="17.09" lengthAdjust="spacingAndGlyphs">−10</text>
<text x="643.1" y="585.1" font-size="8.6" fill="#4a0a92" text-anchor="start" textLength="17.09" lengthAdjust="spacingAndGlyphs">−15</text>
<text x="643.1" y="593.1" font-size="8.6" fill="#4a0a92" text-anchor="start" textLength="17.09" lengthAdjust="spacingAndGlyphs">−20</text>
<text transform="translate(674.1,482.6) rotate(-90)" x="0" y="0" font-size="8.8" fill="#3d9382" text-anchor="middle" textLength="59" lengthAdjust="spacingAndGlyphs">GMSL anomaly</text>
<text transform="translate(684.1,482.9) rotate(-90)" x="0" y="0" font-size="8.8" fill="#3d9382" text-anchor="middle" textLength="11.5" lengthAdjust="spacingAndGlyphs">[m]</text>
<text transform="translate(668.5,568.4) rotate(-90)" x="0" y="0" font-size="8.8" fill="#4a0a92" text-anchor="middle" textLength="31.7" lengthAdjust="spacingAndGlyphs"><tspan font-style="italic">dV</tspan><tspan font-size="5.6" dy="1.6">SLE</tspan><tspan dy="-1.6" font-style="italic">/dt</tspan></text>
<text transform="translate(678.5,569.3) rotate(-90)" x="0" y="0" font-size="8.8" fill="#4a0a92" text-anchor="middle" textLength="44.3" lengthAdjust="spacingAndGlyphs">[cm/100yr]</text>
</g>
<defs><linearGradient id="cb" x1="0" y1="0" x2="1" y2="0">
<stop offset="0" stop-color="rgb(12,0,245)"/>
<stop offset="0.12" stop-color="rgb(42,22,255)"/>
<stop offset="0.25" stop-color="rgb(62,52,215)"/>
<stop offset="0.38" stop-color="rgb(100,96,170)"/>
<stop offset="0.5" stop-color="rgb(134,128,130)"/>
<stop offset="0.56" stop-color="rgb(146,112,116)"/>
<stop offset="0.62" stop-color="rgb(166,90,95)"/>
<stop offset="0.75" stop-color="rgb(198,62,66)"/>
<stop offset="0.88" stop-color="rgb(222,44,44)"/>
<stop offset="1" stop-color="rgb(255,20,10)"/>
</linearGradient></defs>
<polygon points="241.4,638.7 230.9,644.3 241.4,649.9" fill="rgb(10,0,245)" stroke="#333" stroke-width="0.6"/>
<rect x="241.4" y="638.7" width="203.4" height="11.2" fill="url(#cb)" stroke="#333" stroke-width="0.6"/>
<line x1="241.4" y1="639.2" x2="241.4" y2="649.4" stroke="rgb(10,0,245)" stroke-width="1.2"/>
<line x1="241.4" y1="649.9" x2="241.4" y2="652.5" stroke="#444" stroke-width="0.8"/>
<text x="241.4" y="660.3" font-size="8.5" fill="#262626" text-anchor="middle" textLength="19.43" lengthAdjust="spacingAndGlyphs">−2.0</text>
<line x1="266.82" y1="649.9" x2="266.82" y2="652.5" stroke="#444" stroke-width="0.8"/>
<text x="266.82" y="660.3" font-size="8.5" fill="#262626" text-anchor="middle" textLength="19.43" lengthAdjust="spacingAndGlyphs">−1.5</text>
<line x1="292.25" y1="649.9" x2="292.25" y2="652.5" stroke="#444" stroke-width="0.8"/>
<text x="292.25" y="660.3" font-size="8.5" fill="#262626" text-anchor="middle" textLength="19.43" lengthAdjust="spacingAndGlyphs">−1.0</text>
<line x1="317.68" y1="649.9" x2="317.68" y2="652.5" stroke="#444" stroke-width="0.8"/>
<text x="317.68" y="660.3" font-size="8.5" fill="#262626" text-anchor="middle" textLength="19.43" lengthAdjust="spacingAndGlyphs">−0.5</text>
<line x1="343.1" y1="649.9" x2="343.1" y2="652.5" stroke="#444" stroke-width="0.8"/>
<text x="343.1" y="660.3" font-size="8.5" fill="#262626" text-anchor="middle" textLength="12.72" lengthAdjust="spacingAndGlyphs">0.0</text>
<line x1="368.52" y1="649.9" x2="368.52" y2="652.5" stroke="#444" stroke-width="0.8"/>
<text x="368.52" y="660.3" font-size="8.5" fill="#262626" text-anchor="middle" textLength="12.72" lengthAdjust="spacingAndGlyphs">0.5</text>
<line x1="393.95" y1="649.9" x2="393.95" y2="652.5" stroke="#444" stroke-width="0.8"/>
<text x="393.95" y="660.3" font-size="8.5" fill="#262626" text-anchor="middle" textLength="12.72" lengthAdjust="spacingAndGlyphs">1.0</text>
<line x1="419.38" y1="649.9" x2="419.38" y2="652.5" stroke="#444" stroke-width="0.8"/>
<text x="419.38" y="660.3" font-size="8.5" fill="#262626" text-anchor="middle" textLength="12.72" lengthAdjust="spacingAndGlyphs">1.5</text>
<line x1="444.8" y1="649.9" x2="444.8" y2="652.5" stroke="#444" stroke-width="0.8"/>
<text x="444.8" y="660.3" font-size="8.5" fill="#262626" text-anchor="middle" textLength="12.72" lengthAdjust="spacingAndGlyphs">2.0</text>
<text x="343.5" y="670.9" font-size="8.2" fill="#262626" text-anchor="middle" textLength="129.7" lengthAdjust="spacingAndGlyphs">Equilibrium run <tspan font-style="italic">T</tspan><tspan font-size="5.6" font-style="italic" dy="1.6">O</tspan><tspan dy="-1.6"> anomaly [°C]</tspan></text>
</svg></body></html>
